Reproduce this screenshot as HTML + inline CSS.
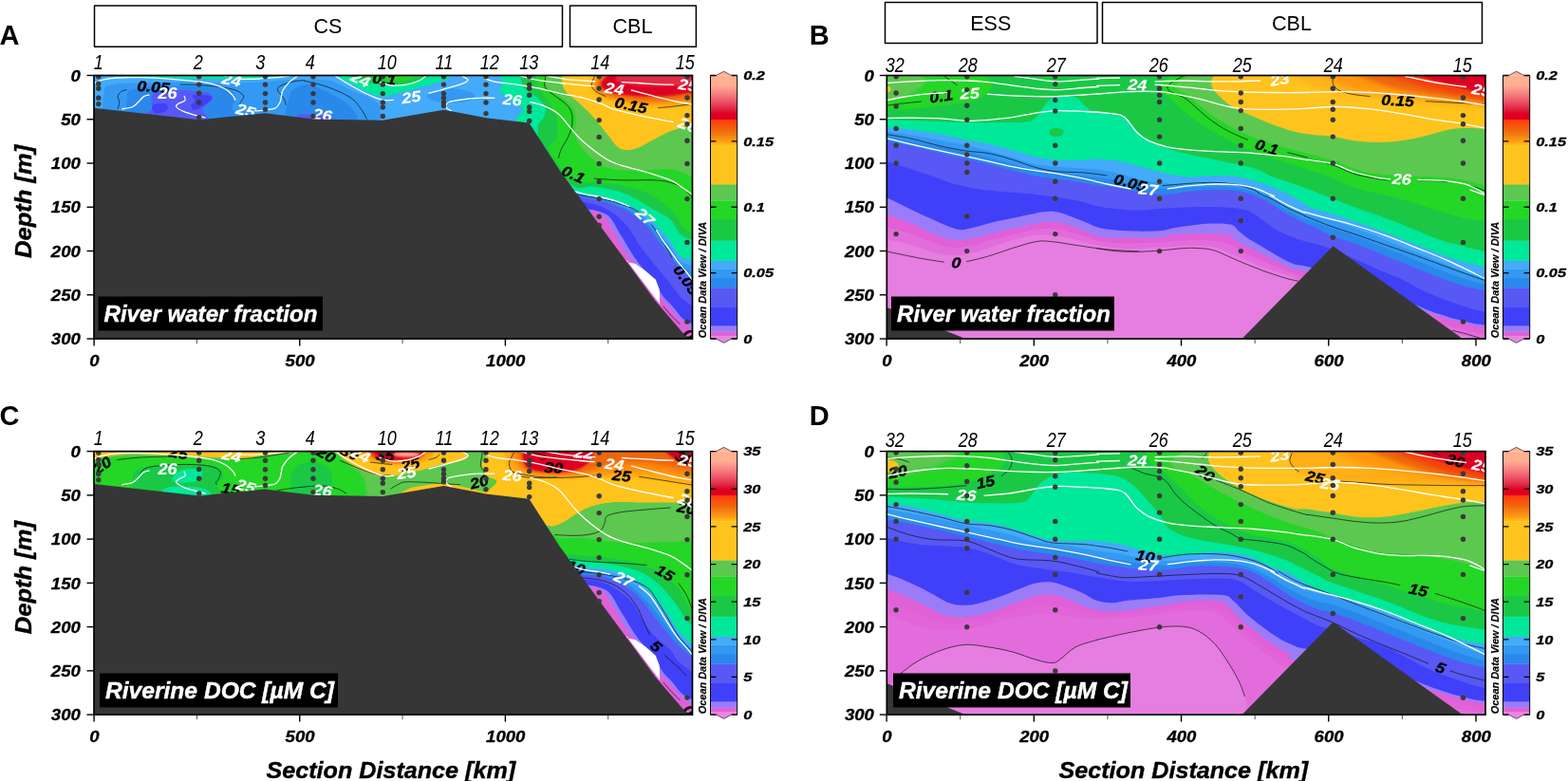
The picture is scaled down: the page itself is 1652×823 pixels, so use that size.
<!DOCTYPE html>
<html lang="en"><head><meta charset="utf-8"><title>Figure</title>
<style>html,body{margin:0;padding:0;background:#fff;}body{width:1652px;height:823px;overflow:hidden;}svg{display:block;font-family:'Liberation Sans', sans-serif;}</style></head><body>
<svg width="1652" height="823" viewBox="0 0 1652 823">
<rect width="1652" height="823" fill="#fff"/>
<!-- panel A -->
<clipPath id="clipA"><rect x="99.0" y="79.5" width="630.5" height="277.5"/></clipPath>
<g clip-path="url(#clipA)">
<defs><filter id="blur1" x="-20%" y="-20%" width="140%" height="140%"><feGaussianBlur stdDeviation="1.2"/></filter><filter id="blur2" x="-20%" y="-20%" width="140%" height="140%"><feGaussianBlur stdDeviation="2"/></filter></defs>
<rect x="99.0" y="79.5" width="630.5" height="277.5" fill="#44aafa"/>
<path d="M108,115 C108.3,111.7 108.8,99.2 110,95 C111.2,90.8 110,91.2 115,90 C120,88.8 127.5,88.1 140,87.5 C152.5,86.9 173.3,86.5 190,86.5 C206.7,86.5 226.2,87.5 240,87.5 C253.8,87.5 262,87.1 273,86.5 C284,85.9 294.8,84.4 306,84 C317.2,83.6 332.2,83.6 340,84 C347.8,84.4 348,84.8 353,86.6 C358,88.4 363.8,92.2 370,95 C376.2,97.8 385,100.5 390,103.3 C395,106.1 398.3,107.5 400,111.6 C401.7,115.7 400,125.3 400,128 L108,128Z" fill="#3399f2" />
<path d="M132.4,118.3 C132.7,115.8 133.4,107 134.1,103.3 C134.8,99.5 132.8,97.8 136.6,95.8 C140.3,93.8 147.7,92.4 156.6,91.6 C165.5,90.8 178.8,90.8 189.9,90.8 C201,90.8 214.3,90.9 223.2,91.6 C232.1,92.3 239,93 243.2,95 C247.3,97 247.8,100.2 248.1,103.3 C248.4,106.3 244.8,110.2 244.8,113.3 C244.8,116.3 247.6,120.2 248.1,121.6 L248,135 L132,135Z" fill="#2a88ea" />
<path d="M299.8,121.6 C300.6,118.5 303.3,107.7 304.7,103.3 C306.1,98.9 305,97.4 308.1,95 C311.2,92.6 318.4,89.4 323.1,89.1 C327.9,88.8 330.2,90.1 336.6,93 C343,95.9 355.2,102.1 361.6,106.6 C368,111.1 372.4,116.4 374.9,120 C377.4,123.6 376.3,126.7 376.6,128 L300,128Z" fill="#2a88ea" />
<path d="M450,101 C450.3,98.9 457,95.8 462,94.5 C467,93.2 474,92.9 480,93.5 C486,94.1 495.2,96.1 498,98 C500.8,99.9 500,103.2 497,105 C494,106.8 486.2,108.2 480,108.5 C473.8,108.8 465,108.2 460,107 C455,105.8 449.7,103.1 450,101Z" fill="#3399f2" />
<path d="M159.9,101.6 C161.3,98.5 163.2,97.7 168.2,96.6 C173.2,95.5 181.8,94.8 189.9,95 C198,95.2 210.9,96.4 216.5,97.5 C222.1,98.6 222.1,100.2 223.2,101.6 C224.3,103 224,104.4 223.2,105.8 C222.4,107.2 219.9,108.2 218.2,110 C216.5,111.8 213.5,113.6 213.2,116.6 C212.9,119.6 226.5,126.8 216.5,128 C206.5,129.2 162.7,126.2 153.3,124 C143.9,121.8 158.8,118.7 159.9,115 C161,111.3 158.5,104.7 159.9,101.6Z" fill="#5858f5" />
<path d="M161,111 C162.7,109.3 170.3,108.7 173,109 C175.7,109.3 177,111.5 177,113 C177,114.5 175.3,117 173,118 C170.7,119 165,120.2 163,119 C161,117.8 159.3,112.7 161,111Z" fill="#4040f8" />
<path d="M203,100 C205.6,99.2 218.3,100.1 221.5,101 C224.7,101.9 223.1,103.8 222,105.5 C220.9,107.2 217.8,109.2 215,111 C212.2,112.8 207.2,116 205,116 C202.8,116 201.3,112.7 201.5,111 C201.7,109.3 205.8,107.8 206,106 C206.2,104.2 200.4,100.8 203,100Z" fill="#4040f8" />
<path d="M313,120.8 L333,120.3 L350,123.5 L350,128 L313,128Z" fill="#5858f5" />
<path d="M110,79.5 C116.7,79.9 133.8,81.4 150,82 C166.2,82.6 192,82.8 207,83 C222,83.2 229.5,83.5 240,83.5 C250.5,83.5 261.7,83.3 270,83 C278.3,82.7 282.8,82.1 290,81.5 C297.2,80.9 309.2,79.8 313,79.5 L313,78 L110,78Z" fill="#00e89a" />
<path d="M353.3,79.5 C356.1,81 363.8,85.2 369.9,88.3 C376,91.4 384.3,96.1 389.9,98.3 C395.4,100.5 398.2,101.6 403.2,101.6 C408.2,101.6 412.9,100 419.9,98.3 C426.8,96.6 437.7,93.5 444.9,91.6 C452.1,89.6 457.7,88.6 463.2,86.6 C468.7,84.6 475.6,80.7 478.1,79.5 L478,78 L353,78Z" fill="#00e89a" />
<path d="M366.6,79.5 C369.9,80.7 379.9,84.8 386.6,86.6 C393.3,88.3 399.7,89.7 406.6,90 C413.5,90.3 421.6,89.4 428.2,88.3 C434.8,87.2 442.3,84.8 446.5,83.3 C450.7,81.8 452.1,80.1 453.2,79.5 L453,78 L366,78Z" fill="#1ac846" />
<path d="M388,79.5 C390,80.2 395,83 400,84 C405,85 412.3,85.7 418,85.5 C423.7,85.3 430.3,84 434,83 C437.7,82 439,80.1 440,79.5 L440,78 L388,78Z" fill="#24d626" />
<path d="M606,203.5 C610.3,204.3 624.6,206.8 631.6,208.5 C638.6,210.2 642.7,211.6 648.2,213.5 C653.8,215.4 659.4,217 664.9,220 C670.4,223 676.5,227.2 681.5,231.5 C686.5,235.8 690.6,240.9 694.8,245.6 C699,250.3 702.9,255 706.5,259.9 C710.1,264.8 712.7,271.5 716.5,274.9 C720.3,278.2 727.3,279.1 729.5,280 L731.5,359 L600,359Z" fill="#3399f2" />
<path d="M607,205 C611.1,205.8 624.7,208.3 631.6,210 C638.5,211.7 642.7,212.9 648.2,215 C653.8,217.1 659.4,219.2 664.9,222.5 C670.4,225.8 676.7,230.5 681.5,235 C686.3,239.5 689.3,244.5 693.5,249.5 C697.7,254.5 702.7,260.1 706.5,265 C710.3,269.9 712.7,275.3 716.5,279 C720.3,282.7 727.3,285.7 729.5,287 L731.5,359 L600,359Z" fill="#2a88ea" />
<path d="M608.3,206.6 C612.2,207.4 625,209.9 631.6,211.6 C638.2,213.3 642.7,214.4 648.2,216.6 C653.8,218.8 659.4,221.3 664.9,224.9 C670.4,228.5 676.8,233.6 681.5,238.3 C686.2,243 689,247.9 693.2,253.2 C697.4,258.5 702.6,264.9 706.5,269.9 C710.4,274.9 712.7,279 716.5,283.2 C720.3,287.4 727.3,292.9 729.5,294.9 L731.5,359 L600,359Z" fill="#5858f5" />
<path d="M611,212 C614.4,212.8 625.4,214.7 631.6,217 C637.8,219.3 642.9,222.2 648,226 C653.1,229.8 657.5,234.3 662,240 C666.5,245.7 671,254.4 674.9,260 C678.8,265.6 682,268.9 685.6,273.4 C689.2,277.8 692.7,282.3 696.3,286.7 C699.9,291.1 703.5,295.5 707,300 C710.5,304.5 713.9,309.7 717.6,313.5 C721.4,317.3 727.5,321.2 729.5,322.8 L731.5,359 L600,359Z" fill="#4040f8" />
<path d="M618.2,219.9 C621.8,221 634.1,222.2 639.9,226.6 C645.7,231 648.8,239.7 653.2,246.6 C657.6,253.5 662.7,262.5 666.5,268.2 C670.3,273.9 672.2,276.4 676,281 C679.8,285.6 685.2,290.8 689,296 C692.8,301.2 695.2,307.6 698.5,312.1 C701.8,316.6 705.1,319 708.5,322.8 C711.9,326.6 715.1,331.8 718.6,334.9 C722.1,338 727.7,340.4 729.5,341.5 L731.5,359 L600,359Z" fill="#9a7cf8" />
<path d="M623.2,220.8 C625.4,222.1 632.4,224 636.6,228.3 C640.8,232.6 644.3,240.2 648.2,246.6 C652.1,253 656.3,261.2 659.9,266.6 C663.5,272 666,274.1 670,279 C674,283.9 679.9,290.5 684,296 C688.1,301.5 691.5,307.6 694.9,312.1 C698.3,316.6 700.9,319 704.3,322.8 C707.6,326.6 711.4,331.3 715,334.9 C718.6,338.5 723.3,342.2 725.7,344.2 C728.1,346.2 728.9,346.4 729.5,346.9 L731.5,359 L600,359Z" fill="#e060d8" />
<path d="M524.8,79.5 C525.6,80.7 529.5,83.8 529.8,86.6 C530.1,89.4 525.3,93.8 526.4,96.6 C527.5,99.4 532.5,100.5 536.4,103.3 C540.3,106.1 547.8,110.5 549.7,113.3 C551.7,116.1 548.9,117.5 548.1,120 C547.3,122.5 542.7,121.6 544.7,128.3 C546.7,135 549.7,147.8 560,160 C570.3,172.2 594.7,193.8 606.6,201.6 C618.5,209.4 624.7,204.9 631.6,206.6 C638.5,208.3 642.7,209.8 648.2,211.6 C653.8,213.4 659.4,214.7 664.9,217.5 C670.4,220.3 676.5,224.3 681.5,228.3 C686.5,232.3 690.6,237.2 694.8,241.6 C699,246 702.9,250.2 706.5,254.9 C710.1,259.6 712.7,266.8 716.5,269.9 C720.3,272.9 727.3,272.6 729.5,273.2 L731.5,273 L731.5,77.5 L524.8,77.5Z" fill="#00e89a" />
<path d="M548.1,79.5 C548.4,80.7 548.9,84.3 549.7,86.6 C550.5,88.9 550.3,90.5 553.1,93.3 C555.9,96.1 562.8,100 566.4,103.3 C570,106.6 573.6,110 574.7,113.3 C575.8,116.6 574.4,119.4 573,123.3 C571.6,127.2 566.1,129.7 566.4,136.6 C566.7,143.5 568.9,155.1 575,165 C581.1,174.9 595.3,190.5 603.3,195.8 C611.3,201.1 617.1,196.1 623.2,196.6 C629.3,197.1 634.4,198 639.9,199.1 C645.4,200.2 651,201.2 656.5,203.3 C662,205.4 667.7,208.6 673.2,211.6 C678.8,214.6 684.2,218.3 689.8,221.6 C695.3,224.9 702,227.4 706.5,231.6 C711,235.8 712.7,243 716.5,246.6 C720.3,250.2 727.3,252.1 729.5,253.2 L731.5,253 L731.5,77.5 L548,77.5Z" fill="#1ac846" />
<path d="M565,79.5 C565.3,81.5 564.4,86.8 566.6,91.6 C568.8,96.4 575,102.8 578.3,108.3 C581.6,113.8 585.2,118.8 586.6,124.9 C588,131 588,139.6 586.6,144.9 C585.2,150.2 577.7,151.6 578.3,156.6 C578.9,161.6 585.9,169.4 590,175 C594.1,180.6 596.1,187.1 603,190 C609.9,192.9 622.7,191.5 631.6,192.5 C640.5,193.5 648.2,194 656.5,195.8 C664.8,197.6 674.5,200.4 681.5,203.3 C688.5,206.2 693.2,209.4 698.2,213.3 C703.2,217.2 707.6,221.9 711.5,226.6 C715.4,231.3 718.5,238.4 721.5,241.6 C724.5,244.8 728.2,245.3 729.5,246 L731.5,246 L731.5,77.5 L565,77.5Z" fill="#24d626" />
<path d="M575.8,79.5 C575.8,81.5 573.4,87.9 575.8,91.6 C578.1,95.3 585.3,98 589.9,101.6 C594.5,105.2 600.5,109.4 603.3,113.3 C606.1,117.2 606,119.6 606.6,124.9 C607.2,130.2 604.4,138.5 606.6,144.9 C608.8,151.3 614.4,157.9 619.9,163.2 C625.4,168.5 631,173.7 639.9,176.5 C648.8,179.3 662.1,179.6 673.2,179.9 C684.3,180.2 697.1,177.1 706.5,178.2 C715.9,179.3 725.7,185.1 729.5,186.5 L731.5,186 L731.5,77.5 L575.8,77.5Z" fill="#5cc850" />
<path d="M591.6,79.5 C592.1,82.1 591.9,90.2 594.9,95 C597.9,99.8 604.6,103.3 609.9,108.3 C615.2,113.3 621.6,119.4 626.6,124.9 C631.6,130.5 635.5,136.3 639.9,141.6 C644.3,146.9 648.2,154.1 653.2,156.6 C658.2,159.1 663.7,158.3 669.8,156.6 C675.9,154.9 683.7,149.6 689.8,146.6 C695.9,143.6 699.9,140.8 706.5,138.3 C713.1,135.8 725.7,132.7 729.5,131.6 L731.5,131 L731.5,77.5 L591.6,77.5Z" fill="#ffc31e" />
<path d="M629.9,79.5 C628.8,81.2 622.7,86.3 623.2,90 C623.8,93.7 627.7,98.5 633.2,101.6 C638.8,104.6 648.5,106.6 656.5,108.3 C664.5,110 673.2,111 681.5,111.6 C689.8,112.1 698.5,111.9 706.5,111.6 C714.5,111.3 725.7,110.3 729.5,110 L731.5,110 L731.5,77.5 L629.9,77.5Z" fill="#ffa010" filter="url(#blur2)"/>
<path d="M634,79.5 C633,81.1 627.5,85.8 628,89 C628.5,92.2 632.2,96.4 637,99 C641.8,101.6 649.1,103.2 656.5,104.5 C663.9,105.8 673.2,106.7 681.5,107 C689.8,107.3 698.5,107 706.5,106.5 C714.5,106 725.7,104.4 729.5,104 L731.5,104 L731.5,77.5 L634,77.5Z" fill="#ee6610" filter="url(#blur2)"/>
<path d="M639.9,79.5 C638.8,81 633.2,85.5 633.2,88.3 C633.2,91.1 636,94.6 639.9,96.6 C643.8,98.5 649.6,99.2 656.5,100 C663.4,100.8 673.2,101.5 681.5,101.6 C689.8,101.7 698.5,101.5 706.5,100.8 C714.5,100.1 725.7,98 729.5,97.5 L731.5,97.5 L731.5,77.5 L639.9,77.5Z" fill="#dd0022" filter="url(#blur1)"/>
<path d="M650,79.5 C650,80.6 646.7,84.2 650,86 C653.3,87.8 661.7,89.2 670,90 C678.3,90.8 690.1,91 700,91 C709.9,91 724.6,90.2 729.5,90 L731.5,90 L731.5,77.5 L650,77.5Z" fill="#e22a45" filter="url(#blur1)"/>
<path d="M124.1,114.9 C124.4,113.7 125.8,109.7 125.8,107.5 C125.8,105.2 123.8,103.4 124.1,101.6 C124.4,99.8 125.9,97.8 127.5,96.6 C129,95.4 132.6,94.8 133.6,94.5" fill="none" stroke="#111" stroke-width="0.7"/>
<path d="M189.9,89.1 C193.2,89.2 202.9,89.2 209.9,89.6 C216.8,90.1 225.1,90.8 231.5,91.6 C237.9,92.5 244,93.4 248.1,95 C252.3,96.5 255.4,99 256.5,100.8 C257.6,102.6 255.5,104.4 254.8,105.8 C254.1,107.2 252.7,108.6 252.3,109.1" fill="none" stroke="#111" stroke-width="0.7"/>
<path d="M301.4,110.8 C301,109.5 300.4,105.9 298.9,103.3 C297.4,100.7 292.7,97.2 292.3,95 C291.8,92.8 293.5,91.5 296.4,90 C299.3,88.5 305.7,86.7 309.7,85.8 C313.8,84.9 318.8,84.8 320.6,84.6" fill="none" stroke="#111" stroke-width="0.7"/>
<path d="M320,85 C324.2,86.1 336.6,88.6 345,91.6 C353.3,94.7 363.8,99.1 369.9,103.3 C376,107.5 378.8,112.9 381.6,116.6 C384.4,120.4 385.8,124.2 386.6,125.8" fill="none" stroke="#111" stroke-width="0.7"/>
<path d="M575,80 C574.8,81.9 572.7,88.3 574.1,91.6 C575.5,95 579.5,96.9 583.3,100 C587,103 593.4,106.6 596.6,110 C599.8,113.3 601.5,116.1 602.4,119.9 C603.4,123.8 603.1,129.1 602.4,133.3 C601.7,137.4 600.1,141 598.3,144.9 C596.5,148.8 593.3,153 591.6,156.6 C589.9,160.2 588.8,164.9 588.3,166.6" fill="none" stroke="#111" stroke-width="0.7"/>
<path d="M626.6,80 C626,81.7 623,87.2 623.2,90 C623.5,92.8 625.7,94.7 628.2,96.6 C630.7,98.6 636.6,100.8 638.2,101.6" fill="none" stroke="#111" stroke-width="0.7"/>
<path d="M693.2,113.6 C695.4,113.4 700.5,113.1 706.5,112.5 C712.5,111.8 725.5,110.1 729.3,109.6" fill="none" stroke="#111" stroke-width="0.7"/>
<path d="M625.7,188.2 C630.9,188.5 645.8,189.6 656.5,189.9 C667.2,190.1 681.5,189.4 689.8,189.9 C698.1,190.3 701.5,191 706.5,192.4 C711.5,193.7 716,195.5 719.8,198.2 C723.6,200.8 727.7,206.5 729.3,208.2" fill="none" stroke="#111" stroke-width="0.7"/>
<path d="M606.6,205 C610.8,205.7 624.6,207.7 631.6,209.1 C638.5,210.5 642.7,211.6 648.2,213.3 C653.8,215 660.7,217.4 664.9,219.1 C669,220.8 671.8,222.9 673.2,223.6" fill="none" stroke="#111" stroke-width="0.7"/>
<path d="M686.5,236.6 C687.6,238.3 690.7,242.7 693.2,246.6 C695.7,250.5 699,255.7 701.5,259.9 C704,264.1 707,269.6 708.1,271.6" fill="none" stroke="#111" stroke-width="0.7"/>
<path d="M624.9,229.9 C626.3,231.9 630.2,237.4 633.2,241.6 C636.3,245.8 641.5,252.7 643.2,254.9" fill="none" stroke="#111" stroke-width="0.7"/>
<path d="M698.9,322.8 C700.3,324.4 704.1,329.1 707,332.2 C709.8,335.3 714.8,340 716.3,341.6" fill="none" stroke="#111" stroke-width="0.7"/>
<text transform="translate(161.6,91.3) rotate(4) scale(1.15,1)" text-anchor="middle" font-size="15.5" font-weight="bold" font-style="italic" fill="#000" stroke="#000" stroke-width="0.35" dy="0.36em">0.05</text>
<text transform="translate(404.9,83) rotate(5) scale(1.15,1)" text-anchor="middle" font-size="15.5" font-weight="bold" font-style="italic" fill="#000" stroke="#000" stroke-width="0.35" dy="0.36em">0.1</text>
<text transform="translate(664.9,110.8) rotate(12) scale(1.15,1)" text-anchor="middle" font-size="15.5" font-weight="bold" font-style="italic" fill="#000" stroke="#000" stroke-width="0.35" dy="0.36em">0.15</text>
<text transform="translate(604.1,183.7) rotate(25) scale(1.15,1)" text-anchor="middle" font-size="15.5" font-weight="bold" font-style="italic" fill="#000" stroke="#000" stroke-width="0.35" dy="0.36em">0.1</text>
<text transform="translate(723.1,294.9) rotate(55) scale(1.15,1)" text-anchor="middle" font-size="15.5" font-weight="bold" font-style="italic" fill="#000" stroke="#000" stroke-width="0.35" dy="0.36em">0.05</text>
<text transform="translate(726.3,352.2) rotate(50) scale(1.15,1)" text-anchor="middle" font-size="15.5" font-weight="bold" font-style="italic" fill="#000" stroke="#000" stroke-width="0.35" dy="0.36em">0</text>
<path d="M100,87.5 C101.4,86.9 104.4,85.1 108.3,84.2 C112.2,83.2 116.6,82.4 123.3,82 C130,81.6 138.6,81.4 148.3,81.7 C158,81.9 171.8,82.6 181.6,83.3 C191.3,84 199.6,85 206.5,85.8 C213.5,86.6 218.2,87.1 223.2,88.3 C228.2,89.6 232.9,91.4 236.5,93.3 C240.1,95.2 242.9,97.9 244.8,100 C246.8,102 247.6,104.8 248.1,105.8" fill="none" stroke="#fff" stroke-width="1.3"/>
<path d="M253.1,83.3 C256.5,83.3 267,83.3 273.1,83 C279.2,82.7 284.5,82.2 289.8,81.7 C295,81.2 302.3,80.3 304.7,80" fill="none" stroke="#fff" stroke-width="1.3"/>
<path d="M128.3,114.9 C130.2,114.5 136.9,113.8 139.9,112.5 C143,111.1 144.7,108.4 146.6,106.6 C148.5,104.8 149.8,102.7 151.6,101.6 C153.4,100.5 156.5,100.2 157.4,100" fill="none" stroke="#fff" stroke-width="1.3"/>
<path d="M194,100.8 C194.2,101.6 195.8,104.4 194.9,105.8 C193.9,107.2 189.7,108 188.2,109.1 C186.7,110.2 184.9,111.1 185.7,112.5 C186.6,113.8 189.7,115.9 193.2,117.4 C196.7,119 202.6,120.5 206.5,121.6 C210.4,122.7 214.9,123.7 216.5,124.1" fill="none" stroke="#fff" stroke-width="1.3"/>
<path d="M268.1,116.9 C270.1,116.8 276.2,116.3 279.8,115.8 C283.4,115.3 287.3,115.4 289.8,114.1 C292.3,112.9 293.7,110.4 294.8,108.3 C295.9,106.2 295.9,103.8 296.4,101.6 C297,99.4 296.7,97.5 298.1,95 C299.5,92.5 302.3,89.1 304.7,86.6 C307.2,84.2 311.7,81.4 313.1,80.3" fill="none" stroke="#fff" stroke-width="1.3"/>
<path d="M353.3,80 C355.5,81.4 361.6,85.4 366.6,88.3 C371.6,91.2 378.3,95 383.3,97.5 C388.3,100 392.7,101.9 396.6,103.3 C400.5,104.7 403.5,105.5 406.6,105.8 C409.6,106.1 413.5,105.4 414.9,105.3" fill="none" stroke="#fff" stroke-width="1.3"/>
<path d="M451.5,98.3 C454.6,97.5 464,95 469.8,93.3 C475.7,91.6 482.6,89.8 486.5,88.3 C490.4,86.8 493.1,85.5 493.1,84.2 C493.1,82.8 487.6,80.7 486.5,80" fill="none" stroke="#fff" stroke-width="1.3"/>
<path d="M399.9,86.6 C402.1,87.2 408.5,89.6 413.2,90 C417.9,90.4 423.5,90 428.2,89.1 C432.9,88.3 438.1,86.5 441.5,85 C445,83.5 447.8,80.8 449,80" fill="none" stroke="#fff" stroke-width="1.3"/>
<path d="M475.7,117.1 C475,116.7 472.5,115.7 471.5,114.6 C470.5,113.6 469.5,112 469.8,110.8 C470.1,109.6 470.4,108.4 473.2,107.5 C475.9,106.5 481.5,105.7 486.5,105 C491.5,104.3 497.3,103.6 503.1,103.3 C508.9,103 518.4,103.3 521.4,103.3" fill="none" stroke="#fff" stroke-width="1.3"/>
<path d="M509.8,82.5 C511.4,83 516.7,85 519.8,85.8 C522.8,86.6 524.8,86.7 528.1,87.1 C531.4,87.6 537.8,88.1 539.7,88.3" fill="none" stroke="#fff" stroke-width="1.3"/>
<path d="M548.3,80 C551.1,80.7 558,82.9 565,84.2 C571.9,85.4 582.2,86.6 589.9,87.5 C597.7,88.4 605.5,89.1 611.6,89.6 C617.7,90.2 624.1,90.6 626.6,90.8" fill="none" stroke="#fff" stroke-width="1.3"/>
<path d="M575.8,80 C579,80.5 588.4,82.5 594.9,83.3 C601.5,84.2 609.5,84.6 614.9,85 C620.3,85.4 625.3,85.7 627.4,85.8" fill="none" stroke="#fff" stroke-width="1.3"/>
<path d="M540,88.3 C544.2,89 556.6,90.8 565,92.5 C573.3,94.1 581.6,96.5 589.9,98.3 C598.3,100.1 607.7,101.5 614.9,103.3 C622.1,105.1 628,107.2 633.2,109.1 C638.5,111.1 639.9,112.9 646.5,114.9 C653.2,117 664.6,119.7 673.2,121.6 C681.8,123.5 692,125.4 698.1,126.6 C704.3,127.8 707.9,128.3 709.8,128.6" fill="none" stroke="#fff" stroke-width="1.3"/>
<path d="M664.9,95 C669,96.1 681.5,99.5 689.8,101.6 C698.1,103.7 708.2,106.1 714.8,107.5 C721.4,108.8 726.9,109.5 729.3,110" fill="none" stroke="#fff" stroke-width="1.3"/>
<path d="M558.3,107.5 C560.8,108.1 568.3,109.5 573.3,111.6 C578.3,113.7 583.8,116.3 588.3,119.9 C592.7,123.5 596.3,129.1 599.9,133.3 C603.5,137.4 606,141 609.9,144.9 C613.8,148.8 618.2,152.7 623.2,156.6 C628.2,160.5 634.3,165.2 639.9,168.2 C645.4,171.3 649.6,172.7 656.5,174.9 C663.5,177.1 673.2,179 681.5,181.5 C689.8,184 700.1,187.1 706.5,189.9 C712.9,192.6 716,195.6 719.8,198.2 C723.6,200.7 727.7,204 729.3,205.2" fill="none" stroke="#fff" stroke-width="1.3"/>
<path d="M654.9,86.6 C657.9,86.8 667.4,87.1 673.2,87.5 C679,87.8 683.7,88.3 689.8,88.6 C695.9,89 706.5,89.2 709.8,89.3" fill="none" stroke="#fff" stroke-width="1.3"/>
<path d="M604.9,201.6 C607.1,202.2 613.8,204 618.2,205 C622.7,205.9 626.6,206.4 631.6,207.5 C636.6,208.6 642.9,210 648.2,211.6 C653.5,213.3 660.7,216.5 663.2,217.5" fill="none" stroke="#fff" stroke-width="1.3"/>
<path d="M691.5,242.4 C692.6,244.2 695.7,249.5 698.1,253.2 C700.6,257 703.7,261 706.5,264.9 C709.2,268.8 712,272.9 714.8,276.6 C717.6,280.2 720.7,283.5 723.1,286.5 C725.5,289.6 728.3,293.5 729.3,294.9" fill="none" stroke="#fff" stroke-width="1.3"/>
<text transform="translate(176.6,98.3) rotate(0) scale(1.15,1)" text-anchor="middle" font-size="15.8" font-weight="bold" font-style="italic" fill="#fff" stroke="#fff" stroke-width="0.15" dy="0.36em">26</text>
<text transform="translate(244,84.2) rotate(12) scale(1.15,1)" text-anchor="middle" font-size="15.8" font-weight="bold" font-style="italic" fill="#fff" stroke="#fff" stroke-width="0.15" dy="0.36em">24</text>
<text transform="translate(259,116.3) rotate(15) scale(1.15,1)" text-anchor="middle" font-size="15.8" font-weight="bold" font-style="italic" fill="#fff" stroke="#fff" stroke-width="0.15" dy="0.36em">25</text>
<text transform="translate(339.7,120.8) rotate(8) scale(1.15,1)" text-anchor="middle" font-size="15.8" font-weight="bold" font-style="italic" fill="#fff" stroke="#fff" stroke-width="0.15" dy="0.36em">26</text>
<text transform="translate(379.9,83.3) rotate(25) scale(1.15,1)" text-anchor="middle" font-size="15.8" font-weight="bold" font-style="italic" fill="#fff" stroke="#fff" stroke-width="0.15" dy="0.36em">24</text>
<text transform="translate(433.2,102.1) rotate(-8) scale(1.15,1)" text-anchor="middle" font-size="15.8" font-weight="bold" font-style="italic" fill="#fff" stroke="#fff" stroke-width="0.15" dy="0.36em">25</text>
<text transform="translate(539.7,105) rotate(5) scale(1.15,1)" text-anchor="middle" font-size="15.8" font-weight="bold" font-style="italic" fill="#fff" stroke="#fff" stroke-width="0.15" dy="0.36em">26</text>
<text transform="translate(647.4,93.3) rotate(8) scale(1.15,1)" text-anchor="middle" font-size="15.8" font-weight="bold" font-style="italic" fill="#fff" stroke="#fff" stroke-width="0.15" dy="0.36em">24</text>
<text transform="translate(724.8,89.6) rotate(8) scale(1.15,1)" text-anchor="middle" font-size="15.8" font-weight="bold" font-style="italic" fill="#fff" stroke="#fff" stroke-width="0.15" dy="0.36em">25</text>
<text transform="translate(724.8,131.6) rotate(20) scale(1.15,1)" text-anchor="middle" font-size="15.8" font-weight="bold" font-style="italic" fill="#fff" stroke="#fff" stroke-width="0.15" dy="0.36em">26</text>
<text transform="translate(679.8,228.3) rotate(42) scale(1.15,1)" text-anchor="middle" font-size="15.8" font-weight="bold" font-style="italic" fill="#fff" stroke="#fff" stroke-width="0.15" dy="0.36em">27</text>
<path d="M660.2,276 L669.5,278 L680.2,285.4 L690.9,294.8 L694.9,305.5 L695.2,320.5 L660,274Z" fill="#fff" />
<path d="M99,113.8 L210,126.3 L279.2,119.2 L330,125.6 L403.3,126.7 L467.5,115.8 L512,124.2 L557.5,129.5 L590,180 L631.2,236.6 L660,275.5 L690,316.5 L724.8,357 L99,357Z" fill="#363636" />
<circle cx="103.8" cy="80.8" r="2.7" fill="#3a3a3a"/><circle cx="103.8" cy="88.3" r="2.7" fill="#3a3a3a"/><circle cx="103.8" cy="93.3" r="2.7" fill="#3a3a3a"/><circle cx="103.8" cy="103.3" r="2.7" fill="#3a3a3a"/><circle cx="103.8" cy="109.6" r="2.7" fill="#3a3a3a"/>
<circle cx="209.7" cy="80.8" r="2.7" fill="#3a3a3a"/><circle cx="209.7" cy="89.1" r="2.7" fill="#3a3a3a"/><circle cx="209.7" cy="98.3" r="2.7" fill="#3a3a3a"/><circle cx="209.7" cy="108" r="2.7" fill="#3a3a3a"/><circle cx="209.7" cy="123.8" r="2.7" fill="#3a3a3a"/>
<circle cx="279.5" cy="80.8" r="2.7" fill="#3a3a3a"/><circle cx="279.5" cy="89.1" r="2.7" fill="#3a3a3a"/><circle cx="279.5" cy="98.6" r="2.7" fill="#3a3a3a"/><circle cx="279.5" cy="108" r="2.7" fill="#3a3a3a"/><circle cx="279.5" cy="115.3" r="2.7" fill="#3a3a3a"/>
<circle cx="330" cy="80.8" r="2.7" fill="#3a3a3a"/><circle cx="330" cy="89.1" r="2.7" fill="#3a3a3a"/><circle cx="330" cy="98.6" r="2.7" fill="#3a3a3a"/><circle cx="330" cy="108" r="2.7" fill="#3a3a3a"/><circle cx="330" cy="122.4" r="2.7" fill="#3a3a3a"/>
<circle cx="403.3" cy="80.8" r="2.7" fill="#3a3a3a"/><circle cx="403.3" cy="89.1" r="2.7" fill="#3a3a3a"/><circle cx="403.3" cy="98.6" r="2.7" fill="#3a3a3a"/><circle cx="403.3" cy="108" r="2.7" fill="#3a3a3a"/><circle cx="403.3" cy="113" r="2.7" fill="#3a3a3a"/><circle cx="403.3" cy="122.4" r="2.7" fill="#3a3a3a"/>
<circle cx="467.5" cy="80.8" r="2.7" fill="#3a3a3a"/><circle cx="467.5" cy="89.1" r="2.7" fill="#3a3a3a"/><circle cx="467.5" cy="98.6" r="2.7" fill="#3a3a3a"/><circle cx="467.5" cy="103.3" r="2.7" fill="#3a3a3a"/><circle cx="467.5" cy="108" r="2.7" fill="#3a3a3a"/><circle cx="467.5" cy="111.6" r="2.7" fill="#3a3a3a"/>
<circle cx="512" cy="80.8" r="2.7" fill="#3a3a3a"/><circle cx="512" cy="89.1" r="2.7" fill="#3a3a3a"/><circle cx="512" cy="98.6" r="2.7" fill="#3a3a3a"/><circle cx="512" cy="108" r="2.7" fill="#3a3a3a"/><circle cx="512" cy="119.6" r="2.7" fill="#3a3a3a"/>
<circle cx="557.7" cy="80.8" r="2.7" fill="#3a3a3a"/><circle cx="557.7" cy="89.1" r="2.7" fill="#3a3a3a"/><circle cx="557.7" cy="93.3" r="2.7" fill="#3a3a3a"/><circle cx="557.7" cy="100.3" r="2.7" fill="#3a3a3a"/><circle cx="557.7" cy="113" r="2.7" fill="#3a3a3a"/><circle cx="557.7" cy="117.4" r="2.7" fill="#3a3a3a"/><circle cx="557.7" cy="127.4" r="2.7" fill="#3a3a3a"/>
<circle cx="631.2" cy="80.8" r="2.7" fill="#3a3a3a"/><circle cx="631.2" cy="93.3" r="2.7" fill="#3a3a3a"/><circle cx="631.2" cy="105" r="2.7" fill="#3a3a3a"/><circle cx="631.2" cy="126.6" r="2.7" fill="#3a3a3a"/><circle cx="631.2" cy="144.4" r="2.7" fill="#3a3a3a"/><circle cx="631.2" cy="172.4" r="2.7" fill="#3a3a3a"/><circle cx="631.2" cy="191.4" r="2.7" fill="#3a3a3a"/><circle cx="631.2" cy="209.6" r="2.7" fill="#3a3a3a"/><circle cx="631.2" cy="228.3" r="2.7" fill="#3a3a3a"/><circle cx="631.2" cy="237.4" r="2.7" fill="#3a3a3a"/>
<circle cx="724" cy="80.8" r="2.7" fill="#3a3a3a"/><circle cx="724" cy="103" r="2.7" fill="#3a3a3a"/><circle cx="724" cy="121.6" r="2.7" fill="#3a3a3a"/><circle cx="724" cy="130.8" r="2.7" fill="#3a3a3a"/><circle cx="724" cy="148.2" r="2.7" fill="#3a3a3a"/><circle cx="724" cy="172.4" r="2.7" fill="#3a3a3a"/><circle cx="724" cy="209.6" r="2.7" fill="#3a3a3a"/><circle cx="724" cy="255.4" r="2.7" fill="#3a3a3a"/><circle cx="724" cy="338.9" r="2.7" fill="#3a3a3a"/>
</g>
<rect x="99.0" y="79.5" width="630.5" height="277.5" fill="none" stroke="#000" stroke-width="1.7"/>
<path d="M91.5,79.50 H99.0" stroke="#000" stroke-width="1.4"/>
<text transform="translate(84.80,85.70) scale(1.19,1)" text-anchor="end" font-size="15.6" font-weight="bold" font-style="italic" stroke="#000" stroke-width="0.3" stroke-linejoin="round">0</text>
<path d="M91.5,125.75 H99.0" stroke="#000" stroke-width="1.4"/>
<text transform="translate(84.80,131.95) scale(1.19,1)" text-anchor="end" font-size="15.6" font-weight="bold" font-style="italic" stroke="#000" stroke-width="0.3" stroke-linejoin="round">50</text>
<path d="M91.5,172.00 H99.0" stroke="#000" stroke-width="1.4"/>
<text transform="translate(84.80,178.20) scale(1.19,1)" text-anchor="end" font-size="15.6" font-weight="bold" font-style="italic" stroke="#000" stroke-width="0.3" stroke-linejoin="round">100</text>
<path d="M91.5,218.25 H99.0" stroke="#000" stroke-width="1.4"/>
<text transform="translate(84.80,224.45) scale(1.19,1)" text-anchor="end" font-size="15.6" font-weight="bold" font-style="italic" stroke="#000" stroke-width="0.3" stroke-linejoin="round">150</text>
<path d="M91.5,264.50 H99.0" stroke="#000" stroke-width="1.4"/>
<text transform="translate(84.80,270.70) scale(1.19,1)" text-anchor="end" font-size="15.6" font-weight="bold" font-style="italic" stroke="#000" stroke-width="0.3" stroke-linejoin="round">200</text>
<path d="M91.5,310.75 H99.0" stroke="#000" stroke-width="1.4"/>
<text transform="translate(84.80,316.95) scale(1.19,1)" text-anchor="end" font-size="15.6" font-weight="bold" font-style="italic" stroke="#000" stroke-width="0.3" stroke-linejoin="round">250</text>
<path d="M91.5,357.00 H99.0" stroke="#000" stroke-width="1.4"/>
<text transform="translate(84.80,363.20) scale(1.19,1)" text-anchor="end" font-size="15.6" font-weight="bold" font-style="italic" stroke="#000" stroke-width="0.3" stroke-linejoin="round">300</text>
<path d="M99.10,357 V364.5" stroke="#000" stroke-width="1.4"/>
<text transform="translate(99.40,385.50) scale(1.19,1)" text-anchor="middle" font-size="15.6" font-weight="bold" font-style="italic" stroke="#000" stroke-width="0.3" stroke-linejoin="round">0</text>
<path d="M315.75,357 V364.5" stroke="#000" stroke-width="1.4"/>
<text transform="translate(316.05,385.50) scale(1.19,1)" text-anchor="middle" font-size="15.6" font-weight="bold" font-style="italic" stroke="#000" stroke-width="0.3" stroke-linejoin="round">500</text>
<path d="M532.40,357 V364.5" stroke="#000" stroke-width="1.4"/>
<text transform="translate(532.70,385.50) scale(1.19,1)" text-anchor="middle" font-size="15.6" font-weight="bold" font-style="italic" stroke="#000" stroke-width="0.3" stroke-linejoin="round">1000</text>
<path d="M207.43,357 V362" stroke="#000" stroke-width="0.7"/>
<path d="M424.08,357 V362" stroke="#000" stroke-width="0.7"/>
<path d="M640.73,357 V362" stroke="#000" stroke-width="0.7"/>
<text transform="translate(103.80,72.60) scale(0.84,1)" text-anchor="middle" font-size="21.5" font-style="italic">1</text>
<text transform="translate(208.80,72.60) scale(0.84,1)" text-anchor="middle" font-size="21.5" font-style="italic">2</text>
<text transform="translate(274.30,72.60) scale(0.84,1)" text-anchor="middle" font-size="21.5" font-style="italic">3</text>
<text transform="translate(326.80,72.60) scale(0.84,1)" text-anchor="middle" font-size="21.5" font-style="italic">4</text>
<text transform="translate(407.80,72.60) scale(0.84,1)" text-anchor="middle" font-size="21.5" font-style="italic">10</text>
<text transform="translate(467.80,72.60) scale(0.84,1)" text-anchor="middle" font-size="21.5" font-style="italic">11</text>
<text transform="translate(515.80,72.60) scale(0.84,1)" text-anchor="middle" font-size="21.5" font-style="italic">12</text>
<text transform="translate(557.30,72.60) scale(0.84,1)" text-anchor="middle" font-size="21.5" font-style="italic">13</text>
<text transform="translate(632.30,72.60) scale(0.84,1)" text-anchor="middle" font-size="21.5" font-style="italic">14</text>
<text transform="translate(721.80,72.60) scale(0.84,1)" text-anchor="middle" font-size="21.5" font-style="italic">15</text>
<defs><linearGradient id="cgA" x1="0" y1="1" x2="0" y2="0">
<stop offset="0.0000" stop-color="#ffc31e"/>
<stop offset="0.0566" stop-color="#ffa010"/>
<stop offset="0.2075" stop-color="#f06a10"/>
<stop offset="0.3660" stop-color="#ff3a0a"/>
<stop offset="0.3660" stop-color="#dd0022"/>
<stop offset="0.4566" stop-color="#dd0022"/>
<stop offset="0.5245" stop-color="#e02840"/>
<stop offset="0.6038" stop-color="#e84a62"/>
<stop offset="0.7358" stop-color="#f88080"/>
<stop offset="0.8151" stop-color="#ff9c90"/>
<stop offset="0.8679" stop-color="#ffb090"/>
<stop offset="1.0000" stop-color="#ffb090"/>
</linearGradient></defs>
<rect x="748.5" y="353.67" width="28.200000000000045" height="3.63" fill="#e986e2"/>
<rect x="748.5" y="349.51" width="28.200000000000045" height="4.46" fill="#e060d8"/>
<rect x="748.5" y="343.12" width="28.200000000000045" height="6.68" fill="#9a7cf8"/>
<rect x="748.5" y="323.70" width="28.200000000000045" height="19.73" fill="#4040f8"/>
<rect x="748.5" y="303.17" width="28.200000000000045" height="20.83" fill="#5858f5"/>
<rect x="748.5" y="292.90" width="28.200000000000045" height="10.57" fill="#2a88ea"/>
<rect x="748.5" y="283.19" width="28.200000000000045" height="10.01" fill="#3399f2"/>
<rect x="748.5" y="274.58" width="28.200000000000045" height="8.90" fill="#44aafa"/>
<rect x="748.5" y="253.49" width="28.200000000000045" height="21.39" fill="#00e89a"/>
<rect x="748.5" y="231.01" width="28.200000000000045" height="22.78" fill="#1ac846"/>
<rect x="748.5" y="211.31" width="28.200000000000045" height="20.00" fill="#24d626"/>
<rect x="748.5" y="194.11" width="28.200000000000045" height="17.50" fill="#5cc850"/>
<rect x="748.5" y="153.04" width="28.200000000000045" height="41.37" fill="#ffc31e"/>
<rect x="748.5" y="79.50" width="28.200000000000045" height="73.84" fill="url(#cgA)"/>
<path d="M748.5,79.5 L754.5,79.5 L762.6,75.2 L770.7,79.5 L776.7,79.5 Z" fill="#ffb090"/>
<path d="M748.5,357 L754.5,357 L762.6,361.3 L770.7,357 L776.7,357 Z" fill="#e986e2"/>
<path d="M748.5,357 L748.5,79.5 M776.7,79.5 L776.7,357" stroke="#000" stroke-width="1" fill="none"/>
<path d="M748.5,79.5 L754.5,79.5 L762.6,75.2 L770.7,79.5 L776.7,79.5 M748.5,357 L754.5,357 L762.6,361.3 L770.7,357 L776.7,357" stroke="#000" stroke-width="0.6" fill="none"/>
<path d="M748.5,357.00 h6 M776.7,357.00 h-6" stroke="#000" stroke-width="1.3" fill="none"/>
<text transform="translate(783.20,361.80) scale(1.2,1)" text-anchor="start" font-size="13.6" font-weight="bold" font-style="italic" stroke="#000" stroke-width="0.3" stroke-linejoin="round">0</text>
<path d="M748.5,287.62 h6 M776.7,287.62 h-6" stroke="#000" stroke-width="1.3" fill="none"/>
<text transform="translate(783.20,292.43) scale(1.2,1)" text-anchor="start" font-size="13.6" font-weight="bold" font-style="italic" stroke="#000" stroke-width="0.3" stroke-linejoin="round">0.05</text>
<path d="M748.5,218.25 h6 M776.7,218.25 h-6" stroke="#000" stroke-width="1.3" fill="none"/>
<text transform="translate(783.20,223.05) scale(1.2,1)" text-anchor="start" font-size="13.6" font-weight="bold" font-style="italic" stroke="#000" stroke-width="0.3" stroke-linejoin="round">0.1</text>
<path d="M748.5,148.88 h6 M776.7,148.88 h-6" stroke="#000" stroke-width="1.3" fill="none"/>
<text transform="translate(783.20,153.68) scale(1.2,1)" text-anchor="start" font-size="13.6" font-weight="bold" font-style="italic" stroke="#000" stroke-width="0.3" stroke-linejoin="round">0.15</text>
<path d="M748.5,79.50 h6 M776.7,79.50 h-6" stroke="#000" stroke-width="1.3" fill="none"/>
<text transform="translate(783.20,84.30) scale(1.2,1)" text-anchor="start" font-size="13.6" font-weight="bold" font-style="italic" stroke="#000" stroke-width="0.3" stroke-linejoin="round">0.2</text>
<text transform="translate(743.50,356.20) rotate(-90) scale(0.945,1)" text-anchor="start" font-size="11.6" font-weight="bold" font-style="italic" stroke="#000" stroke-width="0.2" stroke-linejoin="round">Ocean Data View / DIVA</text>
<rect x="103.5" y="312.5" width="236.5" height="36.0" fill="#000"/><text x="109.5" y="339.20" fill="#fff" stroke="#fff" stroke-width="0.4" font-size="24" font-weight="bold" font-style="italic" textLength="225" lengthAdjust="spacingAndGlyphs">River water fraction</text>
<text x="-0.5" y="46.8" font-size="29" font-weight="bold">A</text>
<!-- panel B -->
<clipPath id="clipB"><rect x="934.3" y="79.5" width="630.7" height="277.5"/></clipPath>
<g clip-path="url(#clipB)">
<defs><filter id="blur3" x="-20%" y="-20%" width="140%" height="140%"><feGaussianBlur stdDeviation="3"/></filter></defs>
<rect x="934" y="79.5" width="631" height="277.5" fill="#1ac846"/>
<path d="M931,115 C935.5,115 948.2,115.6 958.3,115 C968.4,114.4 980.5,113 991.6,111.6 C1002.7,110.2 1016.6,109.1 1024.9,106.6 C1033.2,104.1 1038.2,99.6 1041.5,96.6 C1044.8,93.5 1045.5,91.1 1044.9,88.3 C1044.4,85.5 1039.3,81 1038.2,79.5 L1038,76.5 L931,76.5Z" fill="#24d626" />
<path d="M931,107 C934.2,106.3 944.2,105 950,103 C955.8,101 961.8,97.7 966,95 C970.2,92.3 974.3,89.2 975,86.6 C975.7,84 970.8,80.7 970,79.5 L970,76.5 L931,76.5Z" fill="#5cc850" filter="url(#blur1)"/>
<path d="M934,90 L938.5,92 L938.5,96 L934,97.5Z" fill="#ffc31e" />
<path d="M1235,79.5 C1232.8,81.4 1221.8,86.4 1222,91 C1222.2,95.6 1230.3,101.5 1236,107 C1241.7,112.5 1248.3,118.3 1256,124 C1263.7,129.7 1273,135.8 1282,141 C1291,146.2 1298.7,150.2 1310,155 C1321.3,159.8 1335,164.8 1350,170 C1365,175.2 1387.2,181.3 1400,186 C1412.8,190.7 1414.2,194 1427,198 C1439.8,202 1461.8,205.8 1477,210 C1492.2,214.2 1507.4,220 1518.5,223.3 C1529.6,226.6 1535.2,228.3 1543.5,230 C1551.8,231.7 1563.9,232.8 1568,233.3 L1568,76.5 L1235,76.5Z" fill="#24d626" />
<path d="M1252,79.5 C1249.7,81.5 1238,88.1 1238,91.6 C1238,95.1 1247,96.7 1252,100.5 C1257,104.3 1261.3,109.4 1268,114.5 C1274.7,119.6 1283.7,126.2 1292,131 C1300.3,135.8 1307.2,139.2 1318,143.5 C1328.8,147.8 1342.6,152.2 1357,156.5 C1371.4,160.8 1392.8,165.4 1404.5,169 C1416.2,172.6 1419.1,175.6 1427,178 C1434.9,180.4 1440.9,182.2 1452,183.5 C1463.1,184.8 1481,185.3 1493.5,186 C1506,186.7 1517.1,186.5 1526.8,187.5 C1536.5,188.5 1544.9,190.4 1551.8,192 C1558.7,193.6 1565.3,196.2 1568,197 L1568,76.5 L1252,76.5Z" fill="#5cc850" />
<path d="M1278.2,79.5 C1277.9,81.2 1275.4,86.3 1276.5,90 C1277.6,93.7 1280.9,97.7 1284.8,101.6 C1288.7,105.5 1293.7,109.7 1299.8,113.3 C1305.9,116.9 1313.7,120 1321.5,123.3 C1329.3,126.6 1338.1,130.4 1346.4,133.3 C1354.7,136.2 1361.7,138.8 1371.4,140.6 C1381.1,142.4 1395.2,142.7 1404.5,144 C1413.8,145.3 1419.1,147.2 1427,148.2 C1434.9,149.2 1443.6,149.9 1451.9,149.9 C1460.2,149.9 1468.6,149.3 1476.9,148.2 C1485.2,147.1 1493.6,145.1 1501.9,143.2 C1510.2,141.3 1519.9,138 1526.8,136.6 C1533.7,135.2 1536.6,135 1543.5,134.9 C1550.4,134.8 1563.9,135.7 1568,135.8 L1568,76.5 L1278,76.5Z" fill="#ffc31e" />
<path d="M1360,77 C1364.2,79.5 1375,88.2 1385,92 C1395,95.8 1407.5,98 1420,100 C1432.5,102 1445,102.6 1460,104 C1475,105.4 1491.7,107 1510,108.5 C1528.3,110 1560,112.2 1570,113 L1568,76.5 L1360,76.5Z" fill="#ffb41a" filter="url(#blur3)"/>
<path d="M1390,77 C1395.3,79.7 1410.3,89.2 1422,93 C1433.7,96.8 1445.3,97.4 1460,99.5 C1474.7,101.6 1491.7,103.6 1510,105.5 C1528.3,107.4 1560,110.1 1570,111 L1568,76.5 L1390,76.5Z" fill="#ff9610" filter="url(#blur3)"/>
<path d="M1424,77 C1431,79.5 1450.3,87.9 1466,92 C1481.7,96.1 1500.7,98.8 1518,101.5 C1535.3,104.2 1561.3,107.3 1570,108.5 L1568,76.5 L1424,76.5Z" fill="#ee6610" filter="url(#blur2)"/>
<path d="M1454,77 C1461.2,79.2 1483,86.8 1497,90.5 C1511,94.2 1525.8,97.1 1538,99.5 C1550.2,101.9 1564.7,104.1 1570,105 L1568,76.5 L1454,76.5Z" fill="#f4400c" filter="url(#blur2)"/>
<path d="M1485,77 C1490.8,78.8 1505.8,83.7 1520,87.5 C1534.2,91.3 1561.7,97.9 1570,100 L1568,76.5 L1485,76.5Z" fill="#dd0022" filter="url(#blur1)"/>
<path d="M931,126.6 C931.5,126.6 926.7,126.5 934,126.6 C941.3,126.7 961,127 975,127.4 C989,127.8 1004.3,128.8 1018.2,129.1 C1032.1,129.4 1047.4,129.2 1058.2,129.1 C1069,129 1077,129.8 1083.1,128.3 C1089.2,126.8 1091.7,123 1094.8,120 C1097.9,117 1098.5,113.1 1101.5,110 C1104.5,106.9 1107.8,102.8 1113.1,101.6 C1118.4,100.3 1128.4,101.1 1133.1,102.5 C1137.8,103.9 1138.2,107.5 1141.4,110 C1144.6,112.5 1147,115.8 1152,117.5 C1157,119.2 1165.5,118.5 1171.6,120 C1177.6,121.5 1184.1,123.8 1188.3,126.6 C1192.5,129.4 1193,133 1196.6,136.6 C1200.2,140.2 1204.4,144.9 1209.9,148.2 C1215.5,151.5 1222.4,154.1 1229.9,156.6 C1237.4,159.1 1245.2,161 1254.9,163.2 C1264.6,165.4 1277.1,167.5 1288.2,169.9 C1299.3,172.3 1312.9,174.8 1321.5,177.5 C1330.1,180.2 1333.9,183.6 1340,186 C1346.1,188.4 1352.2,190 1358,192 C1363.8,194 1369.7,196 1375,198 C1380.3,200 1385.5,202.2 1390,204 C1394.5,205.8 1395.8,206.1 1402,208.5 C1408.2,210.9 1417.3,214.7 1427,218.3 C1436.7,221.9 1449.1,225.8 1460.2,230 C1471.3,234.2 1483.8,239.4 1493.5,243.3 C1503.2,247.2 1510.2,250.5 1518.5,253.3 C1526.8,256.1 1535.8,258 1543.5,259.9 C1551.2,261.8 1560.9,264.1 1565,264.9 C1569.1,265.7 1567.5,264.9 1568,264.9 L1568,360 L931,360Z" fill="#00e89a" />
<path d="M1105.5,139.5 C1105.7,138.4 1106.8,136.8 1108,136 C1109.2,135.2 1111.2,134.9 1113,135 C1114.8,135.1 1117.8,135.8 1119,136.5 C1120.2,137.2 1120.7,138.4 1120.5,139.5 C1120.3,140.6 1119.4,142.2 1118,143 C1116.6,143.8 1113.8,144.1 1112,144 C1110.2,143.9 1108.1,143.2 1107,142.5 C1105.9,141.8 1105.3,140.6 1105.5,139.5Z" fill="#1ac846" />
<path d="M931,134.1 C931.5,134.1 929.5,133.7 934,134.1 C938.5,134.5 948.7,135.3 958.3,136.6 C967.9,137.8 981.6,139.8 991.6,141.6 C1001.6,143.4 1009.9,145.7 1018.2,147.4 C1026.5,149.1 1033.5,149.8 1041.5,151.6 C1049.5,153.4 1058.2,156 1066.5,158.2 C1074.8,160.4 1084,163.2 1091.5,164.9 C1099,166.6 1103.5,167.5 1111.8,168.2 C1120.1,168.9 1134.2,169.1 1141.4,169 C1148.6,168.9 1148.6,167.3 1155,167.5 C1161.4,167.7 1171.7,168.4 1180,169.9 C1188.3,171.4 1196.6,174.3 1204.9,176.5 C1213.2,178.7 1221.6,181.5 1229.9,183.2 C1238.2,184.9 1246.6,186.2 1254.9,186.5 C1263.2,186.8 1271.6,184.9 1279.9,184.9 C1288.2,184.9 1296.5,185.1 1304.8,186.5 C1313.1,187.9 1322.3,190.8 1329.8,193.2 C1337.3,195.6 1344.1,198.4 1350,201 C1355.9,203.6 1360,206.1 1365,209 C1370,211.9 1373.8,215.6 1380,218.3 C1386.2,221 1394.2,222.5 1402,225 C1409.8,227.5 1417.3,230 1427,233.3 C1436.7,236.6 1449.1,240.7 1460.2,244.9 C1471.3,249.1 1483.8,254.4 1493.5,258.3 C1503.2,262.2 1510.2,265.1 1518.5,268.2 C1526.8,271.2 1535.8,274.4 1543.5,276.6 C1551.2,278.8 1560.9,280.8 1565,281.6 C1569.1,282.4 1567.5,281.6 1568,281.6 L1568,360 L931,360Z" fill="#44aafa" />
<path d="M931,138.3 C931.5,138.3 926.7,137.2 934,138.3 C941.3,139.4 961,142.4 975,144.9 C989,147.4 1004.3,150.1 1018.2,153.2 C1032.1,156.2 1046,159.9 1058.2,163.2 C1070.4,166.5 1080.4,171 1091.5,173.2 C1102.6,175.4 1114.2,175.6 1124.8,176.5 C1135.4,177.4 1145.8,177.4 1155,178.5 C1164.2,179.6 1171.7,181.3 1180,183.2 C1188.3,185.1 1196.6,188.2 1204.9,189.9 C1213.2,191.6 1221.6,192.5 1229.9,193.2 C1238.2,193.9 1245.2,194 1254.9,194 C1264.6,194 1278.5,192.8 1288.2,193.2 C1297.9,193.6 1306.2,194.8 1313.1,196.5 C1320,198.2 1325.3,201.3 1329.8,203.2 C1334.3,205.1 1335.8,205.8 1340,208 C1344.2,210.2 1349.6,213.8 1354.8,216.6 C1360,219.3 1365.9,222.4 1371.4,224.5 C1376.9,226.6 1382.9,227.8 1388,229 C1393.1,230.2 1395.5,230.2 1402,232 C1408.5,233.8 1417.3,236.4 1427,240 C1436.7,243.6 1449.1,248.9 1460.2,253.3 C1471.3,257.7 1483.8,262.7 1493.5,266.6 C1503.2,270.5 1510.2,273.3 1518.5,276.6 C1526.8,279.9 1535.8,283.8 1543.5,286.6 C1551.2,289.4 1560.9,292.1 1565,293.2 C1569.1,294.3 1567.5,293.2 1568,293.2 L1568,360 L931,360Z" fill="#3399f2" />
<path d="M931,143.4 C931.5,143.4 926.7,142.2 934,143.4 C941.3,144.7 961,148.3 975,151.2 C989,154 1004.3,157.1 1018.2,160.3 C1032.1,163.5 1046,167.1 1058.2,170.3 C1070.4,173.5 1080.4,177.3 1091.5,179.4 C1102.6,181.6 1114.2,182 1124.8,183.2 C1135.4,184.5 1145.8,185.5 1155,186.8 C1164.2,188 1171.7,189.1 1180,190.7 C1188.3,192.3 1196.6,195.2 1204.9,196.6 C1213.2,197.9 1221.6,198.9 1229.9,199.1 C1238.2,199.2 1245.2,198.2 1254.9,197.8 C1264.6,197.3 1278.5,196.2 1288.2,196.6 C1297.9,196.9 1306.2,198.3 1313.1,200 C1320,201.7 1325.3,204.7 1329.8,206.6 C1334.3,208.5 1335.8,209.3 1340,211.6 C1344.2,214 1349.6,217.9 1354.8,220.8 C1360,223.7 1365.9,226.5 1371.4,228.9 C1376.9,231.3 1382.9,233.1 1388,235 C1393.1,236.8 1395.5,237.8 1402,240 C1408.5,242.2 1417.3,244.7 1427,248.3 C1436.7,251.9 1449.1,257.2 1460.2,261.6 C1471.3,266 1483.8,271 1493.5,274.9 C1503.2,278.8 1510.2,281.7 1518.5,284.9 C1526.8,288.1 1535.8,291.6 1543.5,294.1 C1551.2,296.6 1560.9,298.9 1565,299.9 C1569.1,300.8 1567.5,299.9 1568,299.9 L1568,360 L931,360Z" fill="#2a88ea" />
<path d="M931,148.6 C931.5,148.6 926.7,147.1 934,148.6 C941.3,150.1 961,154.3 975,157.4 C989,160.5 1004.3,164.1 1018.2,167.4 C1032.1,170.7 1046,174.4 1058.2,177.4 C1070.4,180.4 1080.4,183.6 1091.5,185.7 C1102.6,187.8 1114.2,188.4 1124.8,190 C1135.4,191.6 1145.8,193.6 1155,195 C1164.2,196.4 1171.7,196.8 1180,198.2 C1188.3,199.6 1196.6,202.1 1204.9,203.2 C1213.2,204.3 1221.6,205.2 1229.9,204.9 C1238.2,204.6 1245.2,202.3 1254.9,201.5 C1264.6,200.7 1279.4,199.8 1288.2,199.9 C1297,200 1302.5,201 1308,202 C1313.5,203 1316.5,204 1321.5,206 C1326.5,208 1332.5,210.8 1338.1,214 C1343.6,217.2 1349.2,221.8 1354.8,225 C1360.3,228.2 1365.9,230.6 1371.4,233.3 C1377,236 1383,238.6 1388.1,241 C1393.2,243.4 1395.5,245.4 1402,248 C1408.5,250.6 1417.3,253 1427,256.6 C1436.7,260.2 1449.1,265.5 1460.2,269.9 C1471.3,274.3 1483.8,279.3 1493.5,283.2 C1503.2,287.1 1510.2,290.1 1518.5,293.2 C1526.8,296.3 1535.8,299.4 1543.5,301.6 C1551.2,303.8 1560.9,305.7 1565,306.5 C1569.1,307.3 1567.5,306.5 1568,306.5 L1568,360 L931,360Z" fill="#5858f5" />
<path d="M931,170 C931.5,170 926.7,167.8 934,170 C941.3,172.2 962.6,179.1 975,183.2 C987.4,187.3 997.1,191.6 1008.2,194.5 C1019.3,197.4 1027.6,198.8 1041.5,200.5 C1055.4,202.2 1076.2,203.2 1091.5,205 C1106.8,206.8 1121.6,208.8 1133,211 C1144.4,213.2 1149.4,216.2 1160,218 C1170.6,219.8 1186.3,221.3 1196.6,221.6 C1206.9,221.9 1211.9,220.6 1221.6,220 C1231.3,219.4 1243.8,218.6 1254.9,218.3 C1266,218 1278.5,217.8 1288.2,218.3 C1297.9,218.9 1306.2,219.4 1313.1,221.6 C1320,223.8 1324.2,228 1329.8,231.6 C1335.3,235.2 1339.5,239.7 1346.4,243.3 C1353.3,246.9 1363.1,250.5 1371.4,253.3 C1379.7,256.1 1387.1,256.9 1396,260 C1404.9,263.1 1415.7,268 1425,272 C1434.3,276 1443.2,280.2 1451.9,284 C1460.6,287.8 1468.6,290.6 1476.9,294.5 C1485.2,298.4 1493.6,303.7 1501.9,307.5 C1510.2,311.3 1518.5,314.5 1526.8,317.5 C1535.1,320.5 1545.4,323.9 1551.8,325.7 C1558.2,327.5 1562.3,328 1565,328.5 C1567.7,329 1567.5,328.5 1568,328.5 L1568,360 L931,360Z" fill="#4040f8" />
<path d="M931,208.3 C931.5,208.3 929.5,206.4 934,208.3 C938.5,210.2 950.1,216.1 958.3,220 C966.5,223.9 975,228 983.3,231.6 C991.6,235.2 1001.3,240.2 1008.2,241.6 C1015.1,243 1018,241.4 1024.9,240 C1031.9,238.6 1041.6,235.2 1049.9,233.3 C1058.2,231.4 1066.5,230 1074.8,228.3 C1083.1,226.6 1092.9,224 1099.8,223.3 C1106.7,222.6 1109.5,222.4 1116.4,224.1 C1123.3,225.8 1134.1,230.6 1141.4,233.3 C1148.7,236 1152.2,238.8 1160,240.5 C1167.8,242.2 1178,242.8 1188.3,243.3 C1198.6,243.8 1213.3,243.9 1221.6,243.3 C1229.9,242.8 1229.9,241.2 1238.2,240 C1246.5,238.8 1261.8,236.4 1271.5,235.8 C1281.2,235.2 1291,235.3 1296.5,236.6 C1302,237.8 1302,241.1 1304.8,243.3 C1307.6,245.5 1308.9,247.1 1313.1,249.9 C1317.3,252.7 1324.2,256.6 1329.8,259.9 C1335.3,263.2 1340.9,266.8 1346.4,269.9 C1352,272.9 1357.5,276.2 1363.1,278.2 C1368.6,280.1 1366.9,278 1379.7,281.6 C1392.5,285.2 1419.9,292.8 1440,300 C1460.1,307.2 1487.1,319.6 1500.2,324.9 C1513.3,330.2 1512.7,329.7 1518.5,331.6 C1524.3,333.6 1529.5,335.1 1535.1,336.6 C1540.6,338.1 1546.8,339.7 1551.8,340.7 C1556.8,341.7 1562.3,342.1 1565,342.4 C1567.7,342.7 1567.5,342.4 1568,342.4 L1568,360 L931,360Z" fill="#9a7cf8" />
<path d="M931,226.3 C931.5,226.3 929.5,224.9 934,226.3 C938.5,227.7 950.1,231.3 958.3,234.6 C966.5,237.9 975.5,243.1 983.3,246.2 C991.1,249.2 998,252.1 1004.9,252.9 C1011.8,253.7 1017.4,252.6 1024.9,251.2 C1032.4,249.8 1041.6,246.5 1049.9,244.6 C1058.2,242.7 1067,241.3 1074.8,239.6 C1082.6,237.9 1089.6,235.4 1096.5,234.6 C1103.4,233.8 1108.9,233.2 1116.4,234.6 C1123.9,236 1134.1,240.4 1141.4,242.9 C1148.7,245.4 1152.2,248.6 1160,249.8 C1167.8,251.1 1178,250.3 1188.3,250.4 C1198.6,250.5 1213.3,251 1221.6,250.4 C1229.9,249.8 1229.9,247.8 1238.2,247.1 C1246.5,246.4 1262.3,246.2 1271.5,246.2 C1280.7,246.2 1288.2,246 1293.2,247.1 C1298.2,248.2 1298.2,250.8 1301.5,252.9 C1304.8,255 1308.4,257.1 1313.1,259.6 C1317.8,262.1 1324.2,265.1 1329.8,267.9 C1335.3,270.7 1340.9,273.4 1346.4,276.2 C1352,279 1358.1,282.8 1363.1,284.5 C1368.1,286.2 1363.6,282.6 1376.4,286.2 C1389.2,289.8 1417.7,298.7 1440,306.3 C1462.3,313.9 1495.7,326.6 1510.2,331.6 C1524.7,336.6 1521.2,334.8 1526.8,336.3 C1532.3,337.8 1537.1,339.2 1543.5,340.8 C1549.9,342.4 1560.9,345 1565,345.8 C1569.1,346.6 1567.5,345.8 1568,345.8 L1568,360 L931,360Z" fill="#e060d8" />
<path d="M931,239.4 C931.5,239.4 929.5,238.3 934,239.4 C938.5,240.5 950.1,243.3 958.3,246.1 C966.5,248.8 975.5,253.5 983.3,256 C991.1,258.5 998,260.4 1004.9,260.8 C1011.8,261.2 1017.4,260 1024.9,258.5 C1032.4,256.9 1041.6,253.7 1049.9,251.6 C1058.2,249.4 1067,247.2 1074.8,245.5 C1082.6,243.7 1089.6,241.8 1096.5,241.2 C1103.4,240.7 1108.9,240.9 1116.4,242.1 C1123.9,243.4 1134.1,246.9 1141.4,248.9 C1148.7,250.9 1152.2,253.1 1160,254.4 C1167.8,255.6 1178,256.2 1188.3,256.4 C1198.6,256.6 1213.3,256.1 1221.6,255.6 C1229.9,255.1 1229.9,253.9 1238.2,253.5 C1246.5,253.1 1262.3,252.7 1271.5,253.2 C1280.7,253.7 1288.2,255.3 1293.2,256.6 C1298.2,257.9 1298.2,259.4 1301.5,261.2 C1304.8,262.9 1308.4,264.7 1313.1,266.9 C1317.8,269 1324.2,271.9 1329.8,274.3 C1335.3,276.8 1340.9,279.2 1346.4,281.5 C1352,283.9 1358.1,286.7 1363.1,288.4 C1368.1,290.2 1363.6,287.9 1376.4,292.2 C1389.2,296.5 1417.7,306.7 1440,314.4 C1462.3,322.1 1495.7,333.6 1510.2,338.5 C1524.7,343.3 1521.2,342 1526.8,343.5 C1532.3,345 1537.1,346 1543.5,347.4 C1549.9,348.8 1560.9,351.2 1565,352 C1569.1,352.8 1567.5,352 1568,352 L1568,360 L931,360Z" fill="#e36cdc" />
<path d="M931,252.5 C931.5,252.5 929.5,251.7 934,252.5 C938.5,253.3 950.1,255.3 958.3,257.5 C966.5,259.7 975,263.9 983.3,265.8 C991.6,267.7 999.9,269.4 1008.2,269.1 C1016.5,268.8 1024.9,266.3 1033.2,264.1 C1041.5,261.9 1049.9,258.3 1058.2,255.8 C1066.5,253.3 1076.2,250.5 1083.1,249.1 C1090,247.7 1092.8,247.2 1099.8,247.5 C1106.8,247.8 1115.4,249 1124.8,250.8 C1134.2,252.6 1145.4,256.6 1156,258.5 C1166.6,260.4 1177.4,262 1188.3,262.4 C1199.2,262.8 1210.5,261.4 1221.6,260.8 C1232.7,260.2 1245.2,259.1 1254.9,259.1 C1264.6,259.1 1273,259.4 1279.9,260.8 C1286.8,262.2 1291,265.2 1296.5,267.4 C1302,269.6 1306.2,271.3 1313.1,274.1 C1320,276.9 1329.8,281.1 1338.1,284.1 C1346.4,287.2 1357.8,290.5 1363.1,292.4 C1368.4,294.3 1357,290.7 1369.8,295.7 C1382.6,300.7 1413.8,313.3 1440,322.5 C1466.2,331.7 1509.5,345.4 1526.8,350.7 C1544,355.9 1537.1,352.8 1543.5,354 C1549.9,355.2 1560.9,357.5 1565,358.2 C1569.1,358.9 1567.5,358.2 1568,358.2 L1568,360 L931,360Z" fill="#e67de0" />
<path d="M994.9,80.3 C996,81.1 999.4,83.4 1001.6,85 C1003.8,86.5 1007.1,88.9 1008.2,89.6" fill="none" stroke="#111" stroke-width="0.7"/>
<path d="M934.2,111.3 C936.8,110.9 943.9,109.8 950,109.1 C956.1,108.4 967.3,107.3 970.8,107" fill="none" stroke="#111" stroke-width="0.7"/>
<path d="M934.2,141.6 C938.2,142.3 948.7,143.7 958.3,145.7 C967.9,147.8 981.6,151.8 991.6,154.1 C1001.6,156.3 1009.9,157.8 1018.2,159.1 C1026.5,160.3 1033.5,160 1041.5,161.6 C1049.6,163.1 1058.2,165.7 1066.5,168.2 C1074.8,170.7 1083.7,174.5 1091.5,176.5 C1099.2,178.6 1104.8,179.8 1113.1,180.7 C1121.4,181.6 1132.5,181.2 1141.4,181.9 C1150.3,182.6 1162.2,184.4 1166.4,184.9" fill="none" stroke="#111" stroke-width="0.7"/>
<path d="M1246.6,80.3 C1244.6,81.4 1237.7,84.6 1234.9,86.6 C1232.1,88.7 1229.9,90.7 1229.9,92.5 C1229.9,94.3 1231.9,95.7 1234.9,97.5 C1238,99.3 1244.3,100.9 1248.2,103.3 C1252.1,105.7 1254.3,108.3 1258.2,111.6 C1262.1,114.9 1266.5,119.4 1271.5,123.3 C1276.5,127.2 1282.6,131.6 1288.2,134.9 C1293.7,138.3 1300.4,141.2 1304.8,143.2 C1309.3,145.3 1313.1,146.7 1314.8,147.4" fill="none" stroke="#111" stroke-width="0.7"/>
<path d="M1356.4,160.7 L1378.1,166.2" fill="none" stroke="#111" stroke-width="0.7"/>
<path d="M1224.9,195.7 C1229.9,195.3 1245.7,193.7 1254.9,193.2 C1264,192.6 1272.4,192.2 1279.9,192.4 C1287.3,192.5 1293.4,192.9 1299.8,194 C1306.2,195.1 1313.7,197.5 1318.1,199 C1322.6,200.5 1325.1,202.5 1326.5,203.2" fill="none" stroke="#111" stroke-width="0.7"/>
<path d="M1404.5,80.3 C1404.5,81.7 1403.5,85.9 1404.5,88.3 C1405.4,90.8 1407.1,93.2 1410.3,95 C1413.5,96.8 1418.1,98 1423.6,99.1 C1429.2,100.2 1440.3,101.2 1443.6,101.6" fill="none" stroke="#111" stroke-width="0.7"/>
<path d="M1501.9,106.6 C1506,106.8 1518.5,107.5 1526.8,108 C1535.1,108.4 1545.4,108.8 1551.8,109.1 C1558.2,109.4 1562.9,109.5 1565.1,109.6" fill="none" stroke="#111" stroke-width="0.7"/>
<path d="M1378.7,167.4 C1383,168.5 1396.4,171.4 1404.5,174 C1412.5,176.7 1419,180.8 1426.9,183.2 C1434.8,185.6 1445.5,187.4 1451.9,188.5 C1458.3,189.6 1463,189.6 1465.2,189.9" fill="none" stroke="#111" stroke-width="0.7"/>
<path d="M1493.5,190.2 C1499.1,190.4 1517.1,190.5 1526.8,191.5 C1536.5,192.6 1545.4,194.9 1551.8,196.5 C1558.2,198.2 1562.9,200.7 1565.1,201.5" fill="none" stroke="#111" stroke-width="0.7"/>
<path d="M1325,203 C1327.7,204.2 1335.5,207.7 1341,210.5 C1346.5,213.3 1352.3,217.2 1358,220 C1363.7,222.8 1372.2,226.2 1375,227.5" fill="none" stroke="#111" stroke-width="0.7"/>
<path d="M1155,261.6 C1158.3,262.1 1168,264 1175,264.6 C1181.9,265.2 1188.8,265.3 1196.6,265.3 C1204.4,265.2 1213.3,264.7 1221.6,264.1 C1229.9,263.5 1239.6,262 1246.6,261.6 C1253.5,261.2 1257.7,261.2 1263.2,261.6 C1268.8,262 1272.9,261.9 1279.9,264.1 C1286.8,266.3 1296.5,271.4 1304.8,274.9 C1313.1,278.4 1321.5,281.8 1329.8,284.9 C1338.1,288 1348.4,291.3 1354.8,293.2 C1361.1,295.1 1365.9,295.7 1368.1,296.2" fill="none" stroke="#111" stroke-width="0.7"/>
<path d="M934.2,264.9 C939.6,266 956.5,269.7 966.6,271.6 C976.7,273.5 990.2,275.5 994.9,276.2" fill="none" stroke="#111" stroke-width="0.7"/>
<path d="M1018.2,275.7 C1022.1,274.8 1033.5,272.3 1041.5,269.9 C1049.6,267.6 1058.2,264.1 1066.5,261.6 C1074.8,259 1084.5,255.8 1091.5,254.6 C1098.4,253.4 1101.2,254 1108.1,254.6 C1115.1,255.2 1123.4,256.9 1133.1,258.3 C1142.8,259.7 1155.2,261.8 1166.4,262.9 C1177.5,264 1194.4,264.6 1200,264.9" fill="none" stroke="#111" stroke-width="0.7"/>
<path d="M1375,227.8 C1375.3,227.9 1372.5,226.9 1377,228.6 C1381.5,230.4 1393.6,235.3 1402,238.3 C1410.3,241.3 1417.2,243.3 1426.9,246.6 C1436.7,249.9 1449.1,254.4 1460.2,258.3 C1471.3,262.1 1483.8,266.5 1493.5,269.9 C1503.2,273.4 1510.2,276 1518.5,279.1 C1526.8,282.1 1535.7,285.5 1543.5,288.2 C1551.2,291 1561.5,294.5 1565.1,295.7" fill="none" stroke="#111" stroke-width="0.7"/>
<path d="M1530.2,348.2 C1532.4,348.8 1538.5,350.2 1543.5,351.5 C1548.5,352.9 1557.3,355.7 1560.1,356.5" fill="none" stroke="#111" stroke-width="0.7"/>
<text transform="translate(991.6,101.3) rotate(-8) scale(1.15,1)" text-anchor="middle" font-size="15.5" font-weight="bold" font-style="italic" fill="#000" stroke="#000" stroke-width="0.35" dy="0.36em">0.1</text>
<text transform="translate(1334.8,154.9) rotate(17) scale(1.15,1)" text-anchor="middle" font-size="15.5" font-weight="bold" font-style="italic" fill="#000" stroke="#000" stroke-width="0.35" dy="0.36em">0.1</text>
<text transform="translate(1190.8,192.4) rotate(15) scale(1.15,1)" text-anchor="middle" font-size="15.5" font-weight="bold" font-style="italic" fill="#000" stroke="#000" stroke-width="0.35" dy="0.36em">0.05</text>
<text transform="translate(1472.7,105.8) rotate(3) scale(1.15,1)" text-anchor="middle" font-size="15.5" font-weight="bold" font-style="italic" fill="#000" stroke="#000" stroke-width="0.35" dy="0.36em">0.15</text>
<text transform="translate(1007.4,276.6) rotate(5) scale(1.15,1)" text-anchor="middle" font-size="15.5" font-weight="bold" font-style="italic" fill="#000" stroke="#000" stroke-width="0.35" dy="0.36em">0</text>
<path d="M934.2,87.5 C938.2,87.2 948.7,86.3 958.3,85.8 C967.9,85.3 981.6,84.8 991.6,84.6 C1001.6,84.5 1009.9,84.6 1018.2,85 C1026.5,85.3 1033.5,85.8 1041.5,86.6 C1049.6,87.5 1058.2,88.9 1066.5,90 C1074.8,91.1 1083.7,92.5 1091.5,93.3 C1099.2,94.1 1104.8,94.8 1113.1,94.6 C1121.4,94.5 1133.9,93 1141.4,92.5 C1148.9,91.9 1155.3,91.5 1158.1,91.3" fill="none" stroke="#fff" stroke-width="1.3"/>
<path d="M1068.2,80.3 C1072.1,80.8 1084,82.4 1091.5,83.3 C1099,84.2 1104.8,85.7 1113.1,85.8 C1121.4,86 1133.9,84.6 1141.4,84.2 C1148.9,83.7 1155.3,83.2 1158.1,83" fill="none" stroke="#fff" stroke-width="1.3"/>
<path d="M934.2,105.8 C936.8,105.2 943.2,103.6 950,102.5 C956.8,101.4 966.9,100 974.9,99.1 C983,98.3 994.4,97.7 998.2,97.5" fill="none" stroke="#fff" stroke-width="1.3"/>
<path d="M1039.9,99.1 C1044.3,99.4 1057.9,100.4 1066.5,100.8 C1075.1,101.2 1083.7,101.5 1091.5,101.6 C1099.2,101.8 1104.8,101.9 1113.1,101.6 C1121.4,101.4 1133.9,100.5 1141.4,100 C1148.9,99.5 1155.3,98.9 1158.1,98.6" fill="none" stroke="#fff" stroke-width="1.3"/>
<path d="M934.2,124.6 C938.2,124.5 948.7,124 958.3,124.1 C967.9,124.2 981.6,124.4 991.6,124.9 C1001.6,125.5 1009.9,127.2 1018.2,127.4 C1026.5,127.7 1033.5,126.9 1041.5,126.3 C1049.6,125.6 1058.2,124.8 1066.5,123.6 C1074.8,122.4 1083.7,120.3 1091.5,119.1 C1099.2,117.9 1104.8,116.9 1113.1,116.6 C1121.4,116.3 1132.5,117 1141.4,117.4 C1150.3,117.9 1159.7,118.4 1166.4,119.1 C1173,119.8 1177.5,120.1 1181.4,121.6 C1185.3,123.1 1188.3,127.2 1189.7,128.3" fill="none" stroke="#fff" stroke-width="1.3"/>
<path d="M934.2,145.7 C938.2,146.7 948.7,149.4 958.3,151.6 C967.9,153.8 981.6,156.8 991.6,159.1 C1001.6,161.3 1009.9,163.1 1018.2,164.9 C1026.5,166.7 1033.5,168.1 1041.5,169.9 C1049.6,171.7 1058.2,174 1066.5,175.7 C1074.8,177.4 1083.7,178.7 1091.5,179.9 C1099.2,181.1 1104.8,181.5 1113.1,182.9 C1121.4,184.3 1132.5,186.3 1141.4,188.2 C1150.3,190.1 1158.1,192.2 1166.4,194 C1174.7,195.8 1187.2,198.2 1191.4,199" fill="none" stroke="#fff" stroke-width="1.3"/>
<path d="M1155,99.1 C1160.5,98.7 1177.2,97.1 1188.3,96.6 C1199.4,96.2 1213.3,96.2 1221.6,96.6 C1229.9,97.1 1231.3,97.9 1238.2,99.1 C1245.2,100.4 1254.9,102.2 1263.2,104.1 C1271.5,106.1 1281.2,109.1 1288.2,110.8 C1295.1,112.5 1297.9,113.4 1304.8,114.1 C1311.8,114.9 1320.1,115.1 1329.8,115.3 C1339.5,115.4 1355,115.1 1363.1,114.9 C1371.1,114.8 1375.6,114.4 1378.1,114.3" fill="none" stroke="#fff" stroke-width="1.3"/>
<path d="M1155,82.5 L1180,82" fill="none" stroke="#fff" stroke-width="1.3"/>
<path d="M1155,90.3 L1180,89.6" fill="none" stroke="#fff" stroke-width="1.3"/>
<path d="M1216.6,85.8 C1221.6,85.7 1237.4,85 1246.6,85 C1255.7,85 1263.2,85.7 1271.5,85.8 C1279.9,86 1287.1,86 1296.5,85.8 C1305.9,85.7 1322.9,85.1 1328.1,85" fill="none" stroke="#fff" stroke-width="1.3"/>
<path d="M1216.6,89.1 C1220.2,89.4 1230.5,90.1 1238.2,90.8 C1246,91.5 1254.9,92.5 1263.2,93.3 C1271.5,94.1 1279.9,95.2 1288.2,95.8 C1296.5,96.4 1304.8,96.7 1313.1,97 C1321.5,97.2 1327.3,97.4 1338.1,97.5 C1348.9,97.6 1371.4,97.5 1378.1,97.5" fill="none" stroke="#fff" stroke-width="1.3"/>
<path d="M1185,123.3 C1186.1,124.7 1189.4,128.8 1191.6,131.6 C1193.8,134.4 1195.2,137.1 1198.3,139.9 C1201.3,142.7 1204.7,145.7 1209.9,148.2 C1215.2,150.7 1222.4,153.2 1229.9,154.9 C1237.4,156.6 1245.2,157.4 1254.9,158.2 C1264.6,159.1 1277.1,159.3 1288.2,159.9 C1299.3,160.5 1310.4,160.7 1321.5,161.6 C1332.6,162.4 1345.3,163.7 1354.8,164.9 C1364.2,166.1 1374.2,168.1 1378.1,168.7" fill="none" stroke="#fff" stroke-width="1.3"/>
<path d="M1229.9,199 C1234.1,198.5 1246.6,196.5 1254.9,195.7 C1263.2,194.9 1271.5,194.2 1279.9,194 C1288.2,193.9 1297.9,194.2 1304.8,194.9 C1311.8,195.5 1315.9,196.5 1321.5,198.2 C1327,199.8 1334.5,203.4 1338.1,204.8 C1341.7,206.3 1342.3,206.6 1343.1,207" fill="none" stroke="#fff" stroke-width="1.3"/>
<path d="M1377,97.5 C1382.5,97.3 1399.2,96.6 1410.3,96.6 C1421.4,96.6 1432.5,96.9 1443.6,97.5 C1454.7,98 1465.8,99 1476.9,100 C1488,100.9 1499.1,102 1510.2,103.3 C1521.3,104.5 1534.3,106.2 1543.5,107.5 C1552.6,108.7 1561.5,110.2 1565.1,110.8" fill="none" stroke="#fff" stroke-width="1.3"/>
<path d="M1377,114.1 C1382.5,113.8 1399.2,112.3 1410.3,112.5 C1421.4,112.6 1432.5,113.7 1443.6,114.9 C1454.7,116.2 1465.8,118.1 1476.9,119.9 C1488,121.7 1499.1,124 1510.2,125.8 C1521.3,127.6 1534.3,129.2 1543.5,130.8 C1552.6,132.3 1561.5,134.2 1565.1,134.9" fill="none" stroke="#fff" stroke-width="1.3"/>
<path d="M1480.2,80.3 C1483.8,81.1 1494.1,83.5 1501.9,85 C1509.6,86.5 1519.6,88 1526.8,89.1 C1534,90.3 1542.1,91.2 1545.1,91.6" fill="none" stroke="#fff" stroke-width="1.3"/>
<path d="M1377.8,168.2 C1382.3,169 1396.3,170.5 1404.5,172.7 C1412.7,174.9 1419,179.1 1426.9,181.5 C1434.8,184 1445.5,186.1 1451.9,187.4 C1458.3,188.6 1463,188.8 1465.2,189" fill="none" stroke="#fff" stroke-width="1.3"/>
<path d="M1493.5,189.5 C1497.7,189.6 1510.2,189.4 1518.5,190.2 C1526.8,190.9 1537.1,192.4 1543.5,194 C1549.9,195.6 1553.2,198 1556.8,199.8 C1560.4,201.7 1563.7,204 1565.1,204.8" fill="none" stroke="#fff" stroke-width="1.3"/>
<path d="M1338,205.5 C1338.5,205.8 1337.7,205.5 1341,207.4 C1344.3,209.3 1352.3,214 1358,216.8 C1363.7,219.6 1372.2,223.1 1375,224.4" fill="none" stroke="#fff" stroke-width="1.3"/>
<path d="M1375,223.3 C1375.3,223.4 1372.5,222.9 1377,224.1 C1381.5,225.4 1393.6,228.6 1402,230.8 C1410.3,233 1417.2,234.5 1426.9,237.5 C1436.7,240.4 1449.1,244.3 1460.2,248.3 C1471.3,252.3 1483.8,257.7 1493.5,261.6 C1503.2,265.5 1510.2,268 1518.5,271.6 C1526.8,275.2 1535.7,279.5 1543.5,283.2 C1551.2,287 1561.5,292.3 1565.1,294.1" fill="none" stroke="#fff" stroke-width="1.3"/>
<path d="M1548.5,200 L1565.1,205.8" fill="none" stroke="#fff" stroke-width="1.3"/>
<text transform="translate(1021.6,98.3) rotate(-3) scale(1.15,1)" text-anchor="middle" font-size="15.8" font-weight="bold" font-style="italic" fill="#fff" stroke="#fff" stroke-width="0.15" dy="0.36em">25</text>
<text transform="translate(1198.3,89.1) rotate(3) scale(1.15,1)" text-anchor="middle" font-size="15.8" font-weight="bold" font-style="italic" fill="#fff" stroke="#fff" stroke-width="0.15" dy="0.36em">24</text>
<text transform="translate(1348.1,83.7) rotate(-8) scale(1.15,1)" text-anchor="middle" font-size="15.8" font-weight="bold" font-style="italic" fill="#fff" stroke="#fff" stroke-width="0.15" dy="0.36em">23</text>
<text transform="translate(1209.9,199.5) rotate(5) scale(1.15,1)" text-anchor="middle" font-size="15.8" font-weight="bold" font-style="italic" fill="#fff" stroke="#fff" stroke-width="0.15" dy="0.36em">27</text>
<text transform="translate(1476.9,188.5) rotate(3) scale(1.15,1)" text-anchor="middle" font-size="15.8" font-weight="bold" font-style="italic" fill="#fff" stroke="#fff" stroke-width="0.15" dy="0.36em">26</text>
<text transform="translate(1561,95) rotate(12) scale(1.15,1)" text-anchor="middle" font-size="15.8" font-weight="bold" font-style="italic" fill="#fff" stroke="#fff" stroke-width="0.15" dy="0.36em">25</text>
<path d="M1308.5,357 L1404.5,259.3 L1541,357Z" fill="#363636" />
<path d="M934,323.7 L1017.4,357 L934,357Z" fill="#363636" />
<circle cx="944.1" cy="80.8" r="2.7" fill="#3a3a3a"/><circle cx="944.1" cy="98" r="2.7" fill="#3a3a3a"/><circle cx="944.1" cy="112" r="2.7" fill="#3a3a3a"/><circle cx="944.1" cy="135.4" r="2.7" fill="#3a3a3a"/><circle cx="944.1" cy="153.2" r="2.7" fill="#3a3a3a"/><circle cx="944.1" cy="172" r="2.7" fill="#3a3a3a"/><circle cx="944.1" cy="246.6" r="2.7" fill="#3a3a3a"/>
<circle cx="1018.7" cy="80.8" r="2.7" fill="#3a3a3a"/><circle cx="1018.7" cy="94.6" r="2.7" fill="#3a3a3a"/><circle cx="1018.7" cy="111.3" r="2.7" fill="#3a3a3a"/><circle cx="1018.7" cy="126.3" r="2.7" fill="#3a3a3a"/><circle cx="1018.7" cy="153.2" r="2.7" fill="#3a3a3a"/><circle cx="1018.7" cy="162.9" r="2.7" fill="#3a3a3a"/><circle cx="1018.7" cy="172" r="2.7" fill="#3a3a3a"/><circle cx="1018.7" cy="181.5" r="2.7" fill="#3a3a3a"/><circle cx="1018.7" cy="228" r="2.7" fill="#3a3a3a"/><circle cx="1018.7" cy="264.6" r="2.7" fill="#3a3a3a"/>
<circle cx="1111.8" cy="80.8" r="2.7" fill="#3a3a3a"/><circle cx="1111.8" cy="88.6" r="2.7" fill="#3a3a3a"/><circle cx="1111.8" cy="105.5" r="2.7" fill="#3a3a3a"/><circle cx="1111.8" cy="117" r="2.7" fill="#3a3a3a"/><circle cx="1111.8" cy="153.2" r="2.7" fill="#3a3a3a"/><circle cx="1111.8" cy="172" r="2.7" fill="#3a3a3a"/><circle cx="1111.8" cy="191.2" r="2.7" fill="#3a3a3a"/><circle cx="1111.8" cy="209.2" r="2.7" fill="#3a3a3a"/><circle cx="1111.8" cy="246.6" r="2.7" fill="#3a3a3a"/><circle cx="1111.8" cy="310.7" r="2.7" fill="#3a3a3a"/>
<circle cx="1221.6" cy="80.8" r="2.7" fill="#3a3a3a"/><circle cx="1221.6" cy="93.3" r="2.7" fill="#3a3a3a"/><circle cx="1221.6" cy="100.3" r="2.7" fill="#3a3a3a"/><circle cx="1221.6" cy="107.5" r="2.7" fill="#3a3a3a"/><circle cx="1221.6" cy="126.3" r="2.7" fill="#3a3a3a"/><circle cx="1221.6" cy="144.1" r="2.7" fill="#3a3a3a"/><circle cx="1221.6" cy="172" r="2.7" fill="#3a3a3a"/><circle cx="1221.6" cy="191.2" r="2.7" fill="#3a3a3a"/><circle cx="1221.6" cy="209.2" r="2.7" fill="#3a3a3a"/><circle cx="1221.6" cy="264.6" r="2.7" fill="#3a3a3a"/>
<circle cx="1307.3" cy="80.8" r="2.7" fill="#3a3a3a"/><circle cx="1307.3" cy="98" r="2.7" fill="#3a3a3a"/><circle cx="1307.3" cy="107.5" r="2.7" fill="#3a3a3a"/><circle cx="1307.3" cy="116.6" r="2.7" fill="#3a3a3a"/><circle cx="1307.3" cy="135.4" r="2.7" fill="#3a3a3a"/><circle cx="1307.3" cy="153.2" r="2.7" fill="#3a3a3a"/><circle cx="1307.3" cy="172" r="2.7" fill="#3a3a3a"/><circle cx="1307.3" cy="209.2" r="2.7" fill="#3a3a3a"/><circle cx="1307.3" cy="232.5" r="2.7" fill="#3a3a3a"/><circle cx="1307.3" cy="264.6" r="2.7" fill="#3a3a3a"/>
<circle cx="1404.3" cy="80.8" r="2.7" fill="#3a3a3a"/><circle cx="1404.3" cy="93.3" r="2.7" fill="#3a3a3a"/><circle cx="1404.3" cy="107.5" r="2.7" fill="#3a3a3a"/><circle cx="1404.3" cy="115.3" r="2.7" fill="#3a3a3a"/><circle cx="1404.3" cy="126.3" r="2.7" fill="#3a3a3a"/><circle cx="1404.3" cy="144.1" r="2.7" fill="#3a3a3a"/><circle cx="1404.3" cy="172" r="2.7" fill="#3a3a3a"/><circle cx="1404.3" cy="209.2" r="2.7" fill="#3a3a3a"/><circle cx="1404.3" cy="250.3" r="2.7" fill="#3a3a3a"/>
<circle cx="1541.5" cy="80.8" r="2.7" fill="#3a3a3a"/><circle cx="1541.5" cy="103" r="2.7" fill="#3a3a3a"/><circle cx="1541.5" cy="121.6" r="2.7" fill="#3a3a3a"/><circle cx="1541.5" cy="130.8" r="2.7" fill="#3a3a3a"/><circle cx="1541.5" cy="148.2" r="2.7" fill="#3a3a3a"/><circle cx="1541.5" cy="172" r="2.7" fill="#3a3a3a"/><circle cx="1541.5" cy="209.2" r="2.7" fill="#3a3a3a"/><circle cx="1541.5" cy="255.4" r="2.7" fill="#3a3a3a"/><circle cx="1541.5" cy="339.1" r="2.7" fill="#3a3a3a"/>
</g>
<rect x="934.3" y="79.5" width="630.7" height="277.5" fill="none" stroke="#000" stroke-width="1.7"/>
<path d="M926.8,79.50 H934.3" stroke="#000" stroke-width="1.4"/>
<text transform="translate(920.90,85.70) scale(1.19,1)" text-anchor="end" font-size="15.6" font-weight="bold" font-style="italic" stroke="#000" stroke-width="0.3" stroke-linejoin="round">0</text>
<path d="M926.8,125.75 H934.3" stroke="#000" stroke-width="1.4"/>
<text transform="translate(920.90,131.95) scale(1.19,1)" text-anchor="end" font-size="15.6" font-weight="bold" font-style="italic" stroke="#000" stroke-width="0.3" stroke-linejoin="round">50</text>
<path d="M926.8,172.00 H934.3" stroke="#000" stroke-width="1.4"/>
<text transform="translate(920.90,178.20) scale(1.19,1)" text-anchor="end" font-size="15.6" font-weight="bold" font-style="italic" stroke="#000" stroke-width="0.3" stroke-linejoin="round">100</text>
<path d="M926.8,218.25 H934.3" stroke="#000" stroke-width="1.4"/>
<text transform="translate(920.90,224.45) scale(1.19,1)" text-anchor="end" font-size="15.6" font-weight="bold" font-style="italic" stroke="#000" stroke-width="0.3" stroke-linejoin="round">150</text>
<path d="M926.8,264.50 H934.3" stroke="#000" stroke-width="1.4"/>
<text transform="translate(920.90,270.70) scale(1.19,1)" text-anchor="end" font-size="15.6" font-weight="bold" font-style="italic" stroke="#000" stroke-width="0.3" stroke-linejoin="round">200</text>
<path d="M926.8,310.75 H934.3" stroke="#000" stroke-width="1.4"/>
<text transform="translate(920.90,316.95) scale(1.19,1)" text-anchor="end" font-size="15.6" font-weight="bold" font-style="italic" stroke="#000" stroke-width="0.3" stroke-linejoin="round">250</text>
<path d="M926.8,357.00 H934.3" stroke="#000" stroke-width="1.4"/>
<text transform="translate(920.90,363.20) scale(1.19,1)" text-anchor="end" font-size="15.6" font-weight="bold" font-style="italic" stroke="#000" stroke-width="0.3" stroke-linejoin="round">300</text>
<path d="M934.10,357 V364.5" stroke="#000" stroke-width="1.4"/>
<text transform="translate(934.40,385.50) scale(1.19,1)" text-anchor="middle" font-size="15.6" font-weight="bold" font-style="italic" stroke="#000" stroke-width="0.3" stroke-linejoin="round">0</text>
<path d="M1089.32,357 V364.5" stroke="#000" stroke-width="1.4"/>
<text transform="translate(1089.62,385.50) scale(1.19,1)" text-anchor="middle" font-size="15.6" font-weight="bold" font-style="italic" stroke="#000" stroke-width="0.3" stroke-linejoin="round">200</text>
<path d="M1244.54,357 V364.5" stroke="#000" stroke-width="1.4"/>
<text transform="translate(1244.84,385.50) scale(1.19,1)" text-anchor="middle" font-size="15.6" font-weight="bold" font-style="italic" stroke="#000" stroke-width="0.3" stroke-linejoin="round">400</text>
<path d="M1399.76,357 V364.5" stroke="#000" stroke-width="1.4"/>
<text transform="translate(1400.06,385.50) scale(1.19,1)" text-anchor="middle" font-size="15.6" font-weight="bold" font-style="italic" stroke="#000" stroke-width="0.3" stroke-linejoin="round">600</text>
<path d="M1554.98,357 V364.5" stroke="#000" stroke-width="1.4"/>
<text transform="translate(1555.28,385.50) scale(1.19,1)" text-anchor="middle" font-size="15.6" font-weight="bold" font-style="italic" stroke="#000" stroke-width="0.3" stroke-linejoin="round">800</text>
<path d="M1011.71,357 V362" stroke="#000" stroke-width="0.7"/>
<path d="M1166.93,357 V362" stroke="#000" stroke-width="0.7"/>
<path d="M1322.15,357 V362" stroke="#000" stroke-width="0.7"/>
<path d="M1477.37,357 V362" stroke="#000" stroke-width="0.7"/>
<text transform="translate(942.80,76.00) scale(0.84,1)" text-anchor="middle" font-size="21.5" font-style="italic">32</text>
<text transform="translate(1019.80,76.00) scale(0.84,1)" text-anchor="middle" font-size="21.5" font-style="italic">28</text>
<text transform="translate(1112.80,76.00) scale(0.84,1)" text-anchor="middle" font-size="21.5" font-style="italic">27</text>
<text transform="translate(1220.80,76.00) scale(0.84,1)" text-anchor="middle" font-size="21.5" font-style="italic">26</text>
<text transform="translate(1308.80,76.00) scale(0.84,1)" text-anchor="middle" font-size="21.5" font-style="italic">25</text>
<text transform="translate(1404.80,76.00) scale(0.84,1)" text-anchor="middle" font-size="21.5" font-style="italic">24</text>
<text transform="translate(1540.80,76.00) scale(0.84,1)" text-anchor="middle" font-size="21.5" font-style="italic">15</text>
<defs><linearGradient id="cgB" x1="0" y1="1" x2="0" y2="0">
<stop offset="0.0000" stop-color="#ffc31e"/>
<stop offset="0.0566" stop-color="#ffa010"/>
<stop offset="0.2075" stop-color="#f06a10"/>
<stop offset="0.3660" stop-color="#ff3a0a"/>
<stop offset="0.3660" stop-color="#dd0022"/>
<stop offset="0.4566" stop-color="#dd0022"/>
<stop offset="0.5245" stop-color="#e02840"/>
<stop offset="0.6038" stop-color="#e84a62"/>
<stop offset="0.7358" stop-color="#f88080"/>
<stop offset="0.8151" stop-color="#ff9c90"/>
<stop offset="0.8679" stop-color="#ffb090"/>
<stop offset="1.0000" stop-color="#ffb090"/>
</linearGradient></defs>
<rect x="1583.5" y="353.67" width="28.200000000000045" height="3.63" fill="#e986e2"/>
<rect x="1583.5" y="349.51" width="28.200000000000045" height="4.46" fill="#e060d8"/>
<rect x="1583.5" y="343.12" width="28.200000000000045" height="6.68" fill="#9a7cf8"/>
<rect x="1583.5" y="323.70" width="28.200000000000045" height="19.73" fill="#4040f8"/>
<rect x="1583.5" y="303.17" width="28.200000000000045" height="20.83" fill="#5858f5"/>
<rect x="1583.5" y="292.90" width="28.200000000000045" height="10.57" fill="#2a88ea"/>
<rect x="1583.5" y="283.19" width="28.200000000000045" height="10.01" fill="#3399f2"/>
<rect x="1583.5" y="274.58" width="28.200000000000045" height="8.90" fill="#44aafa"/>
<rect x="1583.5" y="253.49" width="28.200000000000045" height="21.39" fill="#00e89a"/>
<rect x="1583.5" y="231.01" width="28.200000000000045" height="22.78" fill="#1ac846"/>
<rect x="1583.5" y="211.31" width="28.200000000000045" height="20.00" fill="#24d626"/>
<rect x="1583.5" y="194.11" width="28.200000000000045" height="17.50" fill="#5cc850"/>
<rect x="1583.5" y="153.04" width="28.200000000000045" height="41.37" fill="#ffc31e"/>
<rect x="1583.5" y="79.50" width="28.200000000000045" height="73.84" fill="url(#cgB)"/>
<path d="M1583.5,79.5 L1589.5,79.5 L1597.6,75.2 L1605.7,79.5 L1611.7,79.5 Z" fill="#ffb090"/>
<path d="M1583.5,357 L1589.5,357 L1597.6,361.3 L1605.7,357 L1611.7,357 Z" fill="#e986e2"/>
<path d="M1583.5,357 L1583.5,79.5 M1611.7,79.5 L1611.7,357" stroke="#000" stroke-width="1" fill="none"/>
<path d="M1583.5,79.5 L1589.5,79.5 L1597.6,75.2 L1605.7,79.5 L1611.7,79.5 M1583.5,357 L1589.5,357 L1597.6,361.3 L1605.7,357 L1611.7,357" stroke="#000" stroke-width="0.6" fill="none"/>
<path d="M1583.5,357.00 h6 M1611.7,357.00 h-6" stroke="#000" stroke-width="1.3" fill="none"/>
<text transform="translate(1618.20,361.80) scale(1.2,1)" text-anchor="start" font-size="13.6" font-weight="bold" font-style="italic" stroke="#000" stroke-width="0.3" stroke-linejoin="round">0</text>
<path d="M1583.5,287.62 h6 M1611.7,287.62 h-6" stroke="#000" stroke-width="1.3" fill="none"/>
<text transform="translate(1618.20,292.43) scale(1.2,1)" text-anchor="start" font-size="13.6" font-weight="bold" font-style="italic" stroke="#000" stroke-width="0.3" stroke-linejoin="round">0.05</text>
<path d="M1583.5,218.25 h6 M1611.7,218.25 h-6" stroke="#000" stroke-width="1.3" fill="none"/>
<text transform="translate(1618.20,223.05) scale(1.2,1)" text-anchor="start" font-size="13.6" font-weight="bold" font-style="italic" stroke="#000" stroke-width="0.3" stroke-linejoin="round">0.1</text>
<path d="M1583.5,148.88 h6 M1611.7,148.88 h-6" stroke="#000" stroke-width="1.3" fill="none"/>
<text transform="translate(1618.20,153.68) scale(1.2,1)" text-anchor="start" font-size="13.6" font-weight="bold" font-style="italic" stroke="#000" stroke-width="0.3" stroke-linejoin="round">0.15</text>
<path d="M1583.5,79.50 h6 M1611.7,79.50 h-6" stroke="#000" stroke-width="1.3" fill="none"/>
<text transform="translate(1618.20,84.30) scale(1.2,1)" text-anchor="start" font-size="13.6" font-weight="bold" font-style="italic" stroke="#000" stroke-width="0.3" stroke-linejoin="round">0.2</text>
<text transform="translate(1578.50,356.20) rotate(-90) scale(0.945,1)" text-anchor="start" font-size="11.6" font-weight="bold" font-style="italic" stroke="#000" stroke-width="0.2" stroke-linejoin="round">Ocean Data View / DIVA</text>
<rect x="939" y="312.5" width="235" height="36.0" fill="#000"/><text x="945" y="339.20" fill="#fff" stroke="#fff" stroke-width="0.4" font-size="24" font-weight="bold" font-style="italic" textLength="225" lengthAdjust="spacingAndGlyphs">River water fraction</text>
<text x="852.8" y="46.8" font-size="29" font-weight="bold">B</text>
<!-- panel C -->
<clipPath id="clipC"><rect x="99.0" y="475.6" width="630.5" height="277.5"/></clipPath>
<g clip-path="url(#clipC)">
<rect x="99.0" y="475.6" width="630.5" height="277.5" fill="#24d626"/>
<path d="M139.9,507 C140.5,505.1 139.1,498.1 143.3,495.3 C147.5,492.5 154.4,491.4 164.9,490.3 C175.4,489.2 195.4,488.1 206.5,488.6 C217.6,489.2 226.8,491.1 231.5,493.6 C236.2,496.1 235.4,500.5 234.8,503.6 C234.2,506.7 227.4,508.9 228.2,512 C229,515.1 237.9,520.3 239.8,522 L240,530 L139,530Z" fill="#1ac846" />
<path d="M181.6,505.3 C181.6,503.2 185.2,497.9 189.9,496 C194.6,494.1 206,493.3 209.9,494 C213.8,494.7 213.8,498.1 213.2,500.3 C212.6,502.5 210.4,505.6 206.5,507 C202.6,508.4 194.1,508.9 189.9,508.6 C185.8,508.3 181.6,507.4 181.6,505.3Z" fill="#00e89a" />
<path d="M173.2,515 C176,512.8 182.8,512.4 190,512.5 C197.2,512.6 211.5,513.2 216.5,515.5 C221.5,517.8 227.2,524.2 220,526 C212.8,527.8 180.8,527.8 173,526 C165.2,524.2 170.4,517.2 173.2,515Z" fill="#00e89a" />
<path d="M306.4,502 C307.8,499.9 309.9,491.8 314.7,489.5 C319.5,487.2 329.6,487.1 335,488 C340.4,488.9 344.5,491.7 347,495 C349.5,498.3 350.2,503.5 350,508 C349.8,512.5 346.7,519.7 346,522 L330,530 L306,530Z" fill="#1ac846" />
<path d="M96,485.5 C98,485.2 103.2,484.2 108,483.5 C112.8,482.8 118,481.8 125,481.3 C132,480.8 136.4,480.2 150,480.5 C163.6,480.8 188.8,482.3 206.5,483 C224.2,483.7 245.4,484.8 256.5,484.6 C267.6,484.4 264.7,483.1 273,482 C281.3,480.9 298.2,479.1 306.4,478 C314.6,476.9 319.4,475.8 322,475.3 L322,472.6 L96,472.6Z" fill="#5cc850" />
<path d="M96,483.6 C98,483.2 103.2,482.2 108,481.5 C112.8,480.8 118,480 125,479.5 C132,479 136.4,478.4 150,478.7 C163.6,479 188.8,480.5 206.5,481.2 C224.2,481.9 245.4,482.9 256.5,482.8 C267.6,482.7 264.7,481.4 273,480.3 C281.3,479.2 298.6,477.3 306.4,476.5 C314.2,475.7 317.7,475.5 320,475.3 L320,472.6 L96,472.6Z" fill="#ffc31e" />
<path d="M351,473 C352.3,474.5 355.5,478.7 359,482 C362.5,485.3 368.3,489.8 372,493 C375.7,496.2 378.8,498.2 381,501 C383.2,503.8 384.2,507 385,510 C385.8,513 385.7,515.7 386,519 C386.3,522.3 378,527.8 387,530 C396,532.2 419.2,532 440,532 C460.8,532 498.8,532.8 511.5,530 C524.2,527.2 514.6,519.1 516.5,515.3 C518.4,511.5 523.8,509.5 523,507 C522.2,504.5 514,503.6 511.5,500.3 C509,497 506.9,491.6 508,487 C509.1,482.4 516.3,475.3 518,473Z" fill="#5cc850" filter="url(#blur1)"/>
<path d="M353.3,475.3 C354.7,476.7 357.4,480.6 361.6,483.6 C365.8,486.7 372.8,490.8 378.3,493.6 C383.9,496.4 389.3,498.9 394.9,500.3 C400.4,501.7 406.1,502.3 411.6,502 C417.2,501.7 422.6,499.7 428.2,498.6 C433.8,497.5 439.3,496.7 444.9,495.3 C450.4,493.9 454.6,492 461.5,490.3 C468.4,488.6 481.2,487 486.5,485.3 C491.8,483.6 493.1,482 493.1,480.3 C493.1,478.6 487.6,476.1 486.5,475.3 L486,472.6 L353,472.6Z" fill="#ffc31e" />
<path d="M381,475.3 C382,476.7 383,481.2 387,483.5 C391,485.8 398.7,487.9 405,489 C411.3,490.1 418.2,490.5 425,490 C431.8,489.5 441,487.6 446,486 C451,484.4 453.2,482.3 455,480.5 C456.8,478.7 456.7,476.2 457,475.3 L457,472.6 L381,472.6Z" fill="#ffa010" filter="url(#blur1)"/>
<path d="M388,475.3 C388.8,476.4 389.7,480.1 393,482 C396.3,483.9 402.2,485.8 408,486.5 C413.8,487.2 422,487.2 428,486.5 C434,485.8 440.5,483.9 444,482 C447.5,480.1 448.2,476.4 449,475.3 L449,472.6 L388,472.6Z" fill="#f4400c" filter="url(#blur1)"/>
<path d="M393,475.3 C393.8,476.2 395,479.5 398,481 C401,482.5 406,484 411,484.5 C416,485 423,484.8 428,484 C433,483.2 438.2,481.4 441,480 C443.8,478.6 444.3,476.1 445,475.3 L445,472.6 L393,472.6Z" fill="#dd0022" filter="url(#blur1)"/>
<ellipse cx="428" cy="478.8" rx="14" ry="2.6" fill="#ffa58a" filter="url(#blur1)"/>
<path d="M420,521 C422,519.9 427,516.2 432,514.5 C437,512.8 444.2,511.8 450,511 C455.8,510.2 459.8,509.1 466.5,509.5 C473.2,509.9 482.4,511.9 490,513.5 C497.6,515.1 508.3,518.1 512,519 L512,530 L420,530Z" fill="#ffc31e" />
<path d="M560,545 C564,548.4 575,561.6 584.1,565.2 C593.2,568.9 605.6,566.1 614.9,566.9 C624.2,567.7 630.2,569.4 639.9,570.2 C649.6,571 662.1,571.8 673.2,571.9 C684.3,572 696.7,571.3 706.5,571 C716.3,570.7 727.8,570.3 732,570.2 L732.5,472.6 L560,472.6Z" fill="#5cc850" />
<path d="M518.1,473 C516.4,475.3 509.2,482.4 508.1,487 C507,491.6 508.9,497 511.4,500.3 C513.9,503.6 522.3,504.5 523.1,507 C523.9,509.5 518.4,513 516.4,515.3 C514.4,517.6 507.5,516.9 511.4,521 C515.3,525.1 529.4,534.6 540,540 C550.6,545.4 566.7,551.6 575,553.6 C583.3,555.6 584.7,553.9 590,551.9 C595.3,549.9 601.1,544.9 606.6,541.9 C612.1,538.9 617.1,535.7 623.2,533.6 C629.3,531.5 634.9,530.1 643.2,529.4 C651.5,528.7 662.7,529.4 673.2,529.4 C683.8,529.4 696.7,529.5 706.5,529.4 C716.3,529.3 727.8,528.7 732,528.6 L732.5,472.6 L518,472.6Z" fill="#ffc31e" />
<g>
<path d="M531,473 C531.3,475 531.5,481.2 533,485 C534.5,488.8 533.3,493 540,496 C546.7,499 559.4,501.7 573.3,502.8 C587.2,503.9 606.6,502.8 623.2,502.8 C639.9,502.8 655.1,501.4 673.2,502.8 C691.3,504.2 722.2,509.6 732,511 L732.5,472.6 L531,472.6Z" fill="#ffa818" filter="url(#blur2)"/>
<path d="M540,473 C540.3,475.3 539.5,483 542,487 C544.5,491 547,494.8 555,497 C563,499.2 577.5,500.2 590,500.5 C602.5,500.8 615,499.6 630,499 C645,498.4 663,496.2 680,497 C697,497.8 723.3,502.8 732,504 L732.5,472.6 L540,472.6Z" fill="#ff8a10" filter="url(#blur2)"/>
<path d="M546,473 C546.3,475.3 545.7,483.1 548,487 C550.3,490.9 553,494.4 560,496.5 C567,498.6 580.8,499.4 590,499.5 C599.2,499.6 606.7,498.6 615,497 C623.3,495.4 629.2,491.5 640,490 C650.8,488.5 664.7,486.8 680,488 C695.3,489.2 723.3,495.5 732,497 L732.5,472.6 L546,472.6Z" fill="#ee6610" filter="url(#blur2)"/>
<path d="M550,473 C550.5,475.8 550.5,486.2 553,490 C555.5,493.8 558.8,494.7 565,496 C571.2,497.3 582.5,497.9 590,497.6 C597.5,497.3 604.7,496.1 610,494 C615.3,491.9 619.3,488.5 622,485 C624.7,481.5 625.3,475 626,473Z" fill="#dd0022" filter="url(#blur1)"/>
<path d="M698,473 C700.3,474.8 706.3,481.5 712,484 C717.7,486.5 728.7,487.3 732,488 L732.5,472.6Z" fill="#dd0022" filter="url(#blur1)"/>
</g>
<path d="M590,581 C590.8,581.5 589.4,582.8 594.9,583.7 C600.4,584.6 612.9,585.1 623.2,586.2 C633.5,587.3 646.8,588.5 656.5,590.3 C666.2,592.1 674.5,594.5 681.5,597 C688.5,599.5 692.7,601.4 698.2,605.3 C703.8,609.2 710.6,615.3 714.8,620.3 C718.9,625.3 720.2,631.2 723.1,635.3 C726,639.4 730.5,643.4 732,645 L732.5,756.1 L580,756.1Z" fill="#1ac846" />
<path d="M595,586 C595.8,586.5 595.2,587.7 599.9,588.7 C604.6,589.7 615.2,590.9 623.2,592 C631.2,593.1 639.9,593.6 648.2,595.3 C656.5,597 666.3,599.2 673.2,602 C680.1,604.8 684.8,608.1 689.8,612 C694.8,615.9 698.9,620.6 703.1,625.3 C707.3,630 711.5,635.6 714.8,640.3 C718.1,645 720.2,650.1 723.1,653.6 C726,657.1 730.5,659.8 732,661 L732.5,756.1 L580,756.1Z" fill="#00e89a" />
<path d="M600,593 C600.8,593.4 601,594.4 604.9,595.3 C608.8,596.2 616,597.5 623.2,598.6 C630.4,599.7 641.2,600.3 648.2,602 C655.2,603.7 659.4,605.6 664.9,608.6 C670.4,611.6 676.5,615.8 681.5,620.3 C686.5,624.8 690.6,630 694.8,635.3 C699,640.6 702.9,646.6 706.5,651.9 C710.1,657.2 712.2,661.9 716.5,666.9 C720.8,671.9 729.4,679.5 732,682 L732.5,756.1 L580,756.1Z" fill="#44aafa" />
<path d="M600,596.7 C600.8,596.9 601,597.5 604.9,598.3 C608.8,599 616,600.1 623.2,601.3 C630.4,602.5 641.2,603.5 648.2,605.5 C655.2,607.5 659.4,609.7 664.9,613.3 C670.4,616.9 676.5,622.1 681.5,627 C686.5,632 690.6,637.5 694.8,642.7 C699,648 702.9,653.6 706.5,658.5 C710.1,663.4 712.2,667.4 716.5,672.1 C720.8,676.7 729.4,684.1 732,686.5 L732.5,756.1 L580,756.1Z" fill="#3399f2" />
<path d="M600,600.4 C600.8,600.5 601,600.6 604.9,601.2 C608.8,601.8 616,602.7 623.2,604 C630.4,605.3 641.2,606.7 648.2,609 C655.2,611.3 659.4,613.8 664.9,618 C670.4,622.1 676.5,628.4 681.5,633.8 C686.5,639.2 690.6,644.9 694.8,650.2 C699,655.4 702.9,660.6 706.5,665.1 C710.1,669.6 712.2,672.9 716.5,677.2 C720.8,681.6 729.4,688.8 732,691.1 L732.5,756.1 L580,756.1Z" fill="#2a88ea" />
<path d="M604,603.5 C605,603.8 605.3,604.7 609.9,605.3 C614.5,605.9 625.2,605.9 631.6,607 C638,608.1 642.7,609.5 648.2,612 C653.8,614.5 659.9,618.1 664.9,622 C669.9,625.9 674.1,630.6 678.2,635.3 C682.4,640 685.6,645 689.8,650.3 C693.9,655.6 698.9,661.9 703.1,666.9 C707.3,671.9 710,675.5 714.8,680.2 C719.6,684.9 729.1,692.5 732,695 L732.5,756.1 L580,756.1Z" fill="#5858f5" />
<path d="M608,609 C608.9,609.2 609.3,609.7 613.2,610.3 C617.1,610.9 625.8,611.1 631.6,612.8 C637.4,614.5 642.7,616.8 648.2,620.3 C653.8,623.8 660.7,629.2 664.9,633.6 C669.1,638 670.4,642.5 673.2,646.9 C676,651.3 678.7,656.3 681.5,660.2 C684.3,664.1 685.6,666 689.8,670.2 C694,674.4 702.3,680.8 706.5,685.2 C710.7,689.7 710.5,692.8 714.8,696.9 C719,701 729.1,707.8 732,710 L732.5,756.1 L580,756.1Z" fill="#4040f8" />
<path d="M618.2,616.1 C621.8,617.2 634.1,618.3 639.9,622.8 C645.7,627.2 648.8,635.9 653.2,642.8 C657.6,649.7 662.7,658.7 666.5,664.4 C670.3,670.1 672.2,672.6 676,677.2 C679.8,681.8 685.2,687 689,692.2 C692.8,697.4 695.2,703.8 698.5,708.3 C701.8,712.8 705.1,715.2 708.5,719 C711.9,722.8 714.7,727.8 718.6,731.1 C722.5,734.4 729.8,737.4 732,738.7 L732.5,756.1 L580,756.1Z" fill="#9a7cf8" />
<path d="M623.2,617 C625.4,618.2 632.4,620.2 636.6,624.5 C640.8,628.8 644.3,636.4 648.2,642.8 C652.1,649.2 656.3,657.4 659.9,662.8 C663.5,668.2 666,670.3 670,675.2 C674,680.1 679.9,686.7 684,692.2 C688.1,697.7 691.5,703.8 694.9,708.3 C698.3,712.8 700.9,715.2 704.3,719 C707.6,722.8 711.4,727.5 715,731.1 C718.6,734.7 722.9,738.2 725.7,740.4 C728.5,742.6 731,743.6 732,744.2 L732.5,756.1 L580,756.1Z" fill="#e060d8" />
<path d="M123.3,484.5 C127.5,484.1 139.9,482.5 148.3,482 C156.6,481.4 167.4,481.4 173.2,481.2 C179.1,480.9 181.6,480.5 183.2,480.3" fill="none" stroke="#111" stroke-width="0.7"/>
<path d="M147.4,498.6 C148.4,497.8 150.3,494.9 153.3,493.6 C156.2,492.4 158.8,491.8 164.9,491.1 C171,490.4 181.6,489.6 189.9,489.5 C198.2,489.3 208.5,489.6 214.9,490.3 C221.2,491 225.3,492.2 228.2,493.6 C231.1,495 232.1,496.7 232.3,498.6 C232.6,500.6 230.7,503.6 229.8,505.3 C229,507 227.5,507.7 227.3,508.6 C227.2,509.5 228.7,510.3 229,510.6" fill="none" stroke="#111" stroke-width="0.7"/>
<path d="M253.1,483.6 C256.5,483.4 267,482.7 273.1,482 C279.2,481.3 284.5,480.3 289.8,479.5 C295,478.7 302.3,477.4 304.7,477" fill="none" stroke="#111" stroke-width="0.7"/>
<path d="M291.4,516.9 C295.3,516.4 306.7,514.4 314.7,513.6 C322.8,512.8 332.8,511.7 339.7,511.9 C346.6,512.2 352.1,513.9 356.4,515.3 C360.6,516.7 363.6,519.4 365,520.3" fill="none" stroke="#111" stroke-width="0.7"/>
<path d="M358.3,485.3 C361.6,486.7 372.2,491.3 378.3,493.6 C384.4,496 389.4,498.2 394.9,499.5 C400.5,500.7 408.8,500.8 411.6,501.1" fill="none" stroke="#111" stroke-width="0.7"/>
<path d="M389.9,487 C392.1,487.3 399.4,488.2 403.2,488.6 C407.1,489.1 411.6,489.3 413.2,489.5" fill="none" stroke="#111" stroke-width="0.7"/>
<path d="M411.6,515.3 C412.9,514.4 417.1,511.5 419.9,510.3 C422.7,509 422.7,508.1 428.2,507.8 C433.8,507.5 446.2,508.3 453.2,508.6 C460.1,509 464.6,509.6 469.8,509.9 C475.1,510.3 482.3,510.5 484.8,510.6" fill="none" stroke="#111" stroke-width="0.7"/>
<path d="M451.5,484.5 C452.9,484.1 457.9,483 459.8,482 C461.8,481 462.6,479.2 463.2,478.7" fill="none" stroke="#111" stroke-width="0.7"/>
<path d="M508.1,477 C507.8,479.2 506.2,487 506.4,490.3 C506.7,493.6 509.4,494.9 509.8,497 C510.2,499 509.1,501.8 508.9,502.8" fill="none" stroke="#111" stroke-width="0.7"/>
<path d="M541.4,477 C540.6,478.9 536.4,485 536.4,488.6 C536.4,492.2 538.6,496.3 541.4,498.6 C544.2,501 548.3,502 553.1,502.8 C557.8,503.6 564.2,503.6 569.7,503.6 C575.3,503.6 583.6,502.9 586.4,502.8" fill="none" stroke="#111" stroke-width="0.7"/>
<path d="M540,497 C542.8,497.7 549.7,500.1 556.6,501.1 C563.6,502.2 573.3,503 581.6,503.3 C589.9,503.6 599.1,503.2 606.6,502.8 C614.1,502.4 623.2,501.4 626.6,501.1" fill="none" stroke="#111" stroke-width="0.7"/>
<path d="M673.2,502.3 C677.3,502.9 688.8,504.7 698.1,506.1 C707.5,507.6 724.1,510.3 729.3,511.1" fill="none" stroke="#111" stroke-width="0.7"/>
<path d="M561.6,477.3 C563.6,477.7 570.9,478.6 573.3,479.5 C575.7,480.4 576.3,482 575.8,482.8 C575.2,483.6 570.9,484.2 570,484.5" fill="none" stroke="#111" stroke-width="0.7"/>
<path d="M584.1,563.6 C587.9,563.7 600.1,564.5 606.6,564.4 C613.1,564.2 618.8,563.7 623.2,562.7 C627.7,561.8 630.9,560.6 633.2,558.6 C635.6,556.5 636.3,552.7 637.4,550.2 C638.5,547.7 636.7,545.4 639.9,543.6 C643.1,541.8 649.6,540.5 656.5,539.4 C663.5,538.3 673.2,537.7 681.5,536.9 C689.8,536.2 702.3,535.3 706.5,534.9" fill="none" stroke="#111" stroke-width="0.7"/>
<path d="M599.9,589.4 C603.8,589.8 613.8,591.2 623.2,591.9 C632.7,592.5 646.8,592.9 656.5,593.5 C666.2,594.1 677.3,595.2 681.5,595.5" fill="none" stroke="#111" stroke-width="0.7"/>
<path d="M714.8,614.5 C716.2,616.5 720.7,622.4 723.1,626.9 C725.5,631.5 728.3,639.4 729.3,641.9" fill="none" stroke="#111" stroke-width="0.7"/>
<path d="M611.6,608.6 C614.9,609 625.5,609.7 631.6,611.1 C637.7,612.5 643.2,614.3 648.2,617 C653.2,619.6 657.6,623.1 661.5,626.9 C665.4,630.8 668.7,635.5 671.5,640.3 C674.3,645 676,650.4 678.2,655.2 C680.4,660.1 683.7,667 684.8,669.4" fill="none" stroke="#111" stroke-width="0.7"/>
<path d="M699.8,690.2 C702.3,692.4 710.9,699.9 714.8,703.5 C718.7,707.1 721.7,710.5 723.1,711.8" fill="none" stroke="#111" stroke-width="0.7"/>
<path d="M606.6,602 C610.8,602.4 623.2,603.2 631.6,604.5 C639.9,605.7 649.6,607.8 656.5,609.5 C663.5,611.1 668.5,612.4 673.2,614.5 C677.9,616.5 681.2,618.2 684.8,621.9 C688.4,625.7 691.5,631.7 694.8,636.9 C698.1,642.2 701.5,648 704.8,653.6 C708.1,659.1 710.7,664.7 714.8,670.2 C718.9,675.8 726.9,684.1 729.3,686.9" fill="none" stroke="#111" stroke-width="0.7"/>
<path d="M624.9,626.9 C626.3,628.9 630.2,634.4 633.2,638.6 C636.3,642.8 641.5,649.7 643.2,651.9" fill="none" stroke="#111" stroke-width="0.7"/>
<path d="M698.9,719 C700.3,720.6 704.1,725.3 707,728.4 C709.8,731.5 714.8,736.2 716.3,737.8" fill="none" stroke="#111" stroke-width="0.7"/>
<text transform="translate(107.5,490.3) rotate(-35) scale(1.15,1)" text-anchor="middle" font-size="15.5" font-weight="bold" font-style="italic" fill="#000" stroke="#000" stroke-width="0.35" dy="0.36em">20</text>
<text transform="translate(243.2,515.3) rotate(10) scale(1.15,1)" text-anchor="middle" font-size="15.5" font-weight="bold" font-style="italic" fill="#000" stroke="#000" stroke-width="0.35" dy="0.36em">15</text>
<text transform="translate(343.9,479) rotate(30) scale(1.15,1)" text-anchor="middle" font-size="15.5" font-weight="bold" font-style="italic" fill="#000" stroke="#000" stroke-width="0.35" dy="0.36em">20</text>
<text transform="translate(188.2,477.3) rotate(10) scale(1.15,1)" text-anchor="middle" font-size="15.5" font-weight="bold" font-style="italic" fill="#000" stroke="#000" stroke-width="0.35" dy="0.36em">25</text>
<text transform="translate(405.7,479.5) rotate(5) scale(1.15,1)" text-anchor="middle" font-size="15.5" font-weight="bold" font-style="italic" fill="#000" stroke="#000" stroke-width="0.35" dy="0.36em">35</text>
<text transform="translate(368.3,477) rotate(20) scale(1.15,1)" text-anchor="middle" font-size="15.5" font-weight="bold" font-style="italic" fill="#000" stroke="#000" stroke-width="0.35" dy="0.36em">30</text>
<text transform="translate(432.4,489) rotate(-15) scale(1.15,1)" text-anchor="middle" font-size="15.5" font-weight="bold" font-style="italic" fill="#000" stroke="#000" stroke-width="0.35" dy="0.36em">25</text>
<text transform="translate(504.8,507.8) rotate(-15) scale(1.15,1)" text-anchor="middle" font-size="15.5" font-weight="bold" font-style="italic" fill="#000" stroke="#000" stroke-width="0.35" dy="0.36em">20</text>
<text transform="translate(583.3,492.8) rotate(3) scale(1.15,1)" text-anchor="middle" font-size="15.5" font-weight="bold" font-style="italic" fill="#000" stroke="#000" stroke-width="0.35" dy="0.36em">30</text>
<text transform="translate(654.9,501.1) rotate(5) scale(1.15,1)" text-anchor="middle" font-size="15.5" font-weight="bold" font-style="italic" fill="#000" stroke="#000" stroke-width="0.35" dy="0.36em">25</text>
<text transform="translate(721.5,482.8) rotate(25) scale(1.15,1)" text-anchor="middle" font-size="15.5" font-weight="bold" font-style="italic" fill="#000" stroke="#000" stroke-width="0.35" dy="0.36em">32</text>
<text transform="translate(723.1,535.3) rotate(10) scale(1.15,1)" text-anchor="middle" font-size="15.5" font-weight="bold" font-style="italic" fill="#000" stroke="#000" stroke-width="0.35" dy="0.36em">20</text>
<text transform="translate(700.6,603.6) rotate(30) scale(1.15,1)" text-anchor="middle" font-size="15.5" font-weight="bold" font-style="italic" fill="#000" stroke="#000" stroke-width="0.35" dy="0.36em">15</text>
<text transform="translate(691.5,681) rotate(40) scale(1.15,1)" text-anchor="middle" font-size="15.5" font-weight="bold" font-style="italic" fill="#000" stroke="#000" stroke-width="0.35" dy="0.36em">5</text>
<text transform="translate(606.6,597.8) rotate(20) scale(1.15,1)" text-anchor="middle" font-size="15.5" font-weight="bold" font-style="italic" fill="#000" stroke="#000" stroke-width="0.35" dy="0.36em">10</text>
<text transform="translate(726.3,748.4) rotate(50) scale(1.15,1)" text-anchor="middle" font-size="15.5" font-weight="bold" font-style="italic" fill="#000" stroke="#000" stroke-width="0.35" dy="0.36em">0</text>
<path d="M100,483.4 C101.4,482.8 104.4,481 108.3,480.1 C112.2,479.1 116.6,478.3 123.3,477.9 C130,477.5 138.6,477.3 148.3,477.6 C158,477.8 171.8,478.5 181.6,479.2 C191.3,479.9 199.6,480.9 206.5,481.7 C213.5,482.5 218.2,483 223.2,484.2 C228.2,485.5 232.9,487.3 236.5,489.2 C240.1,491.1 242.9,493.8 244.8,495.9 C246.8,497.9 247.6,500.7 248.1,501.7" fill="none" stroke="#fff" stroke-width="1.3"/>
<path d="M253.1,479.2 C256.5,479.2 267,479.2 273.1,478.9 C279.2,478.6 284.5,478.1 289.8,477.6 C295,477.1 302.3,476.2 304.7,475.9" fill="none" stroke="#fff" stroke-width="1.3"/>
<path d="M128.3,510.8 C130.2,510.4 136.9,509.7 139.9,508.4 C143,507 144.7,504.3 146.6,502.5 C148.5,500.7 149.8,498.6 151.6,497.5 C153.4,496.4 156.5,496.1 157.4,495.9" fill="none" stroke="#fff" stroke-width="1.3"/>
<path d="M194,496.7 C194.2,497.5 195.8,500.3 194.9,501.7 C193.9,503.1 189.7,503.9 188.2,505 C186.7,506.1 184.9,507 185.7,508.4 C186.6,509.7 189.7,511.8 193.2,513.3 C196.7,514.9 202.6,516.4 206.5,517.5 C210.4,518.6 214.9,519.6 216.5,520" fill="none" stroke="#fff" stroke-width="1.3"/>
<path d="M268.1,512.8 C270.1,512.7 276.2,512.2 279.8,511.7 C283.4,511.2 287.3,511.3 289.8,510 C292.3,508.8 293.7,506.3 294.8,504.2 C295.9,502.1 295.9,499.7 296.4,497.5 C297,495.3 296.7,493.4 298.1,490.9 C299.5,488.4 302.3,485 304.7,482.5 C307.2,480.1 311.7,477.3 313.1,476.2" fill="none" stroke="#fff" stroke-width="1.3"/>
<path d="M353.3,475.9 C355.5,477.3 361.6,481.3 366.6,484.2 C371.6,487.1 378.3,490.9 383.3,493.4 C388.3,495.9 392.7,497.8 396.6,499.2 C400.5,500.6 403.5,501.4 406.6,501.7 C409.6,502 413.5,501.3 414.9,501.2" fill="none" stroke="#fff" stroke-width="1.3"/>
<path d="M451.5,494.2 C454.6,493.4 464,490.9 469.8,489.2 C475.7,487.5 482.6,485.7 486.5,484.2 C490.4,482.7 493.1,481.4 493.1,480.1 C493.1,478.7 487.6,476.6 486.5,475.9" fill="none" stroke="#fff" stroke-width="1.3"/>
<path d="M399.9,482.5 C402.1,483.1 408.5,485.5 413.2,485.9 C417.9,486.3 423.5,485.9 428.2,485 C432.9,484.2 438.1,482.4 441.5,480.9 C445,479.4 447.8,476.7 449,475.9" fill="none" stroke="#fff" stroke-width="1.3"/>
<path d="M475.7,513 C475,512.6 472.5,511.6 471.5,510.5 C470.5,509.5 469.5,507.9 469.8,506.7 C470.1,505.5 470.4,504.3 473.2,503.4 C475.9,502.4 481.5,501.6 486.5,500.9 C491.5,500.2 497.3,499.5 503.1,499.2 C508.9,498.9 518.4,499.2 521.4,499.2" fill="none" stroke="#fff" stroke-width="1.3"/>
<path d="M509.8,478.4 C511.4,478.9 516.7,480.9 519.8,481.7 C522.8,482.5 524.8,482.6 528.1,483 C531.4,483.5 537.8,484 539.7,484.2" fill="none" stroke="#fff" stroke-width="1.3"/>
<path d="M548.3,475.9 C551.1,476.6 558,478.8 565,480.1 C571.9,481.3 582.2,482.5 589.9,483.4 C597.7,484.3 605.5,485 611.6,485.5 C617.7,486.1 624.1,486.5 626.6,486.7" fill="none" stroke="#fff" stroke-width="1.3"/>
<path d="M575.8,475.9 C579,476.4 588.4,478.4 594.9,479.2 C601.5,480.1 609.5,480.5 614.9,480.9 C620.3,481.3 625.3,481.6 627.4,481.7" fill="none" stroke="#fff" stroke-width="1.3"/>
<path d="M540,484.2 C544.2,484.9 556.6,486.7 565,488.4 C573.3,490 581.6,492.4 589.9,494.2 C598.3,496 607.7,497.4 614.9,499.2 C622.1,501 628,503.1 633.2,505 C638.5,507 639.9,508.8 646.5,510.8 C653.2,512.9 664.6,515.6 673.2,517.5 C681.8,519.4 692,521.3 698.1,522.5 C704.3,523.7 707.9,524.2 709.8,524.5" fill="none" stroke="#fff" stroke-width="1.3"/>
<path d="M664.9,490.9 C669,492 681.5,495.4 689.8,497.5 C698.1,499.6 708.2,502 714.8,503.4 C721.4,504.7 726.9,505.4 729.3,505.9" fill="none" stroke="#fff" stroke-width="1.3"/>
<path d="M558.3,503.4 C560.8,504 568.3,505.4 573.3,507.5 C578.3,509.6 583.8,512.2 588.3,515.8 C592.7,519.4 596.3,525 599.9,529.2 C603.5,533.3 606,536.9 609.9,540.8 C613.8,544.7 618.2,548.6 623.2,552.5 C628.2,556.4 634.3,561.1 639.9,564.1 C645.4,567.2 649.6,568.6 656.5,570.8 C663.5,573 673.2,574.9 681.5,577.4 C689.8,579.9 700.1,583 706.5,585.8 C712.9,588.5 716,591.5 719.8,594.1 C723.6,596.6 727.7,599.9 729.3,601.1" fill="none" stroke="#fff" stroke-width="1.3"/>
<path d="M654.9,482.5 C657.9,482.7 667.4,483 673.2,483.4 C679,483.7 683.7,484.2 689.8,484.5 C695.9,484.9 706.5,485.1 709.8,485.2" fill="none" stroke="#fff" stroke-width="1.3"/>
<path d="M604.9,597.5 C607.1,598.1 613.8,600 618.2,600.9 C622.7,601.8 627.4,602.1 631.6,602.9 C635.7,603.6 641.3,604.8 643.2,605.2" fill="none" stroke="#fff" stroke-width="1.3"/>
<path d="M673.2,617.5 C675.1,619.2 681.2,623.3 684.8,627.5 C688.4,631.7 691.8,637.8 694.8,642.5 C697.9,647.2 700.1,651.1 703.1,655.8 C706.2,660.5 709.8,666.4 713.1,670.8 C716.5,675.2 720.4,679.3 723.1,682.4 C725.8,685.6 728.3,688.7 729.3,689.9" fill="none" stroke="#fff" stroke-width="1.3"/>
<text transform="translate(176.6,494.2) rotate(0) scale(1.15,1)" text-anchor="middle" font-size="15.8" font-weight="bold" font-style="italic" fill="#fff" stroke="#fff" stroke-width="0.15" dy="0.36em">26</text>
<text transform="translate(244,480.1) rotate(12) scale(1.15,1)" text-anchor="middle" font-size="15.8" font-weight="bold" font-style="italic" fill="#fff" stroke="#fff" stroke-width="0.15" dy="0.36em">24</text>
<text transform="translate(259,512.2) rotate(15) scale(1.15,1)" text-anchor="middle" font-size="15.8" font-weight="bold" font-style="italic" fill="#fff" stroke="#fff" stroke-width="0.15" dy="0.36em">25</text>
<text transform="translate(339.7,516.7) rotate(8) scale(1.15,1)" text-anchor="middle" font-size="15.8" font-weight="bold" font-style="italic" fill="#fff" stroke="#fff" stroke-width="0.15" dy="0.36em">26</text>
<text transform="translate(379.9,479.2) rotate(25) scale(1.15,1)" text-anchor="middle" font-size="15.8" font-weight="bold" font-style="italic" fill="#fff" stroke="#fff" stroke-width="0.15" dy="0.36em">24</text>
<text transform="translate(428.2,498) rotate(-8) scale(1.15,1)" text-anchor="middle" font-size="15.8" font-weight="bold" font-style="italic" fill="#fff" stroke="#fff" stroke-width="0.15" dy="0.36em">25</text>
<text transform="translate(539.7,500.9) rotate(5) scale(1.15,1)" text-anchor="middle" font-size="15.8" font-weight="bold" font-style="italic" fill="#fff" stroke="#fff" stroke-width="0.15" dy="0.36em">26</text>
<text transform="translate(647.4,489.2) rotate(8) scale(1.15,1)" text-anchor="middle" font-size="15.8" font-weight="bold" font-style="italic" fill="#fff" stroke="#fff" stroke-width="0.15" dy="0.36em">24</text>
<text transform="translate(724.8,485.5) rotate(8) scale(1.15,1)" text-anchor="middle" font-size="15.8" font-weight="bold" font-style="italic" fill="#fff" stroke="#fff" stroke-width="0.15" dy="0.36em">25</text>
<text transform="translate(724.8,527.5) rotate(20) scale(1.15,1)" text-anchor="middle" font-size="15.8" font-weight="bold" font-style="italic" fill="#fff" stroke="#fff" stroke-width="0.15" dy="0.36em">26</text>
<text transform="translate(657.4,610) rotate(25) scale(1.15,1)" text-anchor="middle" font-size="15.8" font-weight="bold" font-style="italic" fill="#fff" stroke="#fff" stroke-width="0.15" dy="0.36em">27</text>
<text transform="translate(614.9,477.3) rotate(5) scale(1.15,1)" text-anchor="middle" font-size="15.8" font-weight="bold" font-style="italic" fill="#fff" stroke="#fff" stroke-width="0.15" dy="0.36em">22</text>
<path d="M660.2,672.2 L669.5,674.2 L680.2,681.6 L690.9,691 L694.9,701.7 L695.2,716.7 L660,670.2Z" fill="#fff" />
<path d="M99,510 L210,522.5 L279.2,515.4 L330,521.8 L403.3,522.9 L467.5,512 L512,520.4 L557.5,525.7 L590,576.2 L631.2,632.8 L660,671.7 L690,712.7 L724.8,753.2 L99,753.2Z" fill="#363636" />
<circle cx="103.8" cy="477" r="2.7" fill="#3a3a3a"/><circle cx="103.8" cy="484.5" r="2.7" fill="#3a3a3a"/><circle cx="103.8" cy="489.5" r="2.7" fill="#3a3a3a"/><circle cx="103.8" cy="499.5" r="2.7" fill="#3a3a3a"/><circle cx="103.8" cy="505.8" r="2.7" fill="#3a3a3a"/>
<circle cx="209.7" cy="477" r="2.7" fill="#3a3a3a"/><circle cx="209.7" cy="485.3" r="2.7" fill="#3a3a3a"/><circle cx="209.7" cy="494.5" r="2.7" fill="#3a3a3a"/><circle cx="209.7" cy="504.2" r="2.7" fill="#3a3a3a"/><circle cx="209.7" cy="520" r="2.7" fill="#3a3a3a"/>
<circle cx="279.5" cy="477" r="2.7" fill="#3a3a3a"/><circle cx="279.5" cy="485.3" r="2.7" fill="#3a3a3a"/><circle cx="279.5" cy="494.8" r="2.7" fill="#3a3a3a"/><circle cx="279.5" cy="504.2" r="2.7" fill="#3a3a3a"/><circle cx="279.5" cy="511.5" r="2.7" fill="#3a3a3a"/>
<circle cx="330" cy="477" r="2.7" fill="#3a3a3a"/><circle cx="330" cy="485.3" r="2.7" fill="#3a3a3a"/><circle cx="330" cy="494.8" r="2.7" fill="#3a3a3a"/><circle cx="330" cy="504.2" r="2.7" fill="#3a3a3a"/><circle cx="330" cy="518.6" r="2.7" fill="#3a3a3a"/>
<circle cx="403.3" cy="477" r="2.7" fill="#3a3a3a"/><circle cx="403.3" cy="485.3" r="2.7" fill="#3a3a3a"/><circle cx="403.3" cy="494.8" r="2.7" fill="#3a3a3a"/><circle cx="403.3" cy="504.2" r="2.7" fill="#3a3a3a"/><circle cx="403.3" cy="509.2" r="2.7" fill="#3a3a3a"/><circle cx="403.3" cy="518.6" r="2.7" fill="#3a3a3a"/>
<circle cx="467.5" cy="477" r="2.7" fill="#3a3a3a"/><circle cx="467.5" cy="485.3" r="2.7" fill="#3a3a3a"/><circle cx="467.5" cy="494.8" r="2.7" fill="#3a3a3a"/><circle cx="467.5" cy="499.5" r="2.7" fill="#3a3a3a"/><circle cx="467.5" cy="504.2" r="2.7" fill="#3a3a3a"/><circle cx="467.5" cy="507.8" r="2.7" fill="#3a3a3a"/>
<circle cx="512" cy="477" r="2.7" fill="#3a3a3a"/><circle cx="512" cy="485.3" r="2.7" fill="#3a3a3a"/><circle cx="512" cy="494.8" r="2.7" fill="#3a3a3a"/><circle cx="512" cy="504.2" r="2.7" fill="#3a3a3a"/><circle cx="512" cy="515.8" r="2.7" fill="#3a3a3a"/>
<circle cx="557.7" cy="477" r="2.7" fill="#3a3a3a"/><circle cx="557.7" cy="485.3" r="2.7" fill="#3a3a3a"/><circle cx="557.7" cy="489.5" r="2.7" fill="#3a3a3a"/><circle cx="557.7" cy="496.5" r="2.7" fill="#3a3a3a"/><circle cx="557.7" cy="509.2" r="2.7" fill="#3a3a3a"/><circle cx="557.7" cy="513.6" r="2.7" fill="#3a3a3a"/><circle cx="557.7" cy="523.6" r="2.7" fill="#3a3a3a"/>
<circle cx="631.2" cy="477" r="2.7" fill="#3a3a3a"/><circle cx="631.2" cy="489.5" r="2.7" fill="#3a3a3a"/><circle cx="631.2" cy="501.2" r="2.7" fill="#3a3a3a"/><circle cx="631.2" cy="522.8" r="2.7" fill="#3a3a3a"/><circle cx="631.2" cy="540.6" r="2.7" fill="#3a3a3a"/><circle cx="631.2" cy="568.6" r="2.7" fill="#3a3a3a"/><circle cx="631.2" cy="587.6" r="2.7" fill="#3a3a3a"/><circle cx="631.2" cy="605.8" r="2.7" fill="#3a3a3a"/><circle cx="631.2" cy="624.5" r="2.7" fill="#3a3a3a"/><circle cx="631.2" cy="633.6" r="2.7" fill="#3a3a3a"/>
<circle cx="724" cy="477" r="2.7" fill="#3a3a3a"/><circle cx="724" cy="499.2" r="2.7" fill="#3a3a3a"/><circle cx="724" cy="517.8" r="2.7" fill="#3a3a3a"/><circle cx="724" cy="527" r="2.7" fill="#3a3a3a"/><circle cx="724" cy="544.4" r="2.7" fill="#3a3a3a"/><circle cx="724" cy="568.6" r="2.7" fill="#3a3a3a"/><circle cx="724" cy="605.8" r="2.7" fill="#3a3a3a"/><circle cx="724" cy="651.6" r="2.7" fill="#3a3a3a"/><circle cx="724" cy="735.1" r="2.7" fill="#3a3a3a"/>
</g>
<rect x="99.0" y="475.6" width="630.5" height="277.5" fill="none" stroke="#000" stroke-width="1.7"/>
<path d="M91.5,475.60 H99.0" stroke="#000" stroke-width="1.4"/>
<text transform="translate(84.80,481.80) scale(1.19,1)" text-anchor="end" font-size="15.6" font-weight="bold" font-style="italic" stroke="#000" stroke-width="0.3" stroke-linejoin="round">0</text>
<path d="M91.5,521.85 H99.0" stroke="#000" stroke-width="1.4"/>
<text transform="translate(84.80,528.05) scale(1.19,1)" text-anchor="end" font-size="15.6" font-weight="bold" font-style="italic" stroke="#000" stroke-width="0.3" stroke-linejoin="round">50</text>
<path d="M91.5,568.10 H99.0" stroke="#000" stroke-width="1.4"/>
<text transform="translate(84.80,574.30) scale(1.19,1)" text-anchor="end" font-size="15.6" font-weight="bold" font-style="italic" stroke="#000" stroke-width="0.3" stroke-linejoin="round">100</text>
<path d="M91.5,614.35 H99.0" stroke="#000" stroke-width="1.4"/>
<text transform="translate(84.80,620.55) scale(1.19,1)" text-anchor="end" font-size="15.6" font-weight="bold" font-style="italic" stroke="#000" stroke-width="0.3" stroke-linejoin="round">150</text>
<path d="M91.5,660.60 H99.0" stroke="#000" stroke-width="1.4"/>
<text transform="translate(84.80,666.80) scale(1.19,1)" text-anchor="end" font-size="15.6" font-weight="bold" font-style="italic" stroke="#000" stroke-width="0.3" stroke-linejoin="round">200</text>
<path d="M91.5,706.85 H99.0" stroke="#000" stroke-width="1.4"/>
<text transform="translate(84.80,713.05) scale(1.19,1)" text-anchor="end" font-size="15.6" font-weight="bold" font-style="italic" stroke="#000" stroke-width="0.3" stroke-linejoin="round">250</text>
<path d="M91.5,753.10 H99.0" stroke="#000" stroke-width="1.4"/>
<text transform="translate(84.80,759.30) scale(1.19,1)" text-anchor="end" font-size="15.6" font-weight="bold" font-style="italic" stroke="#000" stroke-width="0.3" stroke-linejoin="round">300</text>
<path d="M99.10,753.1 V760.6" stroke="#000" stroke-width="1.4"/>
<text transform="translate(99.40,781.60) scale(1.19,1)" text-anchor="middle" font-size="15.6" font-weight="bold" font-style="italic" stroke="#000" stroke-width="0.3" stroke-linejoin="round">0</text>
<path d="M315.75,753.1 V760.6" stroke="#000" stroke-width="1.4"/>
<text transform="translate(316.05,781.60) scale(1.19,1)" text-anchor="middle" font-size="15.6" font-weight="bold" font-style="italic" stroke="#000" stroke-width="0.3" stroke-linejoin="round">500</text>
<path d="M532.40,753.1 V760.6" stroke="#000" stroke-width="1.4"/>
<text transform="translate(532.70,781.60) scale(1.19,1)" text-anchor="middle" font-size="15.6" font-weight="bold" font-style="italic" stroke="#000" stroke-width="0.3" stroke-linejoin="round">1000</text>
<path d="M207.43,753.1 V758.1" stroke="#000" stroke-width="0.7"/>
<path d="M424.08,753.1 V758.1" stroke="#000" stroke-width="0.7"/>
<path d="M640.73,753.1 V758.1" stroke="#000" stroke-width="0.7"/>
<text transform="translate(103.80,468.50) scale(0.84,1)" text-anchor="middle" font-size="21.5" font-style="italic">1</text>
<text transform="translate(208.80,468.50) scale(0.84,1)" text-anchor="middle" font-size="21.5" font-style="italic">2</text>
<text transform="translate(274.30,468.50) scale(0.84,1)" text-anchor="middle" font-size="21.5" font-style="italic">3</text>
<text transform="translate(326.80,468.50) scale(0.84,1)" text-anchor="middle" font-size="21.5" font-style="italic">4</text>
<text transform="translate(407.80,468.50) scale(0.84,1)" text-anchor="middle" font-size="21.5" font-style="italic">10</text>
<text transform="translate(467.80,468.50) scale(0.84,1)" text-anchor="middle" font-size="21.5" font-style="italic">11</text>
<text transform="translate(515.80,468.50) scale(0.84,1)" text-anchor="middle" font-size="21.5" font-style="italic">12</text>
<text transform="translate(557.30,468.50) scale(0.84,1)" text-anchor="middle" font-size="21.5" font-style="italic">13</text>
<text transform="translate(632.30,468.50) scale(0.84,1)" text-anchor="middle" font-size="21.5" font-style="italic">14</text>
<text transform="translate(721.80,468.50) scale(0.84,1)" text-anchor="middle" font-size="21.5" font-style="italic">15</text>
<defs><linearGradient id="cgC" x1="0" y1="1" x2="0" y2="0">
<stop offset="0.0000" stop-color="#ffc31e"/>
<stop offset="0.0566" stop-color="#ffa010"/>
<stop offset="0.2075" stop-color="#f06a10"/>
<stop offset="0.3660" stop-color="#ff3a0a"/>
<stop offset="0.3660" stop-color="#dd0022"/>
<stop offset="0.4566" stop-color="#dd0022"/>
<stop offset="0.5245" stop-color="#e02840"/>
<stop offset="0.6038" stop-color="#e84a62"/>
<stop offset="0.7358" stop-color="#f88080"/>
<stop offset="0.8151" stop-color="#ff9c90"/>
<stop offset="0.8679" stop-color="#ffb090"/>
<stop offset="1.0000" stop-color="#ffb090"/>
</linearGradient></defs>
<rect x="748.5" y="749.77" width="28.200000000000045" height="3.63" fill="#e986e2"/>
<rect x="748.5" y="745.61" width="28.200000000000045" height="4.46" fill="#e060d8"/>
<rect x="748.5" y="739.23" width="28.200000000000045" height="6.68" fill="#9a7cf8"/>
<rect x="748.5" y="719.80" width="28.200000000000045" height="19.72" fill="#4040f8"/>
<rect x="748.5" y="699.26" width="28.200000000000045" height="20.84" fill="#5858f5"/>
<rect x="748.5" y="689.00" width="28.200000000000045" height="10.57" fill="#2a88ea"/>
<rect x="748.5" y="679.29" width="28.200000000000045" height="10.01" fill="#3399f2"/>
<rect x="748.5" y="670.68" width="28.200000000000045" height="8.90" fill="#44aafa"/>
<rect x="748.5" y="649.59" width="28.200000000000045" height="21.39" fill="#00e89a"/>
<rect x="748.5" y="627.12" width="28.200000000000045" height="22.78" fill="#1ac846"/>
<rect x="748.5" y="607.41" width="28.200000000000045" height="20.00" fill="#24d626"/>
<rect x="748.5" y="590.21" width="28.200000000000045" height="17.51" fill="#5cc850"/>
<rect x="748.5" y="549.14" width="28.200000000000045" height="41.37" fill="#ffc31e"/>
<rect x="748.5" y="475.60" width="28.200000000000045" height="73.84" fill="url(#cgC)"/>
<path d="M748.5,475.6 L754.5,475.6 L762.6,471.3 L770.7,475.6 L776.7,475.6 Z" fill="#ffb090"/>
<path d="M748.5,753.1 L754.5,753.1 L762.6,757.4 L770.7,753.1 L776.7,753.1 Z" fill="#e986e2"/>
<path d="M748.5,753.1 L748.5,475.6 M776.7,475.6 L776.7,753.1" stroke="#000" stroke-width="1" fill="none"/>
<path d="M748.5,475.6 L754.5,475.6 L762.6,471.3 L770.7,475.6 L776.7,475.6 M748.5,753.1 L754.5,753.1 L762.6,757.4 L770.7,753.1 L776.7,753.1" stroke="#000" stroke-width="0.6" fill="none"/>
<path d="M748.5,753.10 h6 M776.7,753.10 h-6" stroke="#000" stroke-width="1.3" fill="none"/>
<text transform="translate(783.20,757.90) scale(1.2,1)" text-anchor="start" font-size="13.6" font-weight="bold" font-style="italic" stroke="#000" stroke-width="0.3" stroke-linejoin="round">0</text>
<path d="M748.5,713.46 h6 M776.7,713.46 h-6" stroke="#000" stroke-width="1.3" fill="none"/>
<text transform="translate(783.20,718.26) scale(1.2,1)" text-anchor="start" font-size="13.6" font-weight="bold" font-style="italic" stroke="#000" stroke-width="0.3" stroke-linejoin="round">5</text>
<path d="M748.5,673.81 h6 M776.7,673.81 h-6" stroke="#000" stroke-width="1.3" fill="none"/>
<text transform="translate(783.20,678.61) scale(1.2,1)" text-anchor="start" font-size="13.6" font-weight="bold" font-style="italic" stroke="#000" stroke-width="0.3" stroke-linejoin="round">10</text>
<path d="M748.5,634.17 h6 M776.7,634.17 h-6" stroke="#000" stroke-width="1.3" fill="none"/>
<text transform="translate(783.20,638.97) scale(1.2,1)" text-anchor="start" font-size="13.6" font-weight="bold" font-style="italic" stroke="#000" stroke-width="0.3" stroke-linejoin="round">15</text>
<path d="M748.5,594.53 h6 M776.7,594.53 h-6" stroke="#000" stroke-width="1.3" fill="none"/>
<text transform="translate(783.20,599.33) scale(1.2,1)" text-anchor="start" font-size="13.6" font-weight="bold" font-style="italic" stroke="#000" stroke-width="0.3" stroke-linejoin="round">20</text>
<path d="M748.5,554.89 h6 M776.7,554.89 h-6" stroke="#000" stroke-width="1.3" fill="none"/>
<text transform="translate(783.20,559.69) scale(1.2,1)" text-anchor="start" font-size="13.6" font-weight="bold" font-style="italic" stroke="#000" stroke-width="0.3" stroke-linejoin="round">25</text>
<path d="M748.5,515.24 h6 M776.7,515.24 h-6" stroke="#000" stroke-width="1.3" fill="none"/>
<text transform="translate(783.20,520.04) scale(1.2,1)" text-anchor="start" font-size="13.6" font-weight="bold" font-style="italic" stroke="#000" stroke-width="0.3" stroke-linejoin="round">30</text>
<path d="M748.5,475.60 h6 M776.7,475.60 h-6" stroke="#000" stroke-width="1.3" fill="none"/>
<text transform="translate(783.20,480.40) scale(1.2,1)" text-anchor="start" font-size="13.6" font-weight="bold" font-style="italic" stroke="#000" stroke-width="0.3" stroke-linejoin="round">35</text>
<text transform="translate(743.50,752.30) rotate(-90) scale(0.945,1)" text-anchor="start" font-size="11.6" font-weight="bold" font-style="italic" stroke="#000" stroke-width="0.2" stroke-linejoin="round">Ocean Data View / DIVA</text>
<rect x="105" y="709.5" width="251" height="36.0" fill="#000"/><text x="111" y="736.20" fill="#fff" stroke="#fff" stroke-width="0.4" font-size="24" font-weight="bold" font-style="italic" textLength="241" lengthAdjust="spacingAndGlyphs">Riverine DOC [µM C]</text>
<text x="-0.5" y="448" font-size="29" font-weight="bold">C</text>
<!-- panel D -->
<clipPath id="clipD"><rect x="934.3" y="475.6" width="630.7" height="277.5"/></clipPath>
<g clip-path="url(#clipD)">
<rect x="934" y="475.6" width="631" height="277.5" fill="#1ac846"/>
<path d="M931,512.8 C938.3,512.8 963.5,513.1 975,512.8 C986.5,512.5 991.6,512.1 999.9,511.1 C1008.2,510.1 1018,508.8 1024.9,507 C1031.8,505.2 1036.5,502.5 1041.5,500.3 C1046.5,498.1 1052,496.4 1054.8,493.6 C1057.6,490.8 1057.9,486.6 1058.2,483.6 C1058.5,480.6 1056.8,476.9 1056.5,475.5 L1056,472.6 L931,472.6Z" fill="#24d626" />
<path d="M931,505 C935.5,504.2 949.3,502.2 958,500 C966.7,497.8 976,494.4 983,492 C990,489.6 995.2,487.8 1000,485.3 C1004.8,482.8 1009.7,478.4 1011.6,477 L1011,472.6 L931,472.6Z" fill="#5cc850" filter="url(#blur2)"/>
<path d="M932,485 C933.7,483.2 939.6,485.2 942,486 C944.4,486.8 946.3,488.5 946.6,490 C946.9,491.5 946.4,493.8 944,495 C941.6,496.2 934,498.7 932,497 C930,495.3 930.3,486.8 932,485Z" fill="#ffc31e" />
<path d="M1204.9,473 C1206.3,475.6 1209.1,484.1 1213.3,488.6 C1217.5,493.2 1224.4,495.6 1229.9,500.3 C1235.5,505 1241,511.4 1246.6,517 C1252.1,522.5 1256.3,528.1 1263.2,533.6 C1270.1,539.1 1279.9,545.5 1288.2,550.2 C1296.5,554.9 1304.8,559.1 1313.1,561.9 C1321.4,564.7 1329.8,565 1338.1,566.9 C1346.4,568.8 1354.8,570.1 1363.1,573.5 C1371.4,576.9 1381.8,583 1388,587 C1394.2,591 1393.5,594.2 1400,597.5 C1406.5,600.8 1417,603.8 1427,607 C1437,610.2 1449.1,613.7 1460.2,617 C1471.3,620.3 1482.4,623.7 1493.5,627 C1504.6,630.3 1517.1,634.5 1526.8,637 C1536.5,639.5 1544.9,640.9 1551.8,642 C1558.7,643.1 1565.3,643.3 1568,643.6 L1568,472.6 L1205,472.6Z" fill="#24d626" />
<path d="M1250,473 C1247.2,475.6 1232.4,484.1 1233.2,488.6 C1234,493.2 1247.1,495.9 1254.9,500.3 C1262.7,504.8 1271.6,510.6 1279.9,515.3 C1288.2,520 1296.5,524.4 1304.8,528.6 C1313.1,532.8 1321.5,536.7 1329.8,540.3 C1338.1,543.9 1345.1,547 1354.8,550.3 C1364.5,553.6 1379.8,557.5 1388.1,560.3 C1396.4,563.1 1398,564.4 1404.5,566.9 C1411,569.4 1419.1,572.7 1427,575.2 C1434.9,577.7 1443.6,580.5 1451.9,581.9 C1460.2,583.3 1467.2,582.7 1476.9,583.5 C1486.6,584.3 1499.1,585.2 1510.2,586.9 C1521.3,588.6 1533.9,591.3 1543.5,593.5 C1553.1,595.7 1563.9,599.1 1568,600.2 L1568,472.6 L1250,472.6Z" fill="#5cc850" />
<path d="M1274.9,473 C1274.6,475.1 1272.1,481.3 1273.2,485.3 C1274.3,489.3 1277.6,493.1 1281.5,497 C1285.4,500.9 1291.2,505 1296.5,508.6 C1301.8,512.2 1306.2,515.3 1313.1,518.6 C1320,521.9 1329.8,525.7 1338.1,528.6 C1346.4,531.5 1356.6,534.6 1363.1,535.9 C1369.6,537.2 1370.5,535.8 1377,536.5 C1383.5,537.2 1393.7,539 1402,540.3 C1410.3,541.6 1418.7,543.6 1427,544.4 C1435.3,545.2 1443.6,545.6 1451.9,545.2 C1460.2,544.8 1468.6,543.3 1476.9,541.9 C1485.2,540.5 1493.6,538.6 1501.9,536.9 C1510.2,535.2 1519.9,533.1 1526.8,531.9 C1533.7,530.6 1536.6,529.9 1543.5,529.4 C1550.4,528.9 1563.9,528.7 1568,528.6 L1568,472.6 L1275,472.6Z" fill="#ffc31e" />
<path d="M1361.4,473 C1360.9,475.1 1357,481.3 1358.1,485.3 C1359.2,489.3 1359.4,493.4 1368.1,497 C1376.8,500.6 1394.9,504.8 1410.3,507 C1425.7,509.2 1433.6,509.5 1460.2,510.3 C1486.8,511.1 1551.7,511.7 1570,512 L1568,472.6 L1361,472.6Z" fill="#ffae18" filter="url(#blur2)"/>
<path d="M1405,473 C1410,475.7 1421.7,484.5 1435,489 C1448.3,493.5 1466.9,496.8 1485,500 C1503.1,503.2 1529.3,506.4 1543.5,508 C1557.7,509.6 1565.6,509.3 1570,509.6 L1568,472.6 L1405,472.6Z" fill="#ff9610" filter="url(#blur3)"/>
<path d="M1438,473 C1443.3,475.2 1457.2,482 1470,486.5 C1482.8,491 1498.3,496.4 1515,500 C1531.7,503.6 1560.8,506.7 1570,508 L1568,472.6 L1438,472.6Z" fill="#ee6610" filter="url(#blur2)"/>
<path d="M1462,473 C1466.7,474.9 1479.5,480.6 1490,484.5 C1500.5,488.4 1511.7,493 1525,496.5 C1538.3,500 1562.5,504 1570,505.5 L1568,472.6 L1462,472.6Z" fill="#f4400c" filter="url(#blur2)"/>
<path d="M1482,473 C1486.3,474.6 1499.2,479.4 1508,482.5 C1516.8,485.6 1524.8,488.4 1535.1,491.3 C1545.4,494.2 1564.2,498.2 1570,499.6 L1568,472.6 L1482,472.6Z" fill="#dd0022" filter="url(#blur1)"/>
<path d="M931,523.6 C931.5,523.6 926.7,523.3 934,523.6 C941.3,523.9 962.6,524.5 975,525.3 C987.4,526.1 998.5,527.8 1008.2,528.6 C1017.9,529.4 1022.1,530.2 1033.2,530.3 C1044.3,530.4 1065.9,530.8 1074.8,529.4 C1083.7,528 1083.2,525.1 1086.5,521.9 C1089.8,518.7 1091.2,513.6 1094.8,510.3 C1098.4,507 1103.1,504.1 1108.1,502 C1113.1,499.9 1117.9,498.4 1124.8,497.8 C1131.7,497.2 1143,498.2 1149.7,498.6 C1156.4,499 1160,499.3 1165,500 C1170,500.7 1174.7,500.5 1180,502.8 C1185.3,505.1 1191.6,509.3 1196.6,513.6 C1201.6,517.9 1205.7,523.9 1209.9,528.6 C1214.1,533.3 1218.3,537.5 1221.6,541.9 C1224.9,546.3 1225.7,551.5 1229.9,555.2 C1234.1,559 1239.7,561.9 1246.6,564.4 C1253.5,566.9 1261.8,568.3 1271.5,570.2 C1281.2,572.1 1295.1,574 1304.8,576 C1314.5,578 1321.5,579.5 1329.8,581.9 C1338.1,584.3 1347.9,587.4 1354.8,590.2 C1361.7,593 1365.9,595.8 1371.4,598.5 C1376.9,601.2 1382.9,604 1388,606.5 C1393.1,609 1395.5,611 1402,613.6 C1408.5,616.2 1417.3,618.7 1427,622 C1436.7,625.3 1449.1,629.5 1460.2,633.6 C1471.3,637.8 1483.8,643.3 1493.5,646.9 C1503.2,650.5 1510.2,653.1 1518.5,655.3 C1526.8,657.5 1535.8,658.9 1543.5,660.3 C1551.2,661.7 1560.9,663 1565,663.6 C1569.1,664.2 1567.5,663.6 1568,663.6 L1568,756.1 L931,756.1Z" fill="#00e89a" />
<path d="M931,531.1 C931.5,531.1 929.5,530.7 934,531.1 C938.5,531.5 948.7,531.8 958.3,533.6 C967.9,535.4 981.6,539.4 991.6,541.9 C1001.6,544.4 1009.9,547.1 1018.2,548.6 C1026.5,550.1 1033.5,549.7 1041.5,551.1 C1049.5,552.5 1058.2,554.5 1066.5,556.9 C1074.8,559.2 1084,563.1 1091.5,565.2 C1099,567.3 1103.5,568.6 1111.8,569.4 C1120.1,570.2 1134.2,570.1 1141.4,570.2 C1148.6,570.3 1148.6,569.7 1155,570.2 C1161.4,570.8 1171.7,571.8 1180,573.5 C1188.3,575.2 1196.6,578.2 1204.9,580.2 C1213.2,582.2 1221.6,584.7 1229.9,585.2 C1238.2,585.8 1246.6,584 1254.9,583.5 C1263.2,583 1271.6,581.9 1279.9,581.9 C1288.2,581.9 1297.9,582.4 1304.8,583.5 C1311.7,584.6 1316,586.3 1321.5,588.5 C1327,590.7 1333.3,594.8 1338.1,596.9 C1342.8,599 1345.8,599.3 1350,601 C1354.2,602.7 1358.1,604.3 1363.1,607 C1368,609.7 1373.2,614 1379.7,617 C1386.2,620 1394.1,622.5 1402,625.3 C1409.9,628.1 1417.3,630.3 1427,633.6 C1436.7,636.9 1449.1,641.1 1460.2,645.3 C1471.3,649.5 1483.8,654.7 1493.5,658.6 C1503.2,662.5 1510.2,665.8 1518.5,668.6 C1526.8,671.4 1535.8,673.5 1543.5,675.2 C1551.2,676.9 1560.9,678 1565,678.6 C1569.1,679.2 1567.5,678.6 1568,678.6 L1568,756.1 L931,756.1Z" fill="#44aafa" />
<path d="M931,536.9 C931.5,536.9 926.7,535.8 934,536.9 C941.3,538 961,540.8 975,543.6 C989,546.4 1004.3,550.6 1018.2,553.6 C1032.1,556.6 1046,559 1058.2,561.9 C1070.4,564.8 1080.4,568.8 1091.5,571 C1102.6,573.2 1114.2,573.7 1124.8,575.2 C1135.4,576.7 1145.8,578.8 1155,580.2 C1164.2,581.6 1171.7,582.1 1180,583.5 C1188.3,584.9 1196.6,587.2 1204.9,588.5 C1213.2,589.8 1221.6,590.9 1229.9,591 C1238.2,591.1 1245.2,589.7 1254.9,589.4 C1264.6,589.1 1278.5,588.7 1288.2,589.4 C1297.9,590.1 1306.2,591.7 1313.1,593.5 C1320,595.3 1325.3,598.4 1329.8,600.2 C1334.3,602 1335.8,602.1 1340,604.2 C1344.2,606.3 1349.6,610 1354.8,612.8 C1360,615.5 1365.9,618.6 1371.4,620.7 C1376.9,622.8 1382.9,624 1388,625.2 C1393.1,626.5 1395.5,626.4 1402,628.2 C1408.5,630 1417.3,632.7 1427,636.2 C1436.7,639.8 1449.1,645.1 1460.2,649.5 C1471.3,653.9 1483.8,658.9 1493.5,662.8 C1503.2,666.7 1510.2,669.5 1518.5,672.8 C1526.8,676.1 1535.8,680 1543.5,682.8 C1551.2,685.6 1560.9,688.3 1565,689.4 C1569.1,690.5 1567.5,689.4 1568,689.4 L1568,756.1 L931,756.1Z" fill="#3399f2" />
<path d="M931,541.9 C931.5,541.9 926.7,540.6 934,541.9 C941.3,543.1 961,546.5 975,549.4 C989,552.3 1004.3,556.2 1018.2,559.4 C1032.1,562.6 1046,565.7 1058.2,568.5 C1070.4,571.4 1080.4,574.4 1091.5,576.5 C1102.6,578.5 1114.2,579.3 1124.8,581 C1135.4,582.8 1145.8,585.3 1155,586.9 C1164.2,588.4 1171.7,589 1180,590.2 C1188.3,591.5 1196.6,593.5 1204.9,594.4 C1213.2,595.2 1221.6,595.8 1229.9,595.6 C1238.2,595.4 1245.2,593.6 1254.9,593.1 C1264.6,592.7 1278.5,592.5 1288.2,593.1 C1297.9,593.8 1306.2,595.3 1313.1,597.1 C1320,599 1325.3,602.4 1329.8,604.4 C1334.3,606.5 1335.8,607.1 1340,609.5 C1344.2,611.9 1349.6,615.8 1354.8,618.8 C1360,621.8 1365.9,625 1371.4,627.4 C1376.9,629.9 1382.9,632 1388,633.6 C1393.1,635.1 1395.5,634.9 1402,636.8 C1408.5,638.6 1417.3,641.3 1427,644.9 C1436.7,648.5 1449.1,653.8 1460.2,658.2 C1471.3,662.6 1483.8,667.6 1493.5,671.5 C1503.2,675.4 1510.2,678.3 1518.5,681.5 C1526.8,684.7 1535.8,688.2 1543.5,690.6 C1551.2,693.1 1560.9,695.5 1565,696.5 C1569.1,697.4 1567.5,696.5 1568,696.5 L1568,756.1 L931,756.1Z" fill="#2a88ea" />
<path d="M931,546.9 C931.5,546.9 926.7,545.5 934,546.9 C941.3,548.3 961,552.2 975,555.2 C989,558.2 1004.3,561.9 1018.2,565.2 C1032.1,568.5 1046,572.4 1058.2,575.2 C1070.4,578 1080.4,580 1091.5,581.9 C1102.6,583.8 1114.2,585 1124.8,586.9 C1135.4,588.8 1145.8,591.8 1155,593.5 C1164.2,595.2 1171.7,595.8 1180,596.9 C1188.3,598 1196.6,599.7 1204.9,600.2 C1213.2,600.8 1221.6,600.8 1229.9,600.2 C1238.2,599.7 1245.2,597.5 1254.9,596.9 C1264.6,596.3 1279.4,596.5 1288.2,596.9 C1297,597.2 1302.5,597.9 1308,599 C1313.5,600.1 1316.5,601.3 1321.5,603.7 C1326.5,606.1 1331.2,609.2 1338.1,613.6 C1345,618 1354.8,625.6 1363.1,630.3 C1371.4,635 1381.6,639.5 1388.1,642 C1394.6,644.5 1395.5,643.4 1402,645.3 C1408.5,647.2 1417.3,650 1427,653.6 C1436.7,657.2 1449.1,662.5 1460.2,666.9 C1471.3,671.3 1483.8,676.3 1493.5,680.2 C1503.2,684.1 1510.2,687.2 1518.5,690.2 C1526.8,693.2 1535.8,696.3 1543.5,698.5 C1551.2,700.7 1560.9,702.7 1565,703.5 C1569.1,704.3 1567.5,703.5 1568,703.5 L1568,756.1 L931,756.1Z" fill="#5858f5" />
<path d="M931,566.9 C931.5,566.9 928.1,565.8 934,566.9 C939.9,568 957,572.1 966.6,573.5 C976.2,574.9 983,574.6 991.6,575.2 C1000.2,575.8 1009.9,575.5 1018.2,576.9 C1026.5,578.3 1033.5,580.7 1041.5,583.5 C1049.5,586.3 1058.2,591 1066.5,593.5 C1074.8,596 1083.2,597.1 1091.5,598.5 C1099.8,599.9 1109.2,600.8 1116.4,601.8 C1123.7,602.8 1128.1,603.4 1135,604.5 C1141.9,605.6 1149.1,607.1 1158,608.5 C1166.9,609.9 1177.7,612.2 1188.3,612.8 C1198.9,613.4 1210.5,612.4 1221.6,612 C1232.7,611.6 1243.8,610.7 1254.9,610.3 C1266,609.9 1279.9,609.2 1288.2,609.5 C1296.5,609.8 1299.2,609.9 1304.8,612 C1310.3,614.1 1314.6,617.8 1321.5,622 C1328.4,626.2 1338.1,632.3 1346.4,637 C1354.7,641.7 1363.9,646.4 1371.4,650.3 C1378.9,654.2 1382.5,657 1391.4,660.3 C1400.3,663.6 1414.9,667 1425,670 C1435.1,673 1443.2,675.2 1451.9,678.6 C1460.6,682 1468.6,686.1 1476.9,690.2 C1485.2,694.4 1493.6,699.6 1501.9,703.5 C1510.2,707.4 1518.5,710.4 1526.8,713.5 C1535.1,716.6 1545.4,719.9 1551.8,721.9 C1558.2,723.9 1562.3,724.7 1565,725.2 C1567.7,725.8 1567.5,725.2 1568,725.2 L1568,756.1 L931,756.1Z" fill="#4040f8" />
<path d="M931,604.5 C931.5,604.5 930.8,603.5 934,604.5 C937.2,605.5 943.2,607.4 950,610.3 C956.8,613.2 966.7,617.8 975,622 C983.3,626.2 993,632.7 999.9,635.3 C1006.8,637.9 1011,637.8 1016.6,637.8 C1022.2,637.8 1026.3,637.1 1033.2,635.3 C1040.1,633.5 1051.3,629.5 1058.2,627 C1065.1,624.5 1069.2,622.4 1074.8,620.3 C1080.3,618.2 1086,615.6 1091.5,614.5 C1097,613.4 1102.5,612.9 1108.1,613.6 C1113.6,614.3 1119.2,616.7 1124.8,618.6 C1130.3,620.5 1136.4,622.9 1141.4,625.3 C1146.4,627.7 1150,631.1 1155,632.8 C1160,634.5 1166,635.3 1171.6,635.3 C1177.1,635.3 1180.5,633.6 1188.3,632.8 C1196.1,632 1208.6,631.3 1218.3,630.3 C1228,629.3 1234.9,627.5 1246.6,627 C1258.2,626.5 1279.3,625.9 1288.2,627 C1297.1,628.1 1295.7,630.3 1299.8,633.6 C1303.9,636.9 1308.1,642.5 1313.1,646.9 C1318.1,651.3 1324.2,656.1 1329.8,660.3 C1335.3,664.5 1340.9,668.6 1346.4,671.9 C1352,675.2 1358.4,678.2 1363.1,680.2 C1367.8,682.2 1361.9,680.9 1374.7,683.6 C1387.5,686.3 1419.1,690 1440,696.2 C1460.9,702.5 1487.1,715.8 1500.2,721.1 C1513.3,726.4 1512.7,725.8 1518.5,727.8 C1524.3,729.8 1529.5,731.3 1535.1,732.8 C1540.6,734.3 1546.8,735.9 1551.8,736.9 C1556.8,737.9 1562.3,738.3 1565,738.6 C1567.7,738.9 1567.5,738.6 1568,738.6 L1568,756.1 L931,756.1Z" fill="#9a7cf8" />
<path d="M931,620.8 C931.5,620.8 930.8,619.8 934,620.8 C937.2,621.8 943.2,623.7 950,626.6 C956.8,629.5 967.5,634.7 975,638.3 C982.5,641.9 988,646.3 994.9,648.2 C1001.8,650.1 1008.8,650.3 1016.6,649.9 C1024.4,649.5 1033.2,647.9 1041.5,645.7 C1049.8,643.5 1059.6,639.2 1066.5,636.6 C1073.4,634 1077.5,631.6 1083.1,629.9 C1088.6,628.2 1094.2,626.9 1099.8,626.6 C1105.3,626.3 1110.9,626.9 1116.4,628.3 C1122,629.7 1127.5,632.7 1133.1,634.9 C1138.6,637.1 1144.4,640.1 1149.7,641.6 C1155,643.1 1160,643.4 1165,643.8 C1170,644.2 1173.3,644.6 1180,644.1 C1186.7,643.6 1197.1,641.9 1204.9,640.8 C1212.7,639.7 1218.3,638.6 1226.6,637.4 C1234.9,636.1 1245.2,634 1254.9,633.3 C1264.6,632.6 1277.9,631.9 1284.8,633.3 C1291.7,634.7 1292.3,638 1296.5,641.6 C1300.7,645.2 1304.8,650.5 1309.8,654.9 C1314.8,659.3 1321,664 1326.5,668.2 C1332,672.4 1337.5,676.3 1343.1,679.9 C1348.6,683.5 1356.5,687.4 1359.8,689.9 C1363.1,692.4 1349.7,692.2 1363.1,694.9 C1376.5,697.6 1415.5,700.8 1440,706.3 C1464.5,711.8 1495.7,723.4 1510.2,727.8 C1524.7,732.2 1521.2,731 1526.8,732.5 C1532.3,734 1537.1,735.4 1543.5,737 C1549.9,738.6 1560.9,741.2 1565,742 C1569.1,742.8 1567.5,742 1568,742 L1568,756.1 L931,756.1Z" fill="#e060d8" />
<path d="M931,633 C931.5,633 930.8,631.9 934,633 C937.2,634.2 943.2,637 950,639.8 C956.8,642.6 967.5,647.1 975,649.8 C982.5,652.5 988,654.8 994.9,655.9 C1001.8,657 1008.8,656.9 1016.6,656.2 C1024.4,655.5 1033.2,653.9 1041.5,651.9 C1049.8,649.9 1059.6,646.4 1066.5,644.3 C1073.4,642.2 1077.5,640.5 1083.1,639.2 C1088.6,638 1094.2,637.2 1099.8,637 C1105.3,636.9 1110.9,637.2 1116.4,638.2 C1122,639.1 1127.5,641.2 1133.1,642.6 C1138.6,644 1144.4,645.7 1149.7,646.6 C1155,647.4 1160,647.5 1165,647.6 C1170,647.8 1173.3,647.9 1180,647.4 C1186.7,646.9 1197.1,645.6 1204.9,644.7 C1212.7,643.8 1218.3,642.9 1226.6,641.9 C1234.9,640.9 1245.2,638.6 1254.9,638.5 C1264.6,638.3 1277.9,639.2 1284.8,641.1 C1291.7,643.1 1292.3,646.5 1296.5,650.1 C1300.7,653.7 1304.8,658.6 1309.8,662.9 C1314.8,667.2 1321,671.9 1326.5,676 C1332,680 1337.5,684 1343.1,687.4 C1348.6,690.8 1356.5,694.4 1359.8,696.3 C1363.1,698.3 1349.7,696.6 1363.1,699.1 C1376.5,701.6 1415.5,705.4 1440,711.1 C1464.5,716.9 1495.7,728.8 1510.2,733.4 C1524.7,737.9 1521.2,737 1526.8,738.5 C1532.3,739.9 1537.1,740.9 1543.5,742.4 C1549.9,743.8 1560.9,746.2 1565,747 C1569.1,747.7 1567.5,747 1568,747 L1568,756.1 L931,756.1Z" fill="#e164d9" />
<path d="M931,645.3 C931.5,645.3 929.5,643.4 934,645.3 C938.5,647.2 950.1,653.8 958.3,656.9 C966.5,660 975,662.5 983.3,663.6 C991.6,664.7 999.9,664.2 1008.2,663.6 C1016.5,663 1024.9,662 1033.2,660.3 C1041.5,658.6 1049.9,655.5 1058.2,653.6 C1066.5,651.7 1074.8,649.7 1083.1,648.6 C1091.4,647.5 1099.8,646.6 1108.1,646.9 C1116.4,647.2 1125.3,649.5 1133.1,650.3 C1140.9,651.1 1145.8,651.9 1155,651.9 C1164.2,651.9 1177.2,651.1 1188.3,650.3 C1199.4,649.5 1210.5,648 1221.6,646.9 C1232.7,645.8 1245.2,643.9 1254.9,643.6 C1264.6,643.3 1273.5,643.3 1279.9,645.3 C1286.3,647.2 1289.1,651.7 1293.2,655.3 C1297.3,658.9 1300.1,662.8 1304.8,666.9 C1309.5,671 1316,676 1321.5,680.2 C1327,684.4 1332.5,688.3 1338.1,691.9 C1343.6,695.5 1337.8,697.9 1354.8,701.9 C1371.8,705.9 1411.3,708.9 1440,716 C1468.7,723.1 1509.5,739.1 1526.8,744.4 C1544,749.7 1537.1,746.5 1543.5,747.7 C1549.9,749 1560.9,751.2 1565,751.9 C1569.1,752.6 1567.5,751.9 1568,751.9 L1568,756.1 L931,756.1Z" fill="#e36cdc" />
<path d="M936,725 C938,722.5 943.2,714.9 948.3,710.2 C953.4,705.5 959.4,701.1 966.6,696.9 C973.8,692.7 983.3,688.1 991.6,685.2 C999.9,682.3 1008.3,680 1016.6,679.4 C1024.9,678.8 1033.2,680.6 1041.5,681.9 C1049.8,683.1 1058.2,684.7 1066.5,686.9 C1074.8,689.1 1084.6,693.3 1091.5,695.2 C1098.4,697.1 1103.9,698.5 1108.1,698.5 C1112.2,698.5 1112.2,698 1116.4,695.2 C1120.6,692.4 1126.7,685.4 1133.1,681.9 C1139.5,678.4 1145.8,676.9 1155,674.4 C1164.2,671.9 1177.2,669.1 1188.3,666.9 C1199.4,664.7 1211.9,662.2 1221.6,661.1 C1231.3,660 1239.7,659.6 1246.6,660.3 C1253.5,661 1257.7,662.2 1263.2,665.3 C1268.8,668.3 1274.9,673.3 1279.9,678.6 C1284.9,683.9 1289.1,690.5 1293.2,696.9 C1297.3,703.3 1301.8,710.7 1304.8,716.9 C1307.8,723.1 1309.8,727.5 1311.5,734 C1313.2,740.5 1314.4,752.3 1315,756 L930,756Z" fill="#e67de0" />
<path d="M934.2,482 C936.2,482.3 942.8,482.8 946.6,483.6 C950.5,484.5 955.7,486.4 957.5,487" fill="none" stroke="#111" stroke-width="0.7"/>
<path d="M934.2,515.3 C938.2,515.3 948.7,515.8 958.3,515.6 C967.9,515.4 981.6,514.6 991.6,513.9 C1001.6,513.3 1013.8,512 1018.2,511.6" fill="none" stroke="#111" stroke-width="0.7"/>
<path d="M1054.8,502 C1056.2,500.7 1061.3,497 1063.2,494.5 C1065.1,492 1065.9,489.3 1066.2,487 C1066.4,484.6 1065.6,482.1 1064.8,480.3 C1064.1,478.6 1062.1,477.1 1061.5,476.5" fill="none" stroke="#111" stroke-width="0.7"/>
<path d="M934.2,533.6 C938.2,534.3 948.7,535.8 958.3,537.8 C967.9,539.7 981.6,542.9 991.6,545.2 C1001.6,547.6 1009.9,550.5 1018.2,551.9 C1026.5,553.3 1033.5,552.5 1041.5,553.6 C1049.6,554.7 1058.2,556.3 1066.5,558.6 C1074.8,560.8 1084.5,564.7 1091.5,566.9 C1098.4,569.1 1099.8,570.8 1108.1,571.9 C1116.4,573 1133.6,573 1141.4,573.5 C1149.2,574.1 1152.5,574.9 1154.7,575.2" fill="none" stroke="#111" stroke-width="0.7"/>
<path d="M934.2,555.2 C938.2,556.6 950.1,561.3 958.3,563.6 C966.5,565.8 974.4,567.6 983.3,568.5 C992.1,569.5 1004.6,568.8 1011.6,569.4 C1018.5,569.9 1019.9,570.4 1024.9,571.9 C1029.9,573.4 1036,576.3 1041.5,578.5 C1047.1,580.8 1052.6,583.4 1058.2,585.2 C1063.7,587 1066.5,588.4 1074.8,589.4 C1083.1,590.3 1098.4,589.9 1108.1,591 C1117.8,592.1 1124.8,594.1 1133.1,596 C1141.4,598 1153.9,601.6 1158.1,602.7" fill="none" stroke="#111" stroke-width="0.7"/>
<path d="M1190,492 C1192.5,493.1 1199.7,496.8 1204.9,498.6 C1210.2,500.4 1217.4,501.1 1221.6,502.8 C1225.8,504.5 1227.1,505.7 1229.9,508.6 C1232.7,511.5 1235.2,516.7 1238.2,520.3 C1241.3,523.9 1244.1,526.7 1248.2,530.3 C1252.4,533.9 1257.9,538 1263.2,541.9 C1268.5,545.8 1274.3,550.2 1279.9,553.6 C1285.4,556.9 1291.8,559.5 1296.5,561.9 C1301.2,564.2 1302.6,566.3 1308.2,567.7 C1313.7,569.1 1322,569.1 1329.8,570.2 C1337.6,571.3 1347.8,572.4 1354.8,574.4 C1361.7,576.3 1367.5,580 1371.4,581.9 C1375.3,583.7 1377,584.9 1378.1,585.5" fill="none" stroke="#111" stroke-width="0.7"/>
<path d="M1271.5,477.3 L1266.5,483.6" fill="none" stroke="#111" stroke-width="0.7"/>
<path d="M1281.5,506.1 C1285.4,507.6 1298.2,512.5 1304.8,515.3 C1311.5,518.1 1315.9,520.3 1321.5,522.8 C1327,525.3 1331.2,527.6 1338.1,530.3 C1345.1,532.9 1356.4,536.5 1363.1,538.6 C1369.7,540.7 1375.6,542.1 1378.1,542.7" fill="none" stroke="#111" stroke-width="0.7"/>
<path d="M1361.4,477.3 C1361,478.7 1358.7,482.7 1358.9,485.3 C1359.2,487.9 1361.4,490.8 1363.1,492.8 C1364.8,494.8 1367.9,496.5 1368.9,497.3" fill="none" stroke="#111" stroke-width="0.7"/>
<path d="M1155,575.2 C1157.8,575.6 1166.1,576.7 1171.6,577.7 C1177.2,578.7 1185.5,580.5 1188.3,581" fill="none" stroke="#111" stroke-width="0.7"/>
<path d="M1224.9,587.7 C1228.5,587.1 1238.8,585.1 1246.6,584.4 C1254.3,583.7 1263.2,583.4 1271.5,583.5 C1279.9,583.7 1288.2,583.9 1296.5,585.2 C1304.8,586.4 1314.5,588.8 1321.5,591 C1328.4,593.2 1334,596.3 1338.1,598.5 C1342.3,600.7 1345.1,603.1 1346.4,604" fill="none" stroke="#111" stroke-width="0.7"/>
<path d="M1410.3,507 C1414.5,507.2 1426.9,508.1 1435.3,508.6 C1443.6,509.2 1450.5,509.9 1460.2,510.3 C1469.9,510.7 1482.4,510.9 1493.5,511.1 C1504.6,511.3 1514.9,511.5 1526.8,511.6 C1538.8,511.7 1558.7,511.6 1565.1,511.6" fill="none" stroke="#111" stroke-width="0.7"/>
<path d="M1377,542.2 C1381.6,542.9 1396.1,544.9 1404.5,546.1 C1412.8,547.3 1419,548.6 1426.9,549.4 C1434.8,550.2 1443.6,551.1 1451.9,551.1 C1460.2,551.1 1468.6,550.7 1476.9,549.4 C1485.2,548.2 1493.5,545.7 1501.9,543.6 C1510.2,541.5 1519.9,538.6 1526.8,536.9 C1533.8,535.3 1537.1,534.3 1543.5,533.6 C1549.9,532.9 1561.5,532.9 1565.1,532.8" fill="none" stroke="#111" stroke-width="0.7"/>
<path d="M1510.2,477.3 L1516.8,479.5" fill="none" stroke="#111" stroke-width="0.7"/>
<path d="M1377,585.7 C1380.1,587.6 1389.8,593.9 1395.3,597 C1400.9,600.1 1403.6,602.4 1410.3,604.5 C1417,606.6 1426.9,608 1435.3,609.5 C1443.6,611 1453.6,612.5 1460.2,613.6 C1466.9,614.8 1472.7,616.1 1475.2,616.6" fill="none" stroke="#111" stroke-width="0.7"/>
<path d="M1511.8,625.3 C1515.7,626.5 1528.5,630.6 1535.1,632.8 C1541.8,635 1546.8,636.8 1551.8,638.6 C1556.8,640.4 1562.9,642.8 1565.1,643.6" fill="none" stroke="#111" stroke-width="0.7"/>
<path d="M1377,617 C1381.2,618.5 1393.6,622.9 1402,626.1 C1410.3,629.3 1417.2,632.4 1426.9,636.1 C1436.7,639.9 1449.1,644.4 1460.2,648.6 C1471.3,652.8 1483.8,657.5 1493.5,661.1 C1503.2,664.7 1510.2,667.3 1518.5,670.2 C1526.8,673.2 1535.7,676.4 1543.5,678.6 C1551.2,680.8 1561.5,682.7 1565.1,683.6" fill="none" stroke="#111" stroke-width="0.7"/>
<path d="M1377,645.3 C1381.6,647.1 1396.1,652.5 1404.5,656.1 C1412.8,659.7 1419,663.3 1426.9,666.9 C1434.8,670.5 1443.6,674.3 1451.9,677.7 C1460.2,681.2 1468,684.1 1476.9,687.7 C1485.8,691.3 1500.5,697.4 1505.2,699.4" fill="none" stroke="#111" stroke-width="0.7"/>
<path d="M1527.7,706.9 C1530.3,707.7 1537.2,710.1 1543.5,711.9 C1549.7,713.6 1561.5,716.3 1565.1,717.2" fill="none" stroke="#111" stroke-width="0.7"/>
<path d="M1155,603.7 C1157.8,604.2 1166.1,606.2 1171.6,607 C1177.2,607.8 1180,608.7 1188.3,608.7 C1196.6,608.7 1210.5,607.5 1221.6,607 C1232.7,606.4 1243.8,605.7 1254.9,605.3 C1266,604.9 1279.3,604.2 1288.2,604.5 C1297.1,604.8 1301.2,604.6 1308.2,607 C1315.1,609.3 1322,614.2 1329.8,618.6 C1337.6,623.1 1346.9,629.1 1354.8,633.6 C1362.7,638.1 1373.5,643.6 1377.2,645.6" fill="none" stroke="#111" stroke-width="0.7"/>
<path d="M1346.4,601.7 C1349.2,603.2 1358,608.5 1363.1,611.2 C1368.2,613.8 1374.9,616.3 1377.2,617.3" fill="none" stroke="#111" stroke-width="0.7"/>
<path d="M1155,674.4 C1160.5,673.2 1177.2,669.1 1188.3,666.9 C1199.4,664.7 1211.9,662.2 1221.6,661.1 C1231.3,660 1239.6,659.6 1246.6,660.3 C1253.5,661 1257.7,662.2 1263.2,665.3 C1268.8,668.3 1274.9,673.3 1279.9,678.6 C1284.8,683.8 1289,690.5 1293.2,696.9 C1297.3,703.3 1301.8,710.7 1304.8,716.9 C1307.9,723 1310.4,731.1 1311.5,734" fill="none" stroke="#111" stroke-width="0.7"/>
<path d="M948.3,710.2 C951.4,708 959.4,701 966.6,696.9 C973.8,692.7 983.3,688.1 991.6,685.2 C999.9,682.3 1008.2,680 1016.6,679.4 C1024.9,678.8 1033.2,680.7 1041.5,681.9 C1049.9,683.1 1058.2,684.7 1066.5,686.9 C1074.8,689.1 1084.5,693.3 1091.5,695.2 C1098.4,697.2 1104,698.5 1108.1,698.5 C1112.3,698.5 1112.3,698 1116.4,695.2 C1120.6,692.4 1126.6,685.4 1133.1,681.9 C1139.6,678.4 1151.8,675.7 1155.6,674.4" fill="none" stroke="#111" stroke-width="0.7"/>
<text transform="translate(945.8,497) rotate(-12) scale(1.15,1)" text-anchor="middle" font-size="15.5" font-weight="bold" font-style="italic" fill="#000" stroke="#000" stroke-width="0.35" dy="0.36em">20</text>
<text transform="translate(1038.2,507.8) rotate(-12) scale(1.15,1)" text-anchor="middle" font-size="15.5" font-weight="bold" font-style="italic" fill="#000" stroke="#000" stroke-width="0.35" dy="0.36em">15</text>
<text transform="translate(1269.9,498.6) rotate(35) scale(1.15,1)" text-anchor="middle" font-size="15.5" font-weight="bold" font-style="italic" fill="#000" stroke="#000" stroke-width="0.35" dy="0.36em">20</text>
<text transform="translate(1385.6,502.8) rotate(12) scale(1.15,1)" text-anchor="middle" font-size="15.5" font-weight="bold" font-style="italic" fill="#000" stroke="#000" stroke-width="0.35" dy="0.36em">25</text>
<text transform="translate(1206.6,586) rotate(10) scale(1.15,1)" text-anchor="middle" font-size="15.5" font-weight="bold" font-style="italic" fill="#000" stroke="#000" stroke-width="0.35" dy="0.36em">10</text>
<text transform="translate(1533.5,485.3) rotate(15) scale(1.15,1)" text-anchor="middle" font-size="15.5" font-weight="bold" font-style="italic" fill="#000" stroke="#000" stroke-width="0.35" dy="0.36em">30</text>
<text transform="translate(1494.4,621.6) rotate(12) scale(1.15,1)" text-anchor="middle" font-size="15.5" font-weight="bold" font-style="italic" fill="#000" stroke="#000" stroke-width="0.35" dy="0.36em">15</text>
<text transform="translate(1517.7,703.5) rotate(20) scale(1.15,1)" text-anchor="middle" font-size="15.5" font-weight="bold" font-style="italic" fill="#000" stroke="#000" stroke-width="0.35" dy="0.36em">5</text>
<path d="M934.2,483.4 C938.2,483.1 948.7,482.2 958.3,481.7 C967.9,481.2 981.6,480.7 991.6,480.5 C1001.6,480.4 1009.9,480.5 1018.2,480.9 C1026.5,481.2 1033.5,481.7 1041.5,482.5 C1049.6,483.4 1058.2,484.8 1066.5,485.9 C1074.8,487 1083.7,488.4 1091.5,489.2 C1099.2,490 1104.8,490.7 1113.1,490.5 C1121.4,490.4 1133.9,488.9 1141.4,488.4 C1148.9,487.8 1155.3,487.4 1158.1,487.2" fill="none" stroke="#fff" stroke-width="1.3"/>
<path d="M1068.2,476.2 C1072.1,476.7 1084,478.3 1091.5,479.2 C1099,480.1 1104.8,481.6 1113.1,481.7 C1121.4,481.9 1133.9,480.5 1141.4,480.1 C1148.9,479.6 1155.3,479.1 1158.1,478.9" fill="none" stroke="#fff" stroke-width="1.3"/>
<path d="M934.2,501.7 C936.8,501.1 943.2,499.5 950,498.4 C956.8,497.3 966.9,495.9 974.9,495 C983,494.2 991,493.6 998.2,493.4 C1005.5,493.2 1011.3,493.6 1018.2,493.9 C1025.2,494.1 1036.3,494.8 1039.9,495" fill="none" stroke="#fff" stroke-width="1.3"/>
<path d="M1039.9,495 C1044.3,495.3 1057.9,496.3 1066.5,496.7 C1075.1,497.1 1083.7,497.4 1091.5,497.5 C1099.2,497.7 1104.8,497.8 1113.1,497.5 C1121.4,497.3 1133.9,496.4 1141.4,495.9 C1148.9,495.4 1155.3,494.8 1158.1,494.5" fill="none" stroke="#fff" stroke-width="1.3"/>
<path d="M934.2,520.5 C938.2,520.4 948.7,520 958.3,520 C967.9,520 984.8,520.4 991.6,520.5 C998.4,520.6 997.8,520.8 999.1,520.8" fill="none" stroke="#fff" stroke-width="1.3"/>
<path d="M1036.5,522.2 C1037.4,522.1 1036.5,522.3 1041.5,521.8 C1046.5,521.4 1058.2,520.6 1066.5,519.5 C1074.8,518.4 1083.7,516.2 1091.5,515 C1099.2,513.8 1104.8,512.8 1113.1,512.5 C1121.4,512.2 1132.5,512.9 1141.4,513.3 C1150.3,513.8 1159.7,514.3 1166.4,515 C1173,515.7 1177.5,516 1181.4,517.5 C1185.3,519 1188.3,523.1 1189.7,524.2" fill="none" stroke="#fff" stroke-width="1.3"/>
<path d="M934.2,541.6 C938.2,542.6 948.7,545.3 958.3,547.5 C967.9,549.7 981.6,552.7 991.6,555 C1001.6,557.2 1009.9,559 1018.2,560.8 C1026.5,562.6 1033.5,564 1041.5,565.8 C1049.6,567.6 1058.2,569.9 1066.5,571.6 C1074.8,573.3 1083.7,574.6 1091.5,575.8 C1099.2,577 1104.8,577.4 1113.1,578.8 C1121.4,580.2 1132.5,582.2 1141.4,584.1 C1150.3,586 1158.1,588.1 1166.4,589.9 C1174.7,591.7 1187.2,594.1 1191.4,594.9" fill="none" stroke="#fff" stroke-width="1.3"/>
<path d="M1155,495 C1160.5,494.6 1177.2,493 1188.3,492.5 C1199.4,492.1 1213.3,492.1 1221.6,492.5 C1229.9,493 1231.3,493.8 1238.2,495 C1245.2,496.3 1254.9,498.1 1263.2,500 C1271.5,502 1281.2,505 1288.2,506.7 C1295.1,508.4 1297.9,509.3 1304.8,510 C1311.8,510.8 1320.1,511 1329.8,511.2 C1339.5,511.3 1355,511 1363.1,510.8 C1371.1,510.7 1375.6,510.3 1378.1,510.2" fill="none" stroke="#fff" stroke-width="1.3"/>
<path d="M1155,478.4 L1180,477.9" fill="none" stroke="#fff" stroke-width="1.3"/>
<path d="M1155,486.2 L1180,485.5" fill="none" stroke="#fff" stroke-width="1.3"/>
<path d="M1216.6,481.7 C1221.6,481.6 1237.4,480.9 1246.6,480.9 C1255.7,480.9 1263.2,481.6 1271.5,481.7 C1279.9,481.9 1287.1,481.9 1296.5,481.7 C1305.9,481.6 1322.9,481 1328.1,480.9" fill="none" stroke="#fff" stroke-width="1.3"/>
<path d="M1216.6,485 C1220.2,485.3 1230.5,486 1238.2,486.7 C1246,487.4 1254.9,488.4 1263.2,489.2 C1271.5,490 1279.9,491.1 1288.2,491.7 C1296.5,492.3 1304.8,492.6 1313.1,492.9 C1321.5,493.1 1327.3,493.3 1338.1,493.4 C1348.9,493.5 1371.4,493.4 1378.1,493.4" fill="none" stroke="#fff" stroke-width="1.3"/>
<path d="M1185,519.2 C1186.1,520.6 1189.4,524.7 1191.6,527.5 C1193.8,530.3 1195.2,533 1198.3,535.8 C1201.3,538.6 1204.7,541.6 1209.9,544.1 C1215.2,546.6 1222.4,549.1 1229.9,550.8 C1237.4,552.5 1245.2,553.3 1254.9,554.1 C1264.6,555 1277.1,555.2 1288.2,555.8 C1299.3,556.4 1310.4,556.6 1321.5,557.5 C1332.6,558.3 1345.3,559.6 1354.8,560.8 C1364.2,562 1374.2,564 1378.1,564.6" fill="none" stroke="#fff" stroke-width="1.3"/>
<path d="M1229.9,594.9 C1234.1,594.4 1246.6,592.4 1254.9,591.6 C1263.2,590.8 1271.5,590.1 1279.9,589.9 C1288.2,589.8 1297.9,590.1 1304.8,590.8 C1311.8,591.4 1315.9,592.4 1321.5,594.1 C1327,595.7 1334.5,599.3 1338.1,600.7 C1341.7,602.2 1342.3,602.5 1343.1,602.9" fill="none" stroke="#fff" stroke-width="1.3"/>
<path d="M1377,493.4 C1382.5,493.2 1399.2,492.5 1410.3,492.5 C1421.4,492.5 1432.5,492.8 1443.6,493.4 C1454.7,493.9 1465.8,494.9 1476.9,495.9 C1488,496.8 1499.1,497.9 1510.2,499.2 C1521.3,500.4 1534.3,502.1 1543.5,503.4 C1552.6,504.6 1561.5,506.1 1565.1,506.7" fill="none" stroke="#fff" stroke-width="1.3"/>
<path d="M1377,510 C1382.5,509.7 1399.2,508.2 1410.3,508.4 C1421.4,508.5 1432.5,509.6 1443.6,510.8 C1454.7,512.1 1465.8,514 1476.9,515.8 C1488,517.6 1499.1,519.9 1510.2,521.7 C1521.3,523.5 1534.3,525.1 1543.5,526.7 C1552.6,528.2 1561.5,530.1 1565.1,530.8" fill="none" stroke="#fff" stroke-width="1.3"/>
<path d="M1480.2,476.2 C1483.8,477 1494.1,479.4 1501.9,480.9 C1509.6,482.4 1519.6,483.9 1526.8,485 C1534,486.2 1542.1,487.1 1545.1,487.5" fill="none" stroke="#fff" stroke-width="1.3"/>
<path d="M1377.8,564.1 C1382.3,564.9 1396.3,566.4 1404.5,568.6 C1412.7,570.8 1419,575 1426.9,577.4 C1434.8,579.9 1445.5,582 1451.9,583.3 C1458.3,584.5 1463,584.7 1465.2,584.9" fill="none" stroke="#fff" stroke-width="1.3"/>
<path d="M1493.5,585.4 C1497.7,585.5 1510.2,585.3 1518.5,586.1 C1526.8,586.8 1537.1,588.3 1543.5,589.9 C1549.9,591.5 1553.2,593.9 1556.8,595.7 C1560.4,597.6 1563.7,599.9 1565.1,600.7" fill="none" stroke="#fff" stroke-width="1.3"/>
<path d="M1465.2,584.9 C1467.7,585 1475.5,585.5 1480.2,585.6 C1484.9,585.7 1491.3,585.5 1493.5,585.4" fill="none" stroke="#fff" stroke-width="1.3"/>
<path d="M1338,601.4 C1338.5,601.7 1337.7,601.4 1341,603.3 C1344.3,605.2 1352.3,609.9 1358,612.7 C1363.7,615.5 1372.2,619 1375,620.3" fill="none" stroke="#fff" stroke-width="1.3"/>
<path d="M1375,619.2 C1375.3,619.3 1372.5,618.8 1377,620 C1381.5,621.3 1393.6,624.5 1402,626.7 C1410.3,628.9 1417.2,630.4 1426.9,633.4 C1436.7,636.3 1449.1,640.2 1460.2,644.2 C1471.3,648.2 1483.8,653.6 1493.5,657.5 C1503.2,661.4 1510.2,663.9 1518.5,667.5 C1526.8,671.1 1535.7,675.4 1543.5,679.1 C1551.2,682.9 1561.5,688.2 1565.1,690" fill="none" stroke="#fff" stroke-width="1.3"/>
<path d="M1548.5,595.9 L1565.1,601.7" fill="none" stroke="#fff" stroke-width="1.3"/>
<text transform="translate(1018.2,521.7) rotate(3) scale(1.15,1)" text-anchor="middle" font-size="15.8" font-weight="bold" font-style="italic" fill="#fff" stroke="#fff" stroke-width="0.15" dy="0.36em">26</text>
<text transform="translate(1198.3,485) rotate(3) scale(1.15,1)" text-anchor="middle" font-size="15.8" font-weight="bold" font-style="italic" fill="#fff" stroke="#fff" stroke-width="0.15" dy="0.36em">24</text>
<text transform="translate(1348.1,479.6) rotate(-8) scale(1.15,1)" text-anchor="middle" font-size="15.8" font-weight="bold" font-style="italic" fill="#fff" stroke="#fff" stroke-width="0.15" dy="0.36em">23</text>
<text transform="translate(1209.9,595.4) rotate(5) scale(1.15,1)" text-anchor="middle" font-size="15.8" font-weight="bold" font-style="italic" fill="#fff" stroke="#fff" stroke-width="0.15" dy="0.36em">27</text>
<text transform="translate(1561,490.9) rotate(12) scale(1.15,1)" text-anchor="middle" font-size="15.8" font-weight="bold" font-style="italic" fill="#fff" stroke="#fff" stroke-width="0.15" dy="0.36em">25</text>
<text transform="translate(1401.4,509.9) rotate(8) scale(1.15,1)" text-anchor="middle" font-size="15.8" font-weight="bold" font-style="italic" fill="#fff" stroke="#fff" stroke-width="0.15" dy="0.36em">25</text>
<path d="M1308.5,753.2 L1404.5,655.5 L1541,753.2Z" fill="#363636" />
<path d="M934,719.9 L1017.4,753.2 L934,753.2Z" fill="#363636" />
<circle cx="944.1" cy="477" r="2.7" fill="#3a3a3a"/><circle cx="944.1" cy="494.2" r="2.7" fill="#3a3a3a"/><circle cx="944.1" cy="508.2" r="2.7" fill="#3a3a3a"/><circle cx="944.1" cy="531.6" r="2.7" fill="#3a3a3a"/><circle cx="944.1" cy="549.4" r="2.7" fill="#3a3a3a"/><circle cx="944.1" cy="568.2" r="2.7" fill="#3a3a3a"/><circle cx="944.1" cy="642.8" r="2.7" fill="#3a3a3a"/>
<circle cx="1018.7" cy="477" r="2.7" fill="#3a3a3a"/><circle cx="1018.7" cy="490.8" r="2.7" fill="#3a3a3a"/><circle cx="1018.7" cy="507.5" r="2.7" fill="#3a3a3a"/><circle cx="1018.7" cy="522.5" r="2.7" fill="#3a3a3a"/><circle cx="1018.7" cy="549.4" r="2.7" fill="#3a3a3a"/><circle cx="1018.7" cy="559.1" r="2.7" fill="#3a3a3a"/><circle cx="1018.7" cy="568.2" r="2.7" fill="#3a3a3a"/><circle cx="1018.7" cy="577.7" r="2.7" fill="#3a3a3a"/><circle cx="1018.7" cy="624.2" r="2.7" fill="#3a3a3a"/><circle cx="1018.7" cy="660.8" r="2.7" fill="#3a3a3a"/>
<circle cx="1111.8" cy="477" r="2.7" fill="#3a3a3a"/><circle cx="1111.8" cy="484.8" r="2.7" fill="#3a3a3a"/><circle cx="1111.8" cy="501.7" r="2.7" fill="#3a3a3a"/><circle cx="1111.8" cy="513.2" r="2.7" fill="#3a3a3a"/><circle cx="1111.8" cy="549.4" r="2.7" fill="#3a3a3a"/><circle cx="1111.8" cy="568.2" r="2.7" fill="#3a3a3a"/><circle cx="1111.8" cy="587.4" r="2.7" fill="#3a3a3a"/><circle cx="1111.8" cy="605.4" r="2.7" fill="#3a3a3a"/><circle cx="1111.8" cy="642.8" r="2.7" fill="#3a3a3a"/><circle cx="1111.8" cy="706.9" r="2.7" fill="#3a3a3a"/>
<circle cx="1221.6" cy="477" r="2.7" fill="#3a3a3a"/><circle cx="1221.6" cy="489.5" r="2.7" fill="#3a3a3a"/><circle cx="1221.6" cy="496.5" r="2.7" fill="#3a3a3a"/><circle cx="1221.6" cy="503.7" r="2.7" fill="#3a3a3a"/><circle cx="1221.6" cy="522.5" r="2.7" fill="#3a3a3a"/><circle cx="1221.6" cy="540.3" r="2.7" fill="#3a3a3a"/><circle cx="1221.6" cy="568.2" r="2.7" fill="#3a3a3a"/><circle cx="1221.6" cy="587.4" r="2.7" fill="#3a3a3a"/><circle cx="1221.6" cy="605.4" r="2.7" fill="#3a3a3a"/><circle cx="1221.6" cy="660.8" r="2.7" fill="#3a3a3a"/>
<circle cx="1307.3" cy="477" r="2.7" fill="#3a3a3a"/><circle cx="1307.3" cy="494.2" r="2.7" fill="#3a3a3a"/><circle cx="1307.3" cy="503.7" r="2.7" fill="#3a3a3a"/><circle cx="1307.3" cy="512.8" r="2.7" fill="#3a3a3a"/><circle cx="1307.3" cy="531.6" r="2.7" fill="#3a3a3a"/><circle cx="1307.3" cy="549.4" r="2.7" fill="#3a3a3a"/><circle cx="1307.3" cy="568.2" r="2.7" fill="#3a3a3a"/><circle cx="1307.3" cy="605.4" r="2.7" fill="#3a3a3a"/><circle cx="1307.3" cy="628.7" r="2.7" fill="#3a3a3a"/><circle cx="1307.3" cy="660.8" r="2.7" fill="#3a3a3a"/>
<circle cx="1404.3" cy="477" r="2.7" fill="#3a3a3a"/><circle cx="1404.3" cy="489.5" r="2.7" fill="#3a3a3a"/><circle cx="1404.3" cy="503.7" r="2.7" fill="#3a3a3a"/><circle cx="1404.3" cy="511.5" r="2.7" fill="#3a3a3a"/><circle cx="1404.3" cy="522.5" r="2.7" fill="#3a3a3a"/><circle cx="1404.3" cy="540.3" r="2.7" fill="#3a3a3a"/><circle cx="1404.3" cy="568.2" r="2.7" fill="#3a3a3a"/><circle cx="1404.3" cy="605.4" r="2.7" fill="#3a3a3a"/><circle cx="1404.3" cy="646.5" r="2.7" fill="#3a3a3a"/>
<circle cx="1541.5" cy="477" r="2.7" fill="#3a3a3a"/><circle cx="1541.5" cy="499.2" r="2.7" fill="#3a3a3a"/><circle cx="1541.5" cy="517.8" r="2.7" fill="#3a3a3a"/><circle cx="1541.5" cy="527" r="2.7" fill="#3a3a3a"/><circle cx="1541.5" cy="544.4" r="2.7" fill="#3a3a3a"/><circle cx="1541.5" cy="568.2" r="2.7" fill="#3a3a3a"/><circle cx="1541.5" cy="605.4" r="2.7" fill="#3a3a3a"/><circle cx="1541.5" cy="651.6" r="2.7" fill="#3a3a3a"/><circle cx="1541.5" cy="735.3" r="2.7" fill="#3a3a3a"/>
</g>
<rect x="934.3" y="475.6" width="630.7" height="277.5" fill="none" stroke="#000" stroke-width="1.7"/>
<path d="M926.8,475.60 H934.3" stroke="#000" stroke-width="1.4"/>
<text transform="translate(920.90,481.80) scale(1.19,1)" text-anchor="end" font-size="15.6" font-weight="bold" font-style="italic" stroke="#000" stroke-width="0.3" stroke-linejoin="round">0</text>
<path d="M926.8,521.85 H934.3" stroke="#000" stroke-width="1.4"/>
<text transform="translate(920.90,528.05) scale(1.19,1)" text-anchor="end" font-size="15.6" font-weight="bold" font-style="italic" stroke="#000" stroke-width="0.3" stroke-linejoin="round">50</text>
<path d="M926.8,568.10 H934.3" stroke="#000" stroke-width="1.4"/>
<text transform="translate(920.90,574.30) scale(1.19,1)" text-anchor="end" font-size="15.6" font-weight="bold" font-style="italic" stroke="#000" stroke-width="0.3" stroke-linejoin="round">100</text>
<path d="M926.8,614.35 H934.3" stroke="#000" stroke-width="1.4"/>
<text transform="translate(920.90,620.55) scale(1.19,1)" text-anchor="end" font-size="15.6" font-weight="bold" font-style="italic" stroke="#000" stroke-width="0.3" stroke-linejoin="round">150</text>
<path d="M926.8,660.60 H934.3" stroke="#000" stroke-width="1.4"/>
<text transform="translate(920.90,666.80) scale(1.19,1)" text-anchor="end" font-size="15.6" font-weight="bold" font-style="italic" stroke="#000" stroke-width="0.3" stroke-linejoin="round">200</text>
<path d="M926.8,706.85 H934.3" stroke="#000" stroke-width="1.4"/>
<text transform="translate(920.90,713.05) scale(1.19,1)" text-anchor="end" font-size="15.6" font-weight="bold" font-style="italic" stroke="#000" stroke-width="0.3" stroke-linejoin="round">250</text>
<path d="M926.8,753.10 H934.3" stroke="#000" stroke-width="1.4"/>
<text transform="translate(920.90,759.30) scale(1.19,1)" text-anchor="end" font-size="15.6" font-weight="bold" font-style="italic" stroke="#000" stroke-width="0.3" stroke-linejoin="round">300</text>
<path d="M934.10,753.1 V760.6" stroke="#000" stroke-width="1.4"/>
<text transform="translate(934.40,781.60) scale(1.19,1)" text-anchor="middle" font-size="15.6" font-weight="bold" font-style="italic" stroke="#000" stroke-width="0.3" stroke-linejoin="round">0</text>
<path d="M1089.32,753.1 V760.6" stroke="#000" stroke-width="1.4"/>
<text transform="translate(1089.62,781.60) scale(1.19,1)" text-anchor="middle" font-size="15.6" font-weight="bold" font-style="italic" stroke="#000" stroke-width="0.3" stroke-linejoin="round">200</text>
<path d="M1244.54,753.1 V760.6" stroke="#000" stroke-width="1.4"/>
<text transform="translate(1244.84,781.60) scale(1.19,1)" text-anchor="middle" font-size="15.6" font-weight="bold" font-style="italic" stroke="#000" stroke-width="0.3" stroke-linejoin="round">400</text>
<path d="M1399.76,753.1 V760.6" stroke="#000" stroke-width="1.4"/>
<text transform="translate(1400.06,781.60) scale(1.19,1)" text-anchor="middle" font-size="15.6" font-weight="bold" font-style="italic" stroke="#000" stroke-width="0.3" stroke-linejoin="round">600</text>
<path d="M1554.98,753.1 V760.6" stroke="#000" stroke-width="1.4"/>
<text transform="translate(1555.28,781.60) scale(1.19,1)" text-anchor="middle" font-size="15.6" font-weight="bold" font-style="italic" stroke="#000" stroke-width="0.3" stroke-linejoin="round">800</text>
<path d="M1011.71,753.1 V758.1" stroke="#000" stroke-width="0.7"/>
<path d="M1166.93,753.1 V758.1" stroke="#000" stroke-width="0.7"/>
<path d="M1322.15,753.1 V758.1" stroke="#000" stroke-width="0.7"/>
<path d="M1477.37,753.1 V758.1" stroke="#000" stroke-width="0.7"/>
<text transform="translate(942.80,471.20) scale(0.84,1)" text-anchor="middle" font-size="21.5" font-style="italic">32</text>
<text transform="translate(1019.80,471.20) scale(0.84,1)" text-anchor="middle" font-size="21.5" font-style="italic">28</text>
<text transform="translate(1112.80,471.20) scale(0.84,1)" text-anchor="middle" font-size="21.5" font-style="italic">27</text>
<text transform="translate(1220.80,471.20) scale(0.84,1)" text-anchor="middle" font-size="21.5" font-style="italic">26</text>
<text transform="translate(1308.80,471.20) scale(0.84,1)" text-anchor="middle" font-size="21.5" font-style="italic">25</text>
<text transform="translate(1404.80,471.20) scale(0.84,1)" text-anchor="middle" font-size="21.5" font-style="italic">24</text>
<text transform="translate(1540.80,471.20) scale(0.84,1)" text-anchor="middle" font-size="21.5" font-style="italic">15</text>
<defs><linearGradient id="cgD" x1="0" y1="1" x2="0" y2="0">
<stop offset="0.0000" stop-color="#ffc31e"/>
<stop offset="0.0566" stop-color="#ffa010"/>
<stop offset="0.2075" stop-color="#f06a10"/>
<stop offset="0.3660" stop-color="#ff3a0a"/>
<stop offset="0.3660" stop-color="#dd0022"/>
<stop offset="0.4566" stop-color="#dd0022"/>
<stop offset="0.5245" stop-color="#e02840"/>
<stop offset="0.6038" stop-color="#e84a62"/>
<stop offset="0.7358" stop-color="#f88080"/>
<stop offset="0.8151" stop-color="#ff9c90"/>
<stop offset="0.8679" stop-color="#ffb090"/>
<stop offset="1.0000" stop-color="#ffb090"/>
</linearGradient></defs>
<rect x="1583.5" y="749.77" width="28.200000000000045" height="3.63" fill="#e986e2"/>
<rect x="1583.5" y="745.61" width="28.200000000000045" height="4.46" fill="#e060d8"/>
<rect x="1583.5" y="739.23" width="28.200000000000045" height="6.68" fill="#9a7cf8"/>
<rect x="1583.5" y="719.80" width="28.200000000000045" height="19.72" fill="#4040f8"/>
<rect x="1583.5" y="699.26" width="28.200000000000045" height="20.84" fill="#5858f5"/>
<rect x="1583.5" y="689.00" width="28.200000000000045" height="10.57" fill="#2a88ea"/>
<rect x="1583.5" y="679.29" width="28.200000000000045" height="10.01" fill="#3399f2"/>
<rect x="1583.5" y="670.68" width="28.200000000000045" height="8.90" fill="#44aafa"/>
<rect x="1583.5" y="649.59" width="28.200000000000045" height="21.39" fill="#00e89a"/>
<rect x="1583.5" y="627.12" width="28.200000000000045" height="22.78" fill="#1ac846"/>
<rect x="1583.5" y="607.41" width="28.200000000000045" height="20.00" fill="#24d626"/>
<rect x="1583.5" y="590.21" width="28.200000000000045" height="17.51" fill="#5cc850"/>
<rect x="1583.5" y="549.14" width="28.200000000000045" height="41.37" fill="#ffc31e"/>
<rect x="1583.5" y="475.60" width="28.200000000000045" height="73.84" fill="url(#cgD)"/>
<path d="M1583.5,475.6 L1589.5,475.6 L1597.6,471.3 L1605.7,475.6 L1611.7,475.6 Z" fill="#ffb090"/>
<path d="M1583.5,753.1 L1589.5,753.1 L1597.6,757.4 L1605.7,753.1 L1611.7,753.1 Z" fill="#e986e2"/>
<path d="M1583.5,753.1 L1583.5,475.6 M1611.7,475.6 L1611.7,753.1" stroke="#000" stroke-width="1" fill="none"/>
<path d="M1583.5,475.6 L1589.5,475.6 L1597.6,471.3 L1605.7,475.6 L1611.7,475.6 M1583.5,753.1 L1589.5,753.1 L1597.6,757.4 L1605.7,753.1 L1611.7,753.1" stroke="#000" stroke-width="0.6" fill="none"/>
<path d="M1583.5,753.10 h6 M1611.7,753.10 h-6" stroke="#000" stroke-width="1.3" fill="none"/>
<text transform="translate(1618.20,757.90) scale(1.2,1)" text-anchor="start" font-size="13.6" font-weight="bold" font-style="italic" stroke="#000" stroke-width="0.3" stroke-linejoin="round">0</text>
<path d="M1583.5,713.46 h6 M1611.7,713.46 h-6" stroke="#000" stroke-width="1.3" fill="none"/>
<text transform="translate(1618.20,718.26) scale(1.2,1)" text-anchor="start" font-size="13.6" font-weight="bold" font-style="italic" stroke="#000" stroke-width="0.3" stroke-linejoin="round">5</text>
<path d="M1583.5,673.81 h6 M1611.7,673.81 h-6" stroke="#000" stroke-width="1.3" fill="none"/>
<text transform="translate(1618.20,678.61) scale(1.2,1)" text-anchor="start" font-size="13.6" font-weight="bold" font-style="italic" stroke="#000" stroke-width="0.3" stroke-linejoin="round">10</text>
<path d="M1583.5,634.17 h6 M1611.7,634.17 h-6" stroke="#000" stroke-width="1.3" fill="none"/>
<text transform="translate(1618.20,638.97) scale(1.2,1)" text-anchor="start" font-size="13.6" font-weight="bold" font-style="italic" stroke="#000" stroke-width="0.3" stroke-linejoin="round">15</text>
<path d="M1583.5,594.53 h6 M1611.7,594.53 h-6" stroke="#000" stroke-width="1.3" fill="none"/>
<text transform="translate(1618.20,599.33) scale(1.2,1)" text-anchor="start" font-size="13.6" font-weight="bold" font-style="italic" stroke="#000" stroke-width="0.3" stroke-linejoin="round">20</text>
<path d="M1583.5,554.89 h6 M1611.7,554.89 h-6" stroke="#000" stroke-width="1.3" fill="none"/>
<text transform="translate(1618.20,559.69) scale(1.2,1)" text-anchor="start" font-size="13.6" font-weight="bold" font-style="italic" stroke="#000" stroke-width="0.3" stroke-linejoin="round">25</text>
<path d="M1583.5,515.24 h6 M1611.7,515.24 h-6" stroke="#000" stroke-width="1.3" fill="none"/>
<text transform="translate(1618.20,520.04) scale(1.2,1)" text-anchor="start" font-size="13.6" font-weight="bold" font-style="italic" stroke="#000" stroke-width="0.3" stroke-linejoin="round">30</text>
<path d="M1583.5,475.60 h6 M1611.7,475.60 h-6" stroke="#000" stroke-width="1.3" fill="none"/>
<text transform="translate(1618.20,480.40) scale(1.2,1)" text-anchor="start" font-size="13.6" font-weight="bold" font-style="italic" stroke="#000" stroke-width="0.3" stroke-linejoin="round">35</text>
<text transform="translate(1578.50,752.30) rotate(-90) scale(0.945,1)" text-anchor="start" font-size="11.6" font-weight="bold" font-style="italic" stroke="#000" stroke-width="0.2" stroke-linejoin="round">Ocean Data View / DIVA</text>
<rect x="941" y="709.5" width="250" height="36.0" fill="#000"/><text x="947" y="736.20" fill="#fff" stroke="#fff" stroke-width="0.4" font-size="24" font-weight="bold" font-style="italic" textLength="241" lengthAdjust="spacingAndGlyphs">Riverine DOC [µM C]</text>
<text x="852.8" y="448" font-size="29" font-weight="bold">D</text>
<rect x="99.5" y="6" width="493.0" height="43.3" fill="#fff" stroke="#000" stroke-width="1.5" stroke-linejoin="round"/><text x="345.50" y="35.25" text-anchor="middle" font-size="21.5">CS</text>
<rect x="600.5" y="6" width="132.89999999999998" height="43.3" fill="#fff" stroke="#000" stroke-width="1.5" stroke-linejoin="round"/><text x="666.45" y="35.25" text-anchor="middle" font-size="21.5">CBL</text>
<rect x="932.5" y="2.5" width="223.5" height="43.0" fill="#fff" stroke="#000" stroke-width="1.5" stroke-linejoin="round"/><text x="1043.75" y="31.60" text-anchor="middle" font-size="21.5">ESS</text>
<rect x="1161.5" y="2.5" width="400.0" height="43.0" fill="#fff" stroke="#000" stroke-width="1.5" stroke-linejoin="round"/><text x="1361.00" y="31.60" text-anchor="middle" font-size="21.5">CBL</text>
<text transform="translate(32.80,212.40) rotate(-90) scale(1.065,1)" text-anchor="middle" font-size="24" font-weight="bold" font-style="italic" stroke="#000" stroke-width="0.4" stroke-linejoin="round">Depth [m]</text>
<text transform="translate(32.80,608.60) rotate(-90) scale(1.065,1)" text-anchor="middle" font-size="24" font-weight="bold" font-style="italic" stroke="#000" stroke-width="0.4" stroke-linejoin="round">Depth [m]</text>
<text transform="translate(411.80,819.60) scale(1.04,1)" text-anchor="middle" font-size="24.2" font-weight="bold" font-style="italic" stroke="#000" stroke-width="0.4" stroke-linejoin="round">Section Distance [km]</text>
<text transform="translate(1246.80,819.60) scale(1.04,1)" text-anchor="middle" font-size="24.2" font-weight="bold" font-style="italic" stroke="#000" stroke-width="0.4" stroke-linejoin="round">Section Distance [km]</text>
</svg></body></html>
